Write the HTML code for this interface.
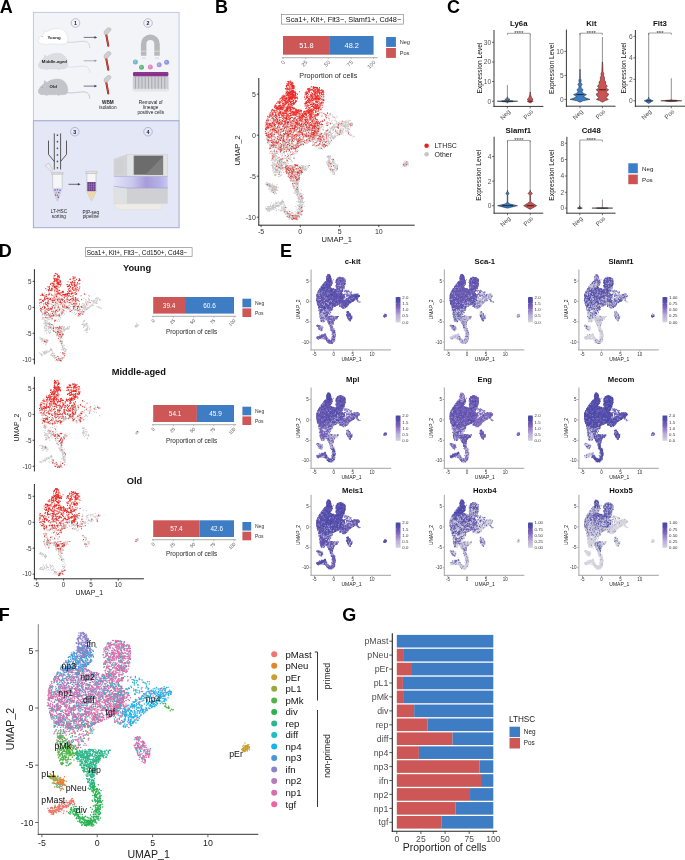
<!DOCTYPE html><html><head><meta charset="utf-8"><style>html,body{margin:0;padding:0;background:#fff}svg{display:block;will-change:transform}text{font-family:"Liberation Sans", sans-serif}</style></head><body>
<svg width="685" height="860" viewBox="0 0 685 860">
<defs><g id="pts" fill="none" stroke-linecap="round" vector-effect="non-scaling-stroke"><path vector-effect="non-scaling-stroke" fill="none" stroke-linecap="round" id="q0a00" d="M-71 176h0M-43 163h0M-61 165h0M-48 161h0M-81 185h0M-79 186h0M-47 164h0M-86 179h0M-45 163h0M-65 176h0M-71 172h0M-80 181h0M-52 171h0M-80 179h0M-69 177h0M-50 164h0M-47 164h0M-46 159h0M-68 170h0M-41 169h0"/><path vector-effect="non-scaling-stroke" fill="none" stroke-linecap="round" id="q0a01" d="M-61 174h0M-69 181h0M-64 168h0M-73 174h0M-63 171h0M-46 166h0M-89 175h0M-43 164h0M-83 179h0M-60 173h0M-57 170h0M-46 166h0M-64 175h0M-70 174h0M-61 174h0M-68 173h0M-64 176h0M-48 166h0"/><path vector-effect="non-scaling-stroke" fill="none" stroke-linecap="round" id="q0b00" d="M-44 163h0M-53 165h0M-43 164h0M-59 172h0M-78 176h0M-63 171h0M-55 165h0M-43 161h0M-67 181h0M-60 166h0M-61 167h0M-68 177h0M-62 173h0"/><path vector-effect="non-scaling-stroke" fill="none" stroke-linecap="round" id="q0b01" d="M-74 177h0M-66 176h0M-54 170h0M-68 168h0M-45 158h0M-83 182h0M-70 176h0M-87 182h0M-55 170h0M-49 162h0M-83 185h0M-47 167h0M-45 163h0M-74 180h0"/><path vector-effect="non-scaling-stroke" fill="none" stroke-linecap="round" id="q0c00" d="M-55 181h0M-76 172h0M-64 166h0M-59 172h0M-75 180h0M-85 179h0M-58 173h0M-74 183h0M-69 179h0M-61 184h0M-50 168h0M-67 126h0M-61 172h0M-49 164h0M-81 182h0M-63 163h0M-81 174h0M-74 165h0M-78 131h0M-78 179h0M-84 175h0M-70 131h0"/><path vector-effect="non-scaling-stroke" fill="none" stroke-linecap="round" id="q0c01" d="M-55 174h0M-75 123h0M-70 171h0M-41 167h0M-70 174h0M-60 172h0M-83 180h0M-88 179h0M-48 167h0M-63 175h0M-86 181h0M-67 136h0M-71 178h0M-83 174h0"/><path vector-effect="non-scaling-stroke" fill="none" stroke-linecap="round" id="q0d00" d="M-79 185h0M-62 166h0M-49 169h0M-81 179h0M-81 118h0M-50 167h0M-66 129h0M-69 169h0M-78 179h0M-68 175h0M-56 162h0M-67 171h0M-53 166h0M-42 164h0M-64 178h0M-76 178h0M-43 163h0M-84 181h0M-65 176h0M-76 173h0M-79 179h0M-58 165h0M-79 180h0M-50 169h0M-84 182h0M-46 162h0M-66 171h0M-50 165h0M-61 171h0M-70 181h0"/><path vector-effect="non-scaling-stroke" fill="none" stroke-linecap="round" id="q0d01" d="M-83 182h0M-75 174h0M-57 171h0M-56 174h0M-85 180h0M-75 180h0M-74 177h0M-74 177h0M-50 168h0M-52 172h0M-56 174h0M-84 182h0M-86 178h0M-59 168h0M-74 178h0M-46 161h0M-83 174h0M-61 172h0M-68 171h0M-86 179h0M-65 177h0M-71 172h0M-81 176h0M-56 171h0M-74 178h0M-69 177h0M-67 141h0M-68 175h0M-60 180h0"/><path vector-effect="non-scaling-stroke" fill="none" stroke-linecap="round" id="q1a00" d="M-72 178h0M-65 125h0M-72 126h0M-71 178h0M-64 127h0M-59 127h0M-62 133h0M-72 129h0M-49 167h0M-64 137h0M-79 127h0M-72 130h0M-54 171h0M-56 128h0M-70 131h0M-69 127h0M-63 135h0"/><path vector-effect="non-scaling-stroke" fill="none" stroke-linecap="round" id="q1a01" d="M-68 169h0M-59 133h0M-62 125h0M-68 131h0M-64 133h0M-76 170h0M-64 141h0M-81 120h0M-66 130h0M-80 122h0M-79 121h0M-69 130h0"/><path vector-effect="non-scaling-stroke" fill="none" stroke-linecap="round" id="q1a10" d="M-61 126h0"/><path vector-effect="non-scaling-stroke" fill="none" stroke-linecap="round" id="q1a11" d="M-65 133h0M-70 131h0"/><path vector-effect="non-scaling-stroke" fill="none" stroke-linecap="round" id="q1b00" d="M-68 127h0M-66 125h0M-68 134h0M-67 122h0M-66 122h0M-61 128h0M-63 131h0M-68 130h0M-61 130h0M-61 126h0M-64 130h0M-66 131h0M-57 135h0"/><path vector-effect="non-scaling-stroke" fill="none" stroke-linecap="round" id="q1b01" d="M-71 132h0M-64 129h0M-63 140h0M-65 132h0M-76 119h0M-71 129h0M-76 127h0M-59 135h0M-68 124h0M-63 128h0"/><path vector-effect="non-scaling-stroke" fill="none" stroke-linecap="round" id="q1b11" d="M-67 126h0"/><path vector-effect="non-scaling-stroke" fill="none" stroke-linecap="round" id="q1c00" d="M-72 127h0M-72 125h0M-76 182h0M-66 131h0M-62 132h0M-66 125h0M-64 177h0"/><path vector-effect="non-scaling-stroke" fill="none" stroke-linecap="round" id="q1c01" d="M-63 129h0M-64 133h0M-63 131h0M-77 121h0M-71 127h0M-67 133h0"/><path vector-effect="non-scaling-stroke" fill="none" stroke-linecap="round" id="q1d00" d="M-64 125h0M-66 130h0M-61 133h0M-77 181h0M-64 127h0M-72 136h0M-72 132h0M-67 131h0M-75 132h0M-62 128h0M-68 128h0M-63 132h0"/><path vector-effect="non-scaling-stroke" fill="none" stroke-linecap="round" id="q1d01" d="M-71 130h0M-73 131h0M-61 124h0M-59 120h0M-69 137h0M-68 131h0M-68 130h0"/><path vector-effect="non-scaling-stroke" fill="none" stroke-linecap="round" id="q1d11" d="M-68 139h0"/><path vector-effect="non-scaling-stroke" fill="none" stroke-linecap="round" id="q2a00" d="M274 68h0M265 76h0M264 73h0M271 71h0M261 72h0M264 70h0M270 71h0M266 68h0"/><path vector-effect="non-scaling-stroke" fill="none" stroke-linecap="round" id="q2a01" d="M267 61h0M265 70h0M266 74h0M263 74h0M269 66h0M271 71h0M270 71h0M271 71h0"/><path vector-effect="non-scaling-stroke" fill="none" stroke-linecap="round" id="q2b00" d="M269 69h0M270 71h0M264 74h0M267 76h0M263 72h0M272 65h0M267 72h0"/><path vector-effect="non-scaling-stroke" fill="none" stroke-linecap="round" id="q2b01" d="M266 69h0M-58 66h0M271 74h0M275 68h0M272 68h0M270 70h0M-65 98h0M268 71h0"/><path vector-effect="non-scaling-stroke" fill="none" stroke-linecap="round" id="q2b10" d="M270 67h0"/><path vector-effect="non-scaling-stroke" fill="none" stroke-linecap="round" id="q2b11" d="M269 66h0"/><path vector-effect="non-scaling-stroke" fill="none" stroke-linecap="round" id="q2c00" d="M271 69h0M-69 70h0M267 75h0M268 68h0M268 72h0M267 73h0M-64 47h0M271 71h0M264 71h0M266 75h0"/><path vector-effect="non-scaling-stroke" fill="none" stroke-linecap="round" id="q2c01" d="M264 73h0M272 67h0M-51 90h0M267 71h0M263 67h0M272 70h0M-53 80h0M266 74h0M272 65h0M269 66h0M272 67h0"/><path vector-effect="non-scaling-stroke" fill="none" stroke-linecap="round" id="q2c10" d="M268 67h0M271 65h0"/><path vector-effect="non-scaling-stroke" fill="none" stroke-linecap="round" id="q2c11" d="M264 73h0"/><path vector-effect="non-scaling-stroke" fill="none" stroke-linecap="round" id="q2d00" d="M274 64h0M265 65h0M273 69h0M275 69h0M269 67h0M-60 51h0M268 71h0M268 66h0"/><path vector-effect="non-scaling-stroke" fill="none" stroke-linecap="round" id="q2d01" d="M275 73h0M268 70h0M271 67h0M272 66h0M264 73h0M271 75h0M268 67h0M268 74h0M269 71h0M266 76h0M262 75h0M269 67h0M274 71h0M-49 67h0M271 68h0"/><path vector-effect="non-scaling-stroke" fill="none" stroke-linecap="round" id="q2d10" d="M271 71h0M271 72h0M263 71h0"/><path vector-effect="non-scaling-stroke" fill="none" stroke-linecap="round" id="q3a00" d="M-80 119h0M-78 119h0M-75 126h0M-56 61h0M-85 123h0M-85 115h0"/><path vector-effect="non-scaling-stroke" fill="none" stroke-linecap="round" id="q3a01" d="M-71 122h0M-66 144h0M-73 138h0M-61 131h0M-87 118h0M-78 125h0M-80 121h0M-76 121h0M-82 120h0"/><path vector-effect="non-scaling-stroke" fill="none" stroke-linecap="round" id="q3b00" d="M-77 138h0M-57 92h0M-84 119h0M-75 124h0M-61 142h0M-39 67h0"/><path vector-effect="non-scaling-stroke" fill="none" stroke-linecap="round" id="q3b01" d="M-79 124h0M-76 124h0M-81 131h0M-79 122h0M-74 137h0M-66 80h0M-87 120h0M-76 125h0M-45 78h0"/><path vector-effect="non-scaling-stroke" fill="none" stroke-linecap="round" id="q3c00" d="M-84 122h0M-86 120h0"/><path vector-effect="non-scaling-stroke" fill="none" stroke-linecap="round" id="q3c01" d="M-66 134h0M-74 122h0M-78 125h0M-67 48h0M-84 116h0M-83 117h0M-85 121h0"/><path vector-effect="non-scaling-stroke" fill="none" stroke-linecap="round" id="q3d00" d="M-76 122h0M-77 127h0M-49 98h0M-79 124h0M-83 122h0M-69 124h0M-75 120h0M-73 56h0"/><path vector-effect="non-scaling-stroke" fill="none" stroke-linecap="round" id="q3d01" d="M-78 122h0M-74 123h0M-83 123h0M-53 93h0M-88 119h0M-74 126h0M-77 118h0"/><path vector-effect="non-scaling-stroke" fill="none" stroke-linecap="round" id="q3d10" d="M-79 123h0M-72 135h0M-84 120h0"/><path vector-effect="non-scaling-stroke" fill="none" stroke-linecap="round" id="q4a00" d="M-68 54h0M-50 97h0M-68 75h0M2 88h0M-61 89h0M-21 40h0M-68 52h0M-55 92h0M-42 68h0M-72 62h0M-61 38h0M-72 47h0M-63 80h0M-36 76h0M-31 92h0M-52 67h0M-62 71h0M-66 58h0M-45 48h0M-63 83h0M-62 65h0M-40 44h0M-14 104h0M129 -1h0M-44 84h0M-7 111h0M-65 70h0M-65 64h0M-66 58h0M-51 67h0M-49 97h0M-66 62h0M-61 87h0M-70 78h0M-66 68h0M137 3h0M-13 44h0M-63 98h0M-68 82h0M-53 80h0M-45 75h0"/><path vector-effect="non-scaling-stroke" fill="none" stroke-linecap="round" id="q4a01" d="M-68 50h0M-52 66h0M-64 70h0M-45 65h0M-51 73h0M-69 63h0M-67 51h0M-64 62h0M-52 68h0M-49 63h0M-9 116h0M-76 126h0M-70 78h0M-59 53h0M-60 75h0M-42 82h0M-23 53h0M-48 79h0M129 -3h0M-52 87h0M-38 36h0M-48 90h0M-55 75h0M-55 80h0M-39 79h0M-52 79h0M-57 62h0M-61 75h0M-58 63h0M-71 59h0M-56 62h0M-32 46h0M-49 78h0M-50 69h0M129 1h0M-69 76h0M134 2h0M-53 67h0M-57 86h0M-61 58h0M-60 68h0M122 -3h0M-47 96h0M-66 89h0M-47 80h0M-55 73h0M-60 60h0M-67 70h0M-63 58h0M-67 89h0"/><path vector-effect="non-scaling-stroke" fill="none" stroke-linecap="round" id="q4a11" d="M-53 64h0M-49 76h0"/><path vector-effect="non-scaling-stroke" fill="none" stroke-linecap="round" id="q4b00" d="M-60 73h0M-60 80h0M-52 74h0M-61 90h0M-55 32h0M-19 106h0M-77 132h0M-71 50h0M132 5h0M-63 97h0M-62 44h0M-56 56h0M-60 80h0M-45 74h0M-66 96h0M-46 34h0M-60 73h0M-40 71h0M-63 87h0M-69 78h0M-69 81h0M-65 74h0M120 -8h0M-56 75h0M-64 78h0M-57 64h0M-70 70h0M-61 97h0M-51 67h0M-57 62h0M-43 71h0M-57 64h0"/><path vector-effect="non-scaling-stroke" fill="none" stroke-linecap="round" id="q4b01" d="M-10 99h0M-65 40h0M-16 129h0M-49 71h0M-70 40h0M-64 96h0M-48 83h0M-67 48h0M-53 68h0M-52 73h0M-75 62h0M-51 99h0M-65 89h0M-65 72h0M-62 92h0M-54 70h0M-61 49h0M-65 81h0M-54 90h0M-74 124h0M-55 86h0M-29 86h0M-58 85h0M-2 95h0M-46 73h0M-58 80h0M-37 78h0M-45 86h0M-36 78h0M-42 91h0"/><path vector-effect="non-scaling-stroke" fill="none" stroke-linecap="round" id="q4b11" d="M-39 78h0M-53 63h0"/><path vector-effect="non-scaling-stroke" fill="none" stroke-linecap="round" id="q4c00" d="M-49 69h0M-55 101h0M-62 58h0M-66 50h0M-68 59h0M-38 79h0M-70 87h0M-53 79h0M-65 51h0M-47 82h0M-43 79h0M-57 85h0M-51 79h0M-71 82h0M-56 76h0M-62 71h0M-15 25h0M-69 85h0M126 -1h0M-48 70h0M-59 57h0M-63 71h0M-27 93h0M-63 77h0M-60 75h0M-81 124h0M-55 70h0"/><path vector-effect="non-scaling-stroke" fill="none" stroke-linecap="round" id="q4c01" d="M-57 90h0M-54 72h0M-60 74h0M-39 81h0M-47 64h0M-55 82h0M-19 112h0M-66 91h0M-52 67h0M-15 128h0M-53 78h0M-54 75h0M-48 67h0M-63 60h0M-57 63h0M-59 89h0M-49 78h0M-56 101h0M-71 77h0M-59 67h0M-54 70h0M-63 49h0M-16 47h0M-51 84h0M-50 74h0M-50 78h0"/><path vector-effect="non-scaling-stroke" fill="none" stroke-linecap="round" id="q4c10" d="M123 -4h0M-59 84h0M-56 78h0M-70 53h0"/><path vector-effect="non-scaling-stroke" fill="none" stroke-linecap="round" id="q4c11" d="M-49 81h0M-46 57h0M-62 84h0M-58 68h0M-60 76h0M123 -8h0M-56 70h0M-72 74h0"/><path vector-effect="non-scaling-stroke" fill="none" stroke-linecap="round" id="q4d00" d="M-51 71h0M-61 90h0M-58 83h0M-68 51h0M137 3h0M-62 85h0M-76 32h0M-66 49h0M-71 66h0M-57 57h0M-16 34h0M124 -7h0M-25 29h0M-48 80h0M-71 119h0M-64 52h0M-47 82h0M-41 79h0M-3 78h0M-38 72h0M-52 71h0M-62 58h0M-59 74h0M-71 44h0M-67 84h0M-44 71h0M124 -2h0M-64 73h0M-52 66h0M-44 79h0M-64 79h0M-66 51h0M-57 89h0M125 -1h0M-67 48h0M-39 72h0M-71 57h0M-62 96h0M-61 38h0M-44 77h0M-57 68h0M-63 90h0M-47 68h0M-66 44h0M-69 49h0M-32 83h0M-58 76h0M-64 90h0"/><path vector-effect="non-scaling-stroke" fill="none" stroke-linecap="round" id="q4d01" d="M-70 78h0M-66 74h0M-51 79h0M-68 72h0M-66 49h0M-52 89h0M-50 82h0M-70 77h0M130 0h0M-52 76h0M-20 40h0M128 0h0M119 -8h0M-49 63h0M-28 58h0M-63 55h0M-60 85h0M-56 72h0M-60 52h0M-65 98h0M-73 60h0M-51 77h0M-67 130h0M-37 73h0M-43 68h0M-63 95h0M-56 86h0M-59 69h0M-41 83h0M-55 67h0M-38 72h0M-47 44h0M-60 86h0M-71 73h0M-48 77h0M-34 66h0M-56 77h0M-54 73h0M-44 69h0M-50 75h0"/><path vector-effect="non-scaling-stroke" fill="none" stroke-linecap="round" id="q4d10" d="M-51 82h0M-49 26h0M-53 78h0M-50 60h0M-76 31h0M-70 50h0"/><path vector-effect="non-scaling-stroke" fill="none" stroke-linecap="round" id="q4d11" d="M-45 80h0M-47 73h0M-60 75h0M5 91h0"/><path vector-effect="non-scaling-stroke" fill="none" stroke-linecap="round" id="q5a00" d="M-4 153h0M-2 151h0M-43 177h0M7 165h0M-3 198h0M-37 184h0M-32 198h0M-5 197h0M0 163h0M-4 155h0M-27 204h0M0 194h0M-38 176h0M-11 201h0M-3 180h0M-1 180h0M0 183h0M6 163h0M-8 163h0M0 79h0M-5 132h0M-11 206h0M-27 192h0M-18 191h0M2 158h0M-13 111h0M-16 86h0M-2 145h0M-7 191h0M-31 185h0M-4 195h0M5 176h0M-11 196h0M-34 177h0M-40 176h0M-21 204h0M-11 202h0M-7 191h0M-15 203h0M-45 183h0M-32 196h0M3 147h0M9 168h0M-19 198h0M-16 198h0M-22 200h0M1 165h0M1 159h0M-2 175h0M1 182h0M1 177h0M-43 177h0M1 178h0M-3 163h0M-4 179h0M3 74h0M-56 171h0M-11 200h0M1 192h0"/><path vector-effect="non-scaling-stroke" fill="none" stroke-linecap="round" id="q5a01" d="M6 169h0M-19 200h0M-12 174h0M3 157h0M-9 203h0M-4 200h0M-4 151h0M-3 155h0M-4 195h0M0 159h0M-5 153h0M-6 197h0M-14 199h0M-42 178h0M-4 179h0M-6 130h0M6 171h0M-21 204h0M0 162h0M-4 110h0M-19 205h0M-2 156h0M-8 146h0M-4 138h0M-27 105h0M5 159h0M-18 200h0M1 193h0M0 194h0M-31 195h0M-19 203h0M-16 197h0M2 192h0M-48 183h0M-7 77h0M-28 205h0M-2 146h0M-40 185h0M-79 183h0M-34 188h0M-18 201h0M-34 186h0M-41 176h0M4 170h0M-43 185h0M-41 188h0M-6 140h0M-18 197h0"/><path vector-effect="non-scaling-stroke" fill="none" stroke-linecap="round" id="q5a10" d="M-21 205h0M-14 203h0M-9 197h0M-28 193h0M-34 186h0M-4 195h0M-8 206h0M-21 189h0"/><path vector-effect="non-scaling-stroke" fill="none" stroke-linecap="round" id="q5a11" d="M-18 196h0M-11 205h0M-8 140h0M4 186h0M2 178h0M-26 200h0"/><path vector-effect="non-scaling-stroke" fill="none" stroke-linecap="round" id="q5b00" d="M-2 152h0M2 134h0M-14 199h0M-7 191h0M-11 201h0M-17 201h0M-40 172h0M-37 183h0M4 161h0M-23 195h0M-19 197h0M-17 199h0M-36 186h0M-7 203h0M-7 171h0M-10 126h0M-20 200h0M-5 135h0M5 152h0M-40 180h0M-1 178h0M-2 190h0M2 173h0M-38 181h0M-4 160h0M-63 172h0M-39 184h0M-37 183h0M-3 155h0M-22 201h0M2 173h0M0 162h0M1 162h0M-40 186h0M-19 200h0M0 174h0M-4 171h0M-25 194h0M-40 176h0M3 184h0M-41 179h0M-10 202h0M-5 144h0M6 184h0M-6 205h0M2 145h0M-14 200h0M5 177h0M-12 187h0M-27 199h0M-2 154h0"/><path vector-effect="non-scaling-stroke" fill="none" stroke-linecap="round" id="q5b01" d="M-15 204h0M6 174h0M-1 146h0M-52 183h0M6 158h0M-16 202h0M-3 164h0M-2 185h0M4 171h0M-2 169h0M-17 204h0M-9 139h0M-43 173h0M-4 153h0M-4 151h0M-3 142h0M0 167h0M-38 185h0M-8 198h0M1 164h0M-79 184h0M-68 173h0M6 155h0M5 177h0M3 180h0M-12 193h0M-11 194h0M-36 188h0M0 151h0M-1 153h0M-12 120h0M-17 204h0M-10 182h0M-51 169h0M-10 130h0M7 165h0M-22 190h0M-40 176h0M0 170h0M-1 141h0M-27 190h0M-7 145h0M-21 196h0"/><path vector-effect="non-scaling-stroke" fill="none" stroke-linecap="round" id="q5b10" d="M-13 201h0M-8 199h0M-27 186h0M-32 199h0M-22 204h0M3 194h0M-37 176h0M-17 201h0M-4 189h0M-29 201h0"/><path vector-effect="non-scaling-stroke" fill="none" stroke-linecap="round" id="q5b11" d="M-12 196h0M-15 203h0M-32 190h0M-17 203h0M-25 193h0M-40 187h0M4 148h0M7 153h0"/><path vector-effect="non-scaling-stroke" fill="none" stroke-linecap="round" id="q5c00" d="M-7 190h0M-38 172h0M2 149h0M-3 149h0M8 164h0M-48 177h0M4 157h0M-50 184h0M-18 200h0M-5 138h0M1 171h0M-6 142h0M-26 80h0M-7 197h0M-1 143h0M-24 201h0M-1 201h0M-7 186h0M-42 181h0M-13 192h0M-11 199h0M-43 185h0M-24 101h0M-3 186h0M-5 142h0M-19 206h0M0 142h0M-41 181h0M-12 197h0M-27 192h0M-29 199h0M1 142h0M6 184h0M-15 201h0M-4 170h0M4 171h0M-3 171h0M-44 169h0M-47 174h0M-5 142h0M-1 178h0M4 181h0M-24 196h0M-35 198h0"/><path vector-effect="non-scaling-stroke" fill="none" stroke-linecap="round" id="q5c01" d="M-31 182h0M-9 196h0M-31 193h0M-34 192h0M-36 178h0M3 174h0M-38 186h0M-20 199h0M-27 193h0M-15 201h0M-10 126h0M3 170h0M-7 198h0M-2 163h0M-6 185h0M-27 193h0M-27 97h0M-7 142h0M-39 182h0M0 190h0M-16 140h0M-16 203h0M-24 191h0M-3 151h0M-12 97h0M-16 196h0M-1 189h0M-16 192h0M0 177h0M-12 197h0M1 176h0"/><path vector-effect="non-scaling-stroke" fill="none" stroke-linecap="round" id="q5c10" d="M2 186h0M-3 199h0M-32 190h0M-13 199h0M-6 196h0M-1 189h0"/><path vector-effect="non-scaling-stroke" fill="none" stroke-linecap="round" id="q5c11" d="M-15 198h0M-11 196h0M-16 201h0M-19 205h0M-5 190h0M-14 204h0M-15 204h0M5 185h0M-8 145h0"/><path vector-effect="non-scaling-stroke" fill="none" stroke-linecap="round" id="q5d00" d="M-2 182h0M0 141h0M4 163h0M-23 205h0M-37 193h0M-38 193h0M-10 200h0M-24 192h0M-4 197h0M-25 202h0M6 192h0M-39 181h0M-2 147h0M-47 175h0M4 142h0M-77 174h0M5 158h0M-23 76h0M-25 200h0M-11 139h0M-14 124h0M-34 190h0M-39 181h0M-47 179h0M-15 204h0M-13 197h0M-20 199h0M-5 153h0M-6 181h0M-4 160h0M-10 190h0M1 163h0M-9 202h0M1 165h0M4 148h0M-3 155h0M6 162h0M-14 142h0M-49 181h0M-45 180h0M5 182h0M7 144h0M-1 181h0M-31 193h0M-2 190h0M-8 144h0M-6 193h0M10 173h0M-13 198h0M-11 194h0M-22 202h0M-2 192h0M-14 103h0M0 145h0M-8 139h0M-19 200h0M5 161h0M5 149h0"/><path vector-effect="non-scaling-stroke" fill="none" stroke-linecap="round" id="q5d01" d="M-35 189h0M-23 198h0M-16 199h0M-46 177h0M1 158h0M-12 200h0M-2 155h0M-7 148h0M-4 185h0M1 167h0M-29 192h0M-15 201h0M-30 200h0M-49 185h0M-15 201h0M-2 190h0M-11 197h0M0 156h0M-77 174h0M-11 142h0M-24 112h0M-38 187h0M-6 138h0M-18 198h0M3 189h0M-9 177h0M-14 198h0M-2 181h0M3 176h0M-12 197h0M-2 93h0M-3 177h0M-31 196h0M-7 142h0M-4 185h0M-34 193h0M-28 82h0M-1 156h0M-1 177h0M-4 162h0M-9 161h0M-42 178h0M1 159h0M1 189h0M-7 136h0M-8 153h0"/><path vector-effect="non-scaling-stroke" fill="none" stroke-linecap="round" id="q5d10" d="M5 80h0M-13 197h0M-6 189h0M-14 199h0M-10 204h0M1 149h0M-13 196h0M-21 196h0M-11 201h0M-27 195h0M-18 200h0M-14 202h0"/><path vector-effect="non-scaling-stroke" fill="none" stroke-linecap="round" id="q5d11" d="M3 176h0M-20 196h0M-28 199h0M-8 199h0M-31 191h0M-16 203h0M-16 203h0M-19 197h0M-17 203h0M4 154h0"/><path vector-effect="non-scaling-stroke" fill="none" stroke-linecap="round" id="q6a00" d="M10 162h0M2 87h0M-5 85h0M2 91h0M7 83h0M7 85h0M-30 86h0M13 76h0M-11 95h0M-23 108h0M-28 82h0M-3 100h0M-24 84h0M14 76h0M-14 131h0M-37 78h0M-2 83h0M-44 78h0M-56 95h0M-11 129h0M10 82h0M-17 99h0M14 78h0M18 82h0M1 93h0M-13 125h0M-17 125h0M-37 191h0M-9 133h0M-7 99h0M4 88h0M-22 85h0M-7 74h0M-5 94h0M12 83h0M16 85h0M-14 82h0M16 81h0M-37 76h0M-3 104h0M-2 78h0M0 86h0M-14 90h0M-16 200h0M-1 83h0M-13 203h0M-9 137h0M-4 72h0M-4 150h0M-6 126h0M-26 109h0M-19 84h0M-52 100h0M-17 87h0M-68 92h0M-2 75h0"/><path vector-effect="non-scaling-stroke" fill="none" stroke-linecap="round" id="q6a01" d="M-23 108h0M-27 76h0M-41 68h0M20 75h0M4 86h0M-9 109h0M-7 97h0M-26 95h0M4 79h0M-34 191h0M-13 77h0M-13 103h0M-10 108h0M-14 85h0M-9 102h0M-12 116h0M-59 62h0M-16 77h0M-10 102h0M-10 133h0M-15 117h0M-24 87h0M20 79h0M-4 99h0M-22 106h0M-18 111h0M-56 80h0M-17 91h0M-11 120h0M-25 100h0M-11 110h0M-24 81h0M-8 80h0M-5 133h0M1 85h0M-36 83h0M-20 84h0M-6 118h0M-15 100h0M-4 137h0M23 74h0M-14 89h0M-21 88h0M-10 133h0"/><path vector-effect="non-scaling-stroke" fill="none" stroke-linecap="round" id="q6a10" d="M-18 79h0M-10 116h0M-14 73h0M-19 80h0M-3 106h0M-36 90h0M-22 99h0M-5 107h0M-36 76h0M-12 90h0M-22 93h0M-8 111h0M-18 91h0M-23 104h0M-23 77h0"/><path vector-effect="non-scaling-stroke" fill="none" stroke-linecap="round" id="q6a11" d="M-14 79h0M-9 82h0M-2 103h0M-16 104h0M-17 110h0M-35 93h0M-38 88h0M-13 76h0M-10 130h0M-13 96h0M-7 91h0M-9 114h0M-29 96h0M-18 96h0M-12 105h0M-37 81h0M-23 94h0M-19 119h0M-28 78h0M-3 174h0"/><path vector-effect="non-scaling-stroke" fill="none" stroke-linecap="round" id="q6b00" d="M-25 106h0M-13 137h0M-17 130h0M4 78h0M-25 89h0M-1 90h0M-5 109h0M-17 76h0M2 163h0M-22 100h0M-9 115h0M-3 147h0M-13 76h0M6 88h0M-4 103h0M-8 126h0M-6 136h0M-12 141h0M-13 84h0M-1 170h0M-5 112h0M-25 86h0M-9 102h0M-2 101h0M-27 77h0M-36 83h0M0 92h0M-13 112h0M-5 104h0M-23 196h0"/><path vector-effect="non-scaling-stroke" fill="none" stroke-linecap="round" id="q6b01" d="M-8 76h0M-12 133h0M20 76h0M-30 99h0M-14 135h0M4 79h0M-44 80h0M-19 79h0M-6 128h0M-9 138h0M-25 89h0M-5 100h0M-9 93h0M-12 93h0M-31 93h0M7 77h0M-3 110h0M-24 80h0M8 76h0M-37 81h0M5 85h0M2 83h0M-6 136h0M-19 102h0M3 87h0M-28 97h0M-8 125h0M-10 121h0M8 82h0M-67 61h0M-8 92h0M2 89h0M-43 181h0"/><path vector-effect="non-scaling-stroke" fill="none" stroke-linecap="round" id="q6b10" d="M-8 117h0M-9 90h0M-15 103h0M-5 101h0M-7 74h0M-11 95h0M-30 78h0M-15 84h0M3 94h0M1 90h0M-7 94h0M-36 75h0M-20 117h0M-35 80h0M1 86h0M-9 109h0"/><path vector-effect="non-scaling-stroke" fill="none" stroke-linecap="round" id="q6b11" d="M-8 73h0M-21 92h0M-53 90h0M-23 76h0M-20 80h0M-18 82h0M-29 93h0M12 83h0M-8 91h0M-7 108h0M-24 111h0M-21 85h0M-12 100h0M-33 84h0M-11 96h0M-6 105h0M-12 73h0M-6 137h0M-7 119h0M-30 83h0M-10 111h0M-3 98h0M-15 103h0"/><path vector-effect="non-scaling-stroke" fill="none" stroke-linecap="round" id="q6c00" d="M-35 77h0M-23 87h0M-4 103h0M-12 137h0M-1 96h0M-16 73h0M-15 98h0M-19 123h0M9 80h0M-30 91h0M-12 95h0M-32 75h0M10 76h0M-6 111h0M-11 73h0M-18 115h0M-35 84h0M-27 78h0M-11 131h0M17 74h0M-21 101h0M-62 76h0M6 75h0M-6 182h0M-70 67h0M6 74h0M-3 83h0M-30 99h0M-5 93h0M-25 105h0M9 83h0M-64 99h0M-18 88h0M-19 199h0M-2 88h0M-33 88h0M-29 75h0M-21 95h0M5 78h0M-25 109h0M-23 77h0"/><path vector-effect="non-scaling-stroke" fill="none" stroke-linecap="round" id="q6c01" d="M-24 105h0M-14 99h0M-21 76h0M14 80h0M-14 109h0M-10 112h0M9 83h0M-12 133h0M-17 81h0M-21 77h0M-12 118h0M-4 81h0M-28 104h0M-22 79h0M16 86h0M-1 84h0M2 95h0M-13 112h0M-7 98h0M-37 87h0M-20 76h0M-37 77h0M-15 74h0M-44 79h0M-12 81h0M-34 79h0M10 85h0M3 92h0M14 75h0M-17 119h0M-22 73h0M-9 118h0M-17 103h0M-69 67h0M0 77h0M-15 85h0M-3 88h0M-16 111h0M-9 135h0M2 84h0M-8 130h0M-67 82h0"/><path vector-effect="non-scaling-stroke" fill="none" stroke-linecap="round" id="q6c10" d="M-12 104h0M-34 80h0M-54 96h0M-22 93h0M-23 101h0M-21 89h0M1 81h0M-31 77h0M-17 86h0M3 85h0M1 78h0M-18 88h0M-5 90h0M-24 91h0M-21 86h0M4 90h0M1 90h0M-2 107h0M-28 86h0M-7 95h0M-5 93h0M-21 75h0M-22 87h0"/><path vector-effect="non-scaling-stroke" fill="none" stroke-linecap="round" id="q6c11" d="M-6 119h0M-28 91h0M-3 92h0M-20 91h0M-13 101h0M-18 106h0M-4 82h0M-10 74h0M-25 84h0M-9 84h0M-10 107h0M-9 81h0M4 88h0M-16 91h0M-2 93h0M-19 101h0M-27 82h0M-1 87h0M23 74h0M-10 102h0"/><path vector-effect="non-scaling-stroke" fill="none" stroke-linecap="round" id="q6d00" d="M-30 81h0M20 78h0M8 75h0M-9 99h0M-3 181h0M-18 84h0M-33 79h0M-18 91h0M2 193h0M9 77h0M-4 107h0M-10 83h0M-32 79h0M-35 85h0M12 80h0M-10 145h0M-10 99h0M-16 112h0M6 84h0M-20 86h0M-15 114h0M3 196h0M4 165h0M-20 99h0M-1 91h0M-17 128h0M9 77h0M4 155h0M-26 104h0M-5 123h0M-16 129h0M-37 88h0M-5 94h0M-6 138h0M-23 110h0M-28 199h0M5 80h0M-14 196h0M-18 117h0M-16 83h0M-26 85h0M-12 82h0M-23 108h0M1 77h0M2 76h0M11 85h0M-7 135h0M-18 108h0M-49 78h0M-5 131h0M-26 79h0M-14 126h0M-7 128h0M-15 83h0M-29 86h0M-24 99h0M-11 90h0M22 74h0M-63 82h0M-23 110h0M-8 134h0M-5 157h0M-28 96h0M4 90h0M-24 194h0M-3 93h0M-65 54h0M-7 138h0M-10 122h0M-28 87h0"/><path vector-effect="non-scaling-stroke" fill="none" stroke-linecap="round" id="q6d01" d="M-2 91h0M-19 94h0M-14 109h0M-35 77h0M6 82h0M-4 161h0M16 86h0M-1 91h0M8 78h0M-9 138h0M-34 89h0M-4 77h0M-9 120h0M-6 118h0M-2 79h0M-11 120h0M3 88h0M-8 116h0M-7 132h0M9 80h0M-30 76h0M-31 98h0M1 162h0M4 83h0M6 75h0M-12 135h0M-11 132h0M-52 67h0M-6 115h0M-29 85h0M-34 85h0M3 74h0M-15 124h0M-18 81h0M-12 80h0M-20 86h0M-7 194h0M-64 86h0M-1 97h0M6 83h0M-11 95h0M-11 133h0M-8 121h0M-13 83h0M3 163h0M-9 112h0M-5 77h0M-18 201h0M-16 102h0M-9 95h0M-7 85h0M-22 93h0M-15 93h0M-16 79h0M-7 138h0M-4 76h0M-16 113h0M4 83h0M3 180h0M-6 77h0M-17 96h0M-9 106h0M-19 78h0M-55 60h0M1 183h0M12 87h0"/><path vector-effect="non-scaling-stroke" fill="none" stroke-linecap="round" id="q6d10" d="M-28 103h0M-14 117h0M-25 101h0M-10 96h0M-19 95h0M-22 97h0M-18 83h0M-2 97h0M-21 88h0M-7 127h0M-33 82h0M-19 102h0M-36 76h0M-31 100h0M-16 99h0M-36 82h0M-4 90h0M-36 84h0M-10 73h0M-6 92h0M-35 87h0M-38 79h0M-9 104h0M3 150h0M-32 80h0M-3 92h0M-19 93h0M-4 106h0"/><path vector-effect="non-scaling-stroke" fill="none" stroke-linecap="round" id="q6d11" d="M-3 86h0M3 88h0M-12 73h0M-14 97h0M-18 84h0M-14 97h0M-26 74h0M-8 109h0M-26 82h0M-29 82h0M-24 105h0M-35 89h0M-36 76h0M-23 82h0M-32 74h0M-28 90h0M-31 94h0M-9 109h0M-3 92h0M-14 72h0M-30 86h0M-21 93h0M-27 87h0M-33 90h0M-19 78h0M3 90h0M-18 124h0M-8 132h0M-16 88h0M-21 111h0M-2 78h0M-26 97h0"/><path vector-effect="non-scaling-stroke" fill="none" stroke-linecap="round" id="q7a00" d="M80 -5h0M46 -21h0M31 -18h0M-41 23h0M-31 54h0M-22 31h0M40 20h0M-33 -8h0M-11 -9h0M-55 -49h0M31 19h0M-20 94h0M6 -18h0M-79 131h0M94 -46h0M-64 -18h0M24 14h0M-8 28h0M-16 13h0M-65 -11h0M101 -7h0M-74 -6h0M78 74h0M-53 59h0M-6 26h0M-63 49h0M-83 16h0M39 13h0M74 -36h0M-48 3h0M-78 24h0M-48 33h0M33 -25h0M90 72h0M48 -21h0M133 -29h0M81 88h0M-64 30h0M-31 6h0M-10 30h0M26 6h0M38 5h0M-80 19h0M-10 4h0"/><path vector-effect="non-scaling-stroke" fill="none" stroke-linecap="round" id="q7a01" d="M47 -3h0M-2 21h0M-11 38h0M57 16h0M43 26h0M0 -44h0M-70 133h0M-17 29h0M-21 -40h0M-61 41h0M-55 26h0M-64 31h0M50 -17h0M70 21h0M94 -42h0M69 63h0M-1 17h0M-73 -30h0M69 21h0M45 -18h0M-83 -36h0M-23 6h0M95 -3h0M58 1h0M67 -10h0M87 79h0M27 -12h0M-61 14h0M-80 15h0M-56 29h0M-52 36h0M-41 -5h0M83 60h0M88 77h0M-31 32h0M46 -29h0M-29 -5h0M81 89h0M112 -24h0M-66 34h0M-69 18h0M86 89h0M-43 13h0M42 28h0M-18 47h0M-22 1h0M42 -27h0M93 -20h0M-56 -25h0M-35 17h0M41 -8h0M-14 31h0M-28 -1h0M91 -21h0M111 -23h0M-3 -9h0M82 -22h0M-22 -5h0M-18 99h0M121 -37h0M-50 9h0M25 -3h0M83 83h0M-30 22h0M77 70h0M-22 9h0M97 -5h0"/><path vector-effect="non-scaling-stroke" fill="none" stroke-linecap="round" id="q7a10" d="M-6 -45h0M-39 -47h0M-28 26h0M21 -83h0M58 -109h0M-44 33h0M-42 42h0M22 -26h0M29 -53h0M-57 -5h0M37 -16h0M15 0h0M-31 -74h0M17 -81h0M-25 32h0M-55 24h0M37 -33h0M50 -77h0M2 -46h0M-18 -32h0M18 -55h0M49 -27h0M16 -99h0M-6 -57h0M47 -52h0M39 -87h0M-83 -30h0M-15 7h0M-44 -67h0M-14 -88h0M-41 23h0M-11 -20h0M-77 -54h0M19 -64h0M-61 -10h0M37 -5h0M51 -96h0M-54 -15h0M21 -88h0M-39 -80h0M-40 23h0M-33 -81h0M-42 30h0M-17 2h0M-20 -22h0M-44 15h0M-19 -87h0M-48 -89h0M9 -42h0M-33 52h0M-25 -41h0M-60 19h0M15 0h0M41 -65h0M-50 40h0M-69 -34h0"/><path vector-effect="non-scaling-stroke" fill="none" stroke-linecap="round" id="q7a11" d="M-39 -34h0M-39 33h0M-37 30h0M54 32h0M10 -3h0M0 -50h0M42 -83h0M-11 -56h0M-73 -13h0M-31 -68h0M-88 -17h0M53 -2h0M-65 -73h0M59 -79h0M46 -63h0M39 -81h0M42 -95h0M25 15h0M15 -80h0M31 -54h0M-43 8h0M0 -59h0M43 9h0M-17 -97h0M43 -23h0M11 -51h0M14 -31h0M-53 30h0M59 -93h0M44 -36h0M44 -51h0M1 12h0M3 -25h0M12 -88h0M36 2h0M-71 -28h0M-63 -43h0M15 -61h0M44 -38h0M-48 -32h0M10 1h0M47 -108h0M30 -33h0M-18 -66h0M-48 36h0M16 -47h0M36 -112h0M31 -59h0M-51 -72h0M41 -116h0M-25 -63h0M22 -45h0M20 -84h0M45 -34h0M17 -81h0M40 -17h0M-83 4h0M34 -76h0M13 -51h0"/><path vector-effect="non-scaling-stroke" fill="none" stroke-linecap="round" id="q7b00" d="M-39 33h0M26 -19h0M-84 -37h0M19 -21h0M-27 29h0M129 -29h0M-29 100h0M-31 64h0M77 86h0M-17 24h0M66 -33h0M65 17h0M35 4h0M-78 16h0M-73 -45h0M54 14h0M-39 -49h0M19 -52h0M-70 -52h0M76 72h0M-26 22h0M-19 23h0M-72 51h0M-48 51h0M-5 25h0M-63 16h0M-16 -11h0M-53 63h0M-43 10h0M-51 34h0M44 -17h0M19 -16h0M27 13h0M20 -23h0"/><path vector-effect="non-scaling-stroke" fill="none" stroke-linecap="round" id="q7b01" d="M-18 -19h0M48 -16h0M59 11h0M-37 24h0M85 -24h0M5 19h0M17 14h0M-19 28h0M114 -18h0M72 -31h0M123 -28h0M34 7h0M-78 121h0M-49 67h0M-48 -12h0M-25 24h0M-12 27h0M-69 30h0M67 21h0M21 7h0M-6 116h0M-15 31h0M-40 50h0M77 -6h0M73 80h0M-7 -9h0M-33 33h0M-65 13h0M-24 22h0M65 -11h0M-39 17h0M-45 60h0M-20 -12h0M90 -14h0M71 -48h0M-62 4h0M-35 -5h0M-3 11h0"/><path vector-effect="non-scaling-stroke" fill="none" stroke-linecap="round" id="q7b10" d="M-67 16h0M32 -77h0M-72 -59h0M-57 31h0M94 -5h0M13 -55h0M-19 -102h0M32 -19h0M37 -35h0M-26 -60h0M34 -55h0M-71 -52h0M-3 12h0M-20 -67h0M43 -49h0M41 -106h0M-48 -29h0M-12 -91h0M-86 -36h0M-39 -89h0M-82 -46h0M41 -93h0M-61 -65h0M-75 -24h0M18 -30h0M-9 -53h0M-62 17h0M31 -2h0M10 -55h0M-9 0h0M-46 -93h0M-51 -57h0M-56 -12h0M-7 28h0M60 24h0M-66 -27h0M49 -115h0M-49 -43h0M-21 -34h0M-62 -56h0M-17 -8h0M24 -113h0M33 16h0M-31 5h0M-71 -43h0M38 -43h0M-50 36h0M59 -86h0M-58 17h0M-80 -37h0M-33 -23h0M54 -78h0M-66 21h0M30 -80h0"/><path vector-effect="non-scaling-stroke" fill="none" stroke-linecap="round" id="q7b11" d="M53 -108h0M-11 25h0M-31 -38h0M-51 -2h0M-29 57h0M-4 -33h0M7 -1h0M30 9h0M-16 -94h0M-35 -59h0M56 -79h0M25 -85h0M-45 -41h0M-83 -17h0M46 -96h0M4 -3h0M-62 -52h0M44 -25h0M-61 18h0M-34 -60h0M24 -24h0M-78 -44h0M-15 -16h0M-70 25h0M-56 -9h0M16 -13h0M-27 25h0M61 27h0M39 -38h0M24 -12h0M43 -8h0M-35 -65h0M2 -16h0M23 -43h0M-78 33h0M-48 -50h0M-22 6h0M-39 -76h0M54 -27h0M-55 -29h0M10 -17h0M35 2h0M-12 36h0M-79 -24h0M32 -35h0M-18 15h0M-44 -1h0M-29 10h0M-73 17h0M-33 -6h0M-25 -71h0M-69 -28h0M15 -24h0M-59 21h0M52 8h0M99 -29h0M-47 -62h0M-74 25h0M18 -105h0M-36 -45h0M26 -55h0M-35 -17h0M42 -70h0M-80 -18h0M16 -92h0M21 -63h0M-69 16h0M69 -30h0M32 -12h0M44 -105h0M129 -24h0M-42 34h0M41 -92h0M-64 -15h0M-22 -1h0"/><path vector-effect="non-scaling-stroke" fill="none" stroke-linecap="round" id="q7c00" d="M-85 1h0M70 -32h0M71 51h0M-30 21h0M78 5h0M80 87h0M105 -31h0M38 -44h0M42 -22h0M83 66h0M-28 27h0M54 29h0M52 -25h0M83 64h0M-62 52h0M13 20h0M-15 -20h0M22 -4h0M53 -33h0M20 2h0M-11 131h0M-82 0h0M83 -21h0M80 69h0M78 76h0M-11 115h0M44 -24h0M-34 37h0M-25 -13h0M84 66h0M-69 133h0M-15 14h0M11 -1h0M116 -20h0M59 9h0M-60 30h0M23 -37h0M-87 121h0M-26 -5h0M-27 12h0M39 26h0M40 -14h0M-80 16h0"/><path vector-effect="non-scaling-stroke" fill="none" stroke-linecap="round" id="q7c01" d="M9 9h0M29 6h0M71 72h0M-79 119h0M-52 33h0M-23 29h0M-42 -13h0M104 -4h0M-57 33h0M5 -47h0M-37 -2h0M70 70h0M36 -15h0M-46 10h0M44 -37h0M-18 -42h0M-86 7h0M25 -15h0M77 83h0M73 -47h0M-67 137h0M39 1h0M-19 101h0M-50 -32h0M32 -33h0M-7 -2h0M81 2h0M-36 -9h0M-9 25h0M41 26h0M-25 30h0M42 -24h0M-58 -5h0M92 80h0M101 -29h0M-47 -34h0M-72 -27h0"/><path vector-effect="non-scaling-stroke" fill="none" stroke-linecap="round" id="q7c10" d="M0 -22h0M-86 -13h0M5 15h0M-59 -38h0M44 -101h0M-70 -3h0M-39 -41h0M48 -112h0M40 -28h0M47 -109h0M-9 12h0M54 -111h0M-47 1h0M-21 47h0M-12 -19h0M21 -113h0M-25 -11h0M-62 44h0M42 -4h0M40 -23h0M-16 -66h0M12 -28h0M51 11h0M-46 23h0M11 -93h0M103 -12h0M-50 -55h0M43 -116h0M0 -12h0M-6 -3h0M-72 44h0M-31 18h0M-56 -54h0M34 -42h0M19 -39h0M20 0h0M54 -94h0M-62 -49h0M20 -16h0M30 -36h0M49 -30h0M3 -48h0M21 -55h0M-18 -7h0M57 -35h0M-70 -13h0M12 -29h0M42 -6h0M24 -39h0M29 -97h0M-82 -24h0M45 -87h0M-31 -47h0M-37 -62h0M-17 -14h0M34 -1h0M1 23h0M39 -112h0M14 -43h0"/><path vector-effect="non-scaling-stroke" fill="none" stroke-linecap="round" id="q7c11" d="M-13 32h0M25 -92h0M-38 -7h0M-10 -1h0M-12 33h0M44 -11h0M-70 16h0M32 0h0M37 -117h0M27 -45h0M23 -81h0M28 -75h0M35 -7h0M48 -107h0M31 -7h0M13 -53h0M-9 30h0M-40 -55h0M-87 -16h0M-8 -56h0M-42 -4h0M-32 -3h0M-8 40h0M-78 5h0M24 -67h0M-26 -101h0M-13 -22h0M-53 -54h0M-27 -11h0M27 -39h0M-8 -18h0M19 -40h0M-7 25h0M-35 -63h0M43 -103h0M47 -73h0M32 25h0M66 25h0M-43 -98h0M68 -24h0M44 -98h0M-58 -34h0M-35 -37h0M-70 25h0M-38 20h0M41 -79h0M-77 -10h0M-10 -92h0M6 22h0M28 -46h0M-62 14h0M49 -102h0M-3 25h0M50 -55h0M-1 -53h0M12 -77h0M1 10h0M-30 -64h0M-18 29h0M44 -71h0M-14 1h0M19 -31h0M32 -30h0M-4 -9h0M6 -47h0M-73 18h0M60 -85h0M-53 -30h0"/><path vector-effect="non-scaling-stroke" fill="none" stroke-linecap="round" id="q7d00" d="M37 -24h0M-43 17h0M-17 6h0M-51 24h0M-73 -3h0M-70 27h0M-47 5h0M-52 -15h0M-59 42h0M89 -22h0M94 80h0M-50 21h0M-60 -8h0M77 64h0M-19 75h0M-35 82h0M-39 15h0M67 -40h0M-54 26h0M-36 -26h0M73 54h0M104 -34h0M-72 3h0M-82 2h0M-75 27h0M-27 -34h0M88 3h0M-73 15h0M-51 25h0M119 -32h0M-35 -33h0M62 5h0M71 -44h0M27 -19h0M-20 -5h0M88 -43h0M77 52h0M18 11h0M71 74h0M-45 21h0M-2 15h0M0 90h0M50 28h0M11 1h0M17 13h0M112 -23h0M-37 32h0M29 -38h0M14 -1h0M30 -21h0M-5 -18h0M-71 124h0M111 -28h0M-47 -11h0M-27 56h0M115 -27h0M-35 21h0M47 24h0M-73 29h0M38 -26h0M-44 55h0M37 -12h0M117 -10h0M-65 21h0M-18 -20h0M-31 -22h0M-24 31h0M-66 6h0M107 -5h0M74 -1h0M-75 24h0M96 71h0M5 16h0M-80 1h0"/><path vector-effect="non-scaling-stroke" fill="none" stroke-linecap="round" id="q7d01" d="M-20 17h0M91 75h0M34 -20h0M38 -39h0M-31 12h0M65 23h0M-47 35h0M-84 13h0M-14 112h0M31 4h0M89 -37h0M-9 44h0M68 -48h0M-31 82h0M-16 129h0M-74 134h0M51 12h0M-39 31h0M-74 38h0M-32 33h0M-8 27h0M-2 19h0M111 -15h0M70 -28h0M81 -12h0M-65 141h0M-38 21h0M-3 113h0M49 -24h0M90 -19h0M87 -18h0M-71 139h0M17 -11h0M-11 7h0M8 -35h0M19 16h0M88 -35h0M32 11h0M84 89h0M-11 133h0M25 -39h0M-43 22h0M-68 1h0M-71 119h0M83 -45h0M-30 15h0M-74 -34h0M128 -18h0M-37 18h0M-62 135h0M67 -45h0M-58 -44h0M101 -33h0M-31 33h0M-62 21h0"/><path vector-effect="non-scaling-stroke" fill="none" stroke-linecap="round" id="q7d10" d="M47 -106h0M-9 132h0M-35 -41h0M13 -37h0M25 -40h0M30 -38h0M6 -47h0M43 1h0M-43 2h0M64 26h0M23 -59h0M-37 -59h0M-14 -40h0M55 -55h0M-68 -28h0M-4 16h0M20 -30h0M69 -24h0M-16 -41h0M68 -25h0M-37 -78h0M12 -76h0M15 -77h0M21 0h0M18 -112h0M-33 -54h0M21 -57h0M76 70h0M13 -35h0M43 -23h0M-2 -40h0M45 -81h0M-77 31h0M-21 -24h0M18 -37h0M-37 -3h0M-48 -30h0M-69 -60h0M-53 -31h0M41 -90h0M31 -112h0M40 -10h0M30 -112h0M12 -57h0M-64 -16h0M-72 25h0M-1 -46h0M18 -86h0M16 -102h0M76 -30h0M-83 -21h0M25 -26h0M-10 -84h0M-81 -28h0M79 76h0M58 -34h0M18 -95h0M40 18h0M44 -66h0M51 -78h0M69 -55h0M-21 -50h0M38 -41h0M-2 -29h0M47 -69h0M-65 -34h0M-67 -62h0M1 -40h0M16 12h0M-25 -53h0M53 -73h0M41 -74h0M44 -52h0M-22 27h0M-53 -43h0M-27 -67h0"/><path vector-effect="non-scaling-stroke" fill="none" stroke-linecap="round" id="q7d11" d="M42 -89h0M-35 -39h0M49 -69h0M-9 -58h0M-29 -102h0M47 -30h0M-51 -73h0M19 -85h0M11 -29h0M-74 2h0M58 -99h0M-29 -47h0M16 -38h0M-38 -83h0M3 -13h0M-61 -48h0M9 -22h0M-42 27h0M22 -95h0M13 -26h0M37 1h0M40 4h0M35 -25h0M6 -3h0M-62 25h0M-49 -54h0M27 -40h0M-13 -29h0M-11 28h0M30 -15h0M44 -28h0M-29 -105h0M-6 -62h0M-82 11h0M-72 -30h0M42 -84h0M55 -79h0M49 -29h0M12 -71h0M47 -106h0M-39 -35h0M-27 21h0M-81 -1h0M41 -34h0M-81 -35h0M-80 4h0M85 74h0M45 14h0M-30 1h0M31 -91h0M84 59h0M14 -25h0M-57 20h0M14 0h0M43 -31h0M-43 -11h0M-49 28h0M21 -56h0M-22 -24h0M37 -17h0M-34 5h0M-72 -62h0M22 -56h0M-32 -40h0M102 -8h0M-3 13h0M-16 -49h0M-27 35h0M18 -71h0M-76 -28h0M25 3h0M-32 -39h0M32 -33h0M-54 54h0M-7 88h0M24 -57h0M-12 -98h0M-46 -32h0M71 2h0M44 -53h0M-73 -60h0M-8 -29h0M37 -108h0M28 -70h0M-51 -57h0M27 -43h0M67 -43h0M5 -2h0M-26 -95h0M-52 -84h0M-42 -21h0M-33 83h0M-30 -31h0"/><path vector-effect="non-scaling-stroke" fill="none" stroke-linecap="round" id="q8a00" d="M119 -21h0M115 -17h0M59 15h0M121 -22h0M63 -3h0M50 1h0M87 2h0M86 -18h0M116 -34h0M83 3h0M85 -7h0M55 -24h0M119 -17h0M90 -14h0M114 -27h0M50 2h0M76 18h0M76 9h0M49 12h0M49 6h0M107 -22h0M122 -16h0M73 22h0M109 -21h0M57 13h0M101 -6h0M89 -9h0M80 -18h0M77 -5h0M110 -17h0M79 -2h0M76 -50h0M72 -14h0M73 5h0M109 -8h0M77 0h0M77 15h0M62 30h0M131 -29h0M68 13h0M61 -2h0M69 11h0M68 -5h0M74 52h0"/><path vector-effect="non-scaling-stroke" fill="none" stroke-linecap="round" id="q8a01" d="M79 11h0M94 1h0M66 24h0M115 -20h0M52 8h0M94 -25h0M77 6h0M108 -25h0M107 -13h0M79 3h0M74 -10h0M102 -27h0M69 -15h0M47 23h0M79 -17h0M81 -49h0M131 -31h0M64 26h0M122 -15h0M80 -29h0M97 -3h0M134 -28h0M97 -4h0M90 4h0M72 -6h0M82 6h0M114 -18h0M125 -36h0M95 -29h0M61 16h0M108 -28h0M59 8h0M80 0h0M105 -6h0M66 17h0M51 33h0M68 9h0M92 -29h0M92 -32h0M116 -20h0M100 -13h0M128 -36h0M93 0h0M114 -18h0M33 -12h0M58 3h0M105 -12h0"/><path vector-effect="non-scaling-stroke" fill="none" stroke-linecap="round" id="q8a10" d="M67 0h0M36 6h0M76 -52h0M70 26h0M55 -4h0M72 16h0M84 -13h0M51 4h0M61 23h0M85 7h0M66 17h0"/><path vector-effect="non-scaling-stroke" fill="none" stroke-linecap="round" id="q8a11" d="M54 11h0M64 -45h0M59 28h0M60 9h0M66 -3h0"/><path vector-effect="non-scaling-stroke" fill="none" stroke-linecap="round" id="q8b00" d="M66 11h0M62 19h0M100 -11h0M91 81h0M81 2h0M87 7h0M64 27h0M52 30h0M61 31h0M115 -25h0M115 -18h0M114 -34h0M77 8h0M47 32h0M133 -26h0M83 5h0M72 13h0M60 -3h0M75 56h0M96 -6h0M57 22h0M49 24h0"/><path vector-effect="non-scaling-stroke" fill="none" stroke-linecap="round" id="q8b01" d="M59 10h0M72 64h0M77 -17h0M61 15h0M46 11h0M69 14h0M53 -18h0M71 -8h0M64 -7h0M108 -11h0M56 0h0M76 -15h0M111 -23h0M124 -33h0M94 -27h0M56 17h0M62 -7h0M58 2h0M119 -20h0M114 -8h0M65 -10h0M50 13h0M67 -2h0M46 10h0M95 -11h0M84 -16h0M48 33h0M82 5h0M116 -28h0M97 -24h0"/><path vector-effect="non-scaling-stroke" fill="none" stroke-linecap="round" id="q8b10" d="M74 21h0M32 -16h0M61 -38h0M86 -44h0M47 -15h0M34 -4h0M43 -31h0M70 -12h0M67 -5h0M67 15h0M33 -6h0"/><path vector-effect="non-scaling-stroke" fill="none" stroke-linecap="round" id="q8b11" d="M37 -3h0M62 11h0M46 25h0M63 -3h0M53 6h0M60 4h0M33 -7h0M62 -36h0M61 14h0M125 -27h0M57 21h0M69 -53h0M66 -3h0M97 -17h0M61 22h0M65 -3h0M77 -28h0M83 -20h0"/><path vector-effect="non-scaling-stroke" fill="none" stroke-linecap="round" id="q8c00" d="M121 -13h0M98 -31h0M88 -25h0M63 -4h0M122 -11h0M61 -54h0M80 -1h0M68 7h0M83 60h0M84 -25h0M63 -2h0M70 14h0M114 -23h0M107 -10h0M70 -14h0M61 6h0M119 -12h0M92 -29h0M50 12h0M51 33h0M109 -25h0M38 10h0M82 66h0M126 -26h0M103 -28h0M61 11h0M89 -5h0M75 5h0M48 10h0M133 -28h0M46 24h0"/><path vector-effect="non-scaling-stroke" fill="none" stroke-linecap="round" id="q8c01" d="M67 -6h0M97 -5h0M81 -4h0M119 -25h0M90 -11h0M99 -3h0M91 -7h0M64 7h0M123 -23h0M115 -19h0M74 16h0M102 -7h0M72 -1h0M50 19h0M111 -33h0M129 -22h0M108 -7h0M133 -26h0M39 -27h0M90 5h0M102 -3h0M48 30h0M59 10h0M46 -11h0M133 -24h0"/><path vector-effect="non-scaling-stroke" fill="none" stroke-linecap="round" id="q8c10" d="M79 13h0M53 13h0M52 12h0M56 -34h0M93 -8h0M129 -25h0M51 19h0M67 7h0M64 16h0M40 -7h0M51 2h0M51 15h0M128 -28h0M67 4h0M67 -11h0M74 -1h0"/><path vector-effect="non-scaling-stroke" fill="none" stroke-linecap="round" id="q8c11" d="M64 17h0M57 17h0M57 -26h0M51 4h0M73 66h0M70 -3h0"/><path vector-effect="non-scaling-stroke" fill="none" stroke-linecap="round" id="q8d00" d="M98 -1h0M110 -14h0M89 -40h0M103 -8h0M93 -21h0M74 -40h0M63 16h0M72 -27h0M56 21h0M124 -14h0M127 -27h0M104 -2h0M121 -27h0M115 -27h0M93 -10h0M119 -16h0M115 -31h0M118 -25h0M126 -23h0M132 -29h0M60 25h0M104 -3h0M106 -20h0M98 -30h0M35 5h0M65 15h0M65 24h0M58 25h0M101 -25h0M123 -33h0M101 -9h0M131 -28h0M77 -11h0M122 -21h0M76 -26h0M81 5h0M81 67h0M72 77h0M52 12h0M103 -16h0M84 2h0M87 -18h0M66 -4h0M42 7h0M96 -10h0M89 -28h0M57 -5h0M43 -16h0M129 -25h0M85 -25h0M61 26h0M121 -21h0M111 -27h0M54 2h0M125 -14h0M96 -20h0M61 13h0M131 -29h0M118 -31h0M62 5h0M119 -24h0M73 17h0M48 32h0M107 -9h0M119 -21h0"/><path vector-effect="non-scaling-stroke" fill="none" stroke-linecap="round" id="q8d01" d="M58 11h0M71 -5h0M31 -14h0M122 -34h0M87 -18h0M81 8h0M77 -16h0M72 14h0M115 -12h0M81 -21h0M61 30h0M70 7h0M68 55h0M80 -19h0M55 4h0M86 -18h0M107 -36h0M60 -1h0M116 -23h0M105 -24h0M101 -30h0M60 29h0M46 6h0M74 0h0M88 -1h0M84 10h0M93 -34h0M122 -31h0M80 -33h0M62 -6h0M106 -10h0M104 -25h0M95 1h0M107 -36h0M120 -26h0M51 7h0M81 -16h0M89 1h0M75 55h0M46 -21h0M41 -13h0M72 10h0M114 -22h0M75 -1h0M122 -22h0M110 -13h0M91 -22h0M122 -20h0M57 19h0M83 7h0M90 -14h0M67 23h0M111 -29h0M79 -15h0M65 -5h0M106 -17h0M80 0h0"/><path vector-effect="non-scaling-stroke" fill="none" stroke-linecap="round" id="q8d10" d="M33 -21h0M34 6h0M104 -28h0M36 -21h0M56 -26h0M94 -19h0M49 14h0M43 -3h0M73 -40h0M49 3h0M100 -3h0M60 23h0"/><path vector-effect="non-scaling-stroke" fill="none" stroke-linecap="round" id="q8d11" d="M63 -50h0M129 -25h0M69 -11h0M56 6h0M50 22h0M66 -49h0M47 24h0M57 4h0M49 7h0M52 10h0M108 -33h0M34 -21h0M46 9h0M97 -25h0M106 -28h0M75 -7h0M99 -1h0M49 20h0M38 -24h0M47 1h0M60 10h0M89 -10h0M47 -16h0M96 -22h0"/><path vector-effect="non-scaling-stroke" fill="none" stroke-linecap="round" id="q9a00" d="M-58 -68h0M9 -30h0M-57 -3h0M-20 11h0M-12 -82h0M-48 -68h0M-33 -45h0M-45 -62h0M-66 -41h0M-51 -82h0"/><path vector-effect="non-scaling-stroke" fill="none" stroke-linecap="round" id="q9a01" d="M-46 -55h0M-67 -48h0M-58 -70h0M-72 -41h0M-56 -39h0M-62 -67h0M-27 -29h0M-65 -71h0M-27 -64h0M-70 -55h0M-15 -25h0M-21 -76h0M-21 -76h0M-47 -68h0M-52 -65h0M-77 -54h0"/><path vector-effect="non-scaling-stroke" fill="none" stroke-linecap="round" id="q9a10" d="M-53 -66h0M-18 -95h0M-55 -64h0M-62 -35h0M-55 -69h0M-51 -71h0M-42 -91h0M-22 -82h0M-34 -77h0M-14 -94h0M-17 -109h0M-31 -79h0M-22 -90h0M-42 -95h0M-34 -82h0M-24 -74h0M-16 -105h0M-57 -80h0M-21 -94h0M-37 -93h0M-21 -91h0M-7 -90h0M-36 -99h0"/><path vector-effect="non-scaling-stroke" fill="none" stroke-linecap="round" id="q9a11" d="M-36 -91h0M-23 -97h0M-40 -71h0M-28 -83h0M-26 -107h0M-41 -92h0M-53 -77h0M-32 -90h0M-16 -90h0M-52 -80h0M-11 -83h0M-20 -89h0M-43 -71h0M-54 -48h0M-24 -70h0M-32 -81h0M43 -29h0M-25 -81h0M-52 -73h0M-25 -74h0M-44 -73h0M-42 -84h0M-68 -45h0M-13 -101h0M-20 -97h0M-13 -100h0M-26 -83h0M-54 -64h0M-15 -89h0M-11 -97h0M-47 -93h0M-54 -67h0M-34 -101h0M-18 -92h0M-29 -77h0M-17 -97h0M-27 -72h0M-23 -107h0"/><path vector-effect="non-scaling-stroke" fill="none" stroke-linecap="round" id="q9b00" d="M33 -37h0M-34 -72h0M-65 -40h0M-67 24h0M-21 -18h0"/><path vector-effect="non-scaling-stroke" fill="none" stroke-linecap="round" id="q9b01" d="M-37 -73h0M-53 -64h0M-69 -38h0M-71 -41h0M-54 -70h0"/><path vector-effect="non-scaling-stroke" fill="none" stroke-linecap="round" id="q9b10" d="M-19 -106h0M-38 -75h0M-37 -58h0M-68 -50h0M-21 -73h0M-57 -52h0M-61 -67h0M-35 -81h0M-32 -101h0M-54 -67h0M-51 -67h0M-47 -92h0M-13 -96h0M-3 -3h0M-35 -67h0M-40 -59h0M-46 -68h0M-11 -91h0M-28 -70h0M-53 -71h0M-22 -87h0M-21 -82h0M-22 -74h0M-20 -82h0M-22 -98h0M-50 -76h0M-25 -105h0M-48 -67h0M-39 -69h0M-35 -59h0M-43 -86h0M-18 -92h0M-11 -93h0M-34 -102h0M-37 -77h0M-20 -73h0M-15 -97h0M-48 -85h0M-55 -65h0M-37 -95h0M-20 -90h0M-17 -99h0"/><path vector-effect="non-scaling-stroke" fill="none" stroke-linecap="round" id="q9b11" d="M-33 -69h0M-14 -100h0M-45 -68h0M-35 -77h0M-36 -88h0M-11 -2h0M-44 -80h0M-58 -62h0M-51 -63h0M-47 -71h0M-17 -95h0M-33 -71h0M-54 -72h0M-63 -71h0M-46 -69h0M-33 -81h0M-26 -97h0M-13 -103h0M-39 -84h0M-42 -87h0M-28 -84h0M-28 -90h0M-35 -91h0M-51 -72h0M-40 -85h0M-56 -72h0M-28 -95h0M-30 -71h0M-37 -54h0M-32 -101h0M-24 -93h0M-46 -96h0M-37 -60h0M-43 -77h0M-33 -104h0M-17 -76h0M-56 -65h0M-35 -103h0M-39 -81h0M-27 -89h0M-46 -67h0M-26 -76h0"/><path vector-effect="non-scaling-stroke" fill="none" stroke-linecap="round" id="q9c00" d="M-53 -67h0M-49 -67h0M-60 -39h0M32 -41h0M-56 -36h0M-46 -71h0M-72 -18h0"/><path vector-effect="non-scaling-stroke" fill="none" stroke-linecap="round" id="q9c01" d="M2 -41h0M-72 -59h0M-50 -77h0M-60 -58h0M-69 10h0M-70 11h0"/><path vector-effect="non-scaling-stroke" fill="none" stroke-linecap="round" id="q9c10" d="M-17 -110h0M-42 22h0M-20 -95h0M-54 -55h0M-32 -60h0M-29 -83h0M-66 -68h0M-12 -81h0M-66 -70h0M-39 -48h0M-60 -65h0M-25 -91h0M-66 -37h0M-52 -83h0M-21 -36h0M-19 -101h0M-14 -79h0M-32 -71h0M-36 -83h0M-38 -90h0M-26 -81h0M-22 -98h0M-18 -104h0M-44 -78h0M44 -16h0M-67 -57h0M-47 -68h0M-40 -76h0M-57 -82h0M-25 -79h0M-41 -97h0M-59 -62h0M-55 -20h0M-60 -69h0M-64 -60h0M-33 -99h0M-53 -79h0M-23 -79h0M-49 -63h0M-58 -69h0M-38 -87h0M-39 -85h0M-11 -58h0M-21 -99h0"/><path vector-effect="non-scaling-stroke" fill="none" stroke-linecap="round" id="q9c11" d="M-29 -91h0M-25 -80h0M-40 -84h0M-29 -84h0M-57 -66h0M-62 -51h0M-18 -96h0M-64 -48h0M-26 -94h0M-63 -70h0M-40 -27h0M-35 -90h0M-36 -62h0M-20 -72h0M-18 -85h0M-41 -95h0M-35 -61h0M-35 -79h0M31 4h0M-28 -88h0M-27 -44h0M-37 -96h0M-20 -77h0M-13 -104h0M-17 -76h0M-65 -67h0M-23 -105h0M-14 -92h0M-8 -92h0M-33 -100h0M-52 -88h0M-45 -87h0M-45 -86h0M-44 -85h0M-25 -88h0M-65 -56h0M-16 -94h0M-45 -89h0M-22 -78h0M-17 -85h0M-19 -74h0M-7 -99h0M-23 -76h0M-43 -71h0M38 -10h0M-27 -64h0M-18 -79h0M-12 -96h0M-44 -91h0M-21 -108h0M-8 -94h0M-26 -33h0M-55 -50h0"/><path vector-effect="non-scaling-stroke" fill="none" stroke-linecap="round" id="q9d00" d="M17 -31h0M-60 -59h0M-34 -59h0M-68 -57h0M-51 -74h0M-64 -58h0M-78 -50h0M-38 -68h0M-55 -63h0M-75 -55h0"/><path vector-effect="non-scaling-stroke" fill="none" stroke-linecap="round" id="q9d01" d="M-20 -74h0M-39 12h0M-22 -72h0M-29 20h0M-33 -77h0M-59 -51h0M-49 -49h0M-43 -81h0M-53 13h0M-44 -70h0M-33 -73h0M-24 -73h0M-27 -75h0"/><path vector-effect="non-scaling-stroke" fill="none" stroke-linecap="round" id="q9d10" d="M-22 -108h0M-41 -76h0M-55 -70h0M-30 -87h0M-61 -72h0M-40 -95h0M-43 -72h0M-48 -71h0M-52 -80h0M-61 -65h0M-38 -86h0M-39 -67h0M-51 -67h0M-8 -101h0M-58 -67h0M-37 -90h0M-50 -14h0M23 13h0M-56 -63h0M-21 -102h0M-31 -84h0M-12 -85h0M-33 -62h0M-27 -104h0M-13 -82h0M-17 -80h0M-11 -92h0M-18 -100h0M-46 -76h0M-49 -68h0M-16 -76h0M-20 -89h0M-63 -74h0M-27 -84h0M-45 -93h0M-28 -88h0M8 -46h0M-20 -92h0M-54 -69h0M-44 -90h0M-66 -60h0M-13 -105h0M-10 -82h0M-45 -91h0M-35 -66h0M-17 -98h0M-42 -51h0M-55 -79h0M-27 -97h0M-53 -72h0M-18 -77h0M-21 -84h0M5 -32h0M-27 -76h0M-19 -105h0M-41 -72h0M-14 -80h0M-28 -91h0"/><path vector-effect="non-scaling-stroke" fill="none" stroke-linecap="round" id="q9d11" d="M-24 -92h0M-26 -84h0M-61 -69h0M-39 -74h0M-58 -68h0M-47 -69h0M-72 4h0M-64 -49h0M-24 -89h0M-48 -69h0M-30 -75h0M-24 -95h0M-45 -73h0M-53 -71h0M-7 -89h0M-37 -80h0M-21 -108h0M-60 -78h0M-54 -78h0M-29 -75h0M-34 -20h0M-50 -68h0M-28 -87h0M-27 -69h0M-25 -81h0M-23 -91h0M-40 -90h0M-23 -89h0M-16 -108h0M-16 -77h0M-34 -69h0M8 -56h0M-62 -72h0M-41 -89h0M-51 -89h0M-48 -81h0M-12 -100h0M-20 -91h0M-15 -77h0M-71 -55h0M-52 -71h0M-13 -91h0M-29 -72h0M-50 -81h0M-47 -62h0M-31 -101h0M-17 -104h0M-39 -61h0M-52 -81h0M-63 -44h0M-31 -86h0"/><path vector-effect="non-scaling-stroke" fill="none" stroke-linecap="round" id="q10a00" d="M-22 -92h0M-25 -95h0M-34 -105h0M-25 -93h0M-57 -68h0M-28 -104h0"/><path vector-effect="non-scaling-stroke" fill="none" stroke-linecap="round" id="q10a01" d="M-25 -103h0M-23 -88h0M-27 -109h0M-29 -102h0"/><path vector-effect="non-scaling-stroke" fill="none" stroke-linecap="round" id="q10a10" d="M-32 -123h0M-35 -122h0M-34 -99h0M-16 -121h0M-20 -107h0M-30 -131h0M-28 -111h0M-27 -105h0M-17 -121h0M-29 -112h0M-30 -105h0M-23 -103h0M-17 -119h0M-21 -99h0M-31 -125h0M-22 -119h0M-35 -121h0M-16 -120h0M-23 -127h0M-20 -123h0M-25 -129h0M-34 -108h0M-24 -112h0"/><path vector-effect="non-scaling-stroke" fill="none" stroke-linecap="round" id="q10a11" d="M-21 -120h0M-21 -113h0M-11 -89h0M-26 -106h0M-25 -93h0M-33 -106h0M-12 -100h0M-25 -100h0M-21 -115h0M-37 -113h0M-36 -84h0M-26 -106h0M-34 -121h0M-20 -97h0M-22 -121h0M-33 -111h0M-19 -118h0M-15 -115h0"/><path vector-effect="non-scaling-stroke" fill="none" stroke-linecap="round" id="q10b00" d="M-21 -98h0M-32 -97h0M-20 -80h0"/><path vector-effect="non-scaling-stroke" fill="none" stroke-linecap="round" id="q10b01" d="M-37 -68h0M-24 -109h0M-25 -100h0"/><path vector-effect="non-scaling-stroke" fill="none" stroke-linecap="round" id="q10b10" d="M-25 -100h0M-28 -101h0M-30 -88h0M-25 -92h0M-24 -130h0M-19 -121h0M-34 -103h0M-16 -119h0M-20 -97h0M-26 -121h0M-20 -119h0M-18 -100h0M-20 -129h0M-18 -116h0M-34 -106h0M-23 -92h0M-17 -106h0M-29 -106h0M-32 -84h0M-31 -97h0M-27 -102h0M-22 -73h0"/><path vector-effect="non-scaling-stroke" fill="none" stroke-linecap="round" id="q10b11" d="M-45 -77h0M-33 -131h0M-24 -99h0M-17 -105h0M-25 -124h0M-31 -124h0M-34 -87h0M-32 -113h0M-20 -108h0M-30 -122h0M-34 -122h0M-33 -93h0M-18 -118h0M-23 -115h0M-29 -102h0M-19 -116h0M-21 -102h0M-29 -120h0M-30 -128h0M-29 -126h0M-23 -110h0M-34 -108h0M-34 -112h0M-34 -126h0M-34 -118h0M-18 -122h0"/><path vector-effect="non-scaling-stroke" fill="none" stroke-linecap="round" id="q10c00" d="M-34 -100h0M-19 -100h0"/><path vector-effect="non-scaling-stroke" fill="none" stroke-linecap="round" id="q10c01" d="M-12 -112h0"/><path vector-effect="non-scaling-stroke" fill="none" stroke-linecap="round" id="q10c10" d="M-38 -101h0M-18 -100h0M-33 -100h0M-29 -102h0M-23 -107h0M-29 -104h0M-30 -95h0M-33 -123h0M-60 -67h0M-19 -121h0M-16 -116h0M-30 -105h0M-21 -108h0M-23 -126h0M-35 -119h0M-2 -106h0M-26 -124h0M-13 -101h0M-28 -127h0M-23 -125h0M-26 -115h0M-19 -98h0M-23 -130h0"/><path vector-effect="non-scaling-stroke" fill="none" stroke-linecap="round" id="q10c11" d="M-31 -127h0M-16 -93h0M-36 -105h0M-24 -125h0M-29 -130h0M-29 -112h0M-28 -110h0M-24 -104h0M-36 -120h0M-19 -125h0M-25 -99h0M-46 -82h0M-28 -115h0M-20 -97h0M-38 -79h0M-37 -113h0M-25 -115h0M-29 -101h0M-30 -92h0M-20 -109h0M-32 -104h0M-24 -96h0M-23 -95h0M-26 -108h0M-42 -94h0M-17 -83h0M-26 -118h0M-19 -114h0M-29 -103h0M-26 -130h0"/><path vector-effect="non-scaling-stroke" fill="none" stroke-linecap="round" id="q10d00" d="M-21 -97h0M-31 -98h0M-16 -79h0M-35 -101h0"/><path vector-effect="non-scaling-stroke" fill="none" stroke-linecap="round" id="q10d01" d="M-37 -66h0M-24 -110h0M-28 -100h0M-35 -106h0M-32 -104h0"/><path vector-effect="non-scaling-stroke" fill="none" stroke-linecap="round" id="q10d10" d="M-33 -106h0M-58 -66h0M-30 -100h0M-33 -114h0M-17 -118h0M-23 -110h0M-27 -101h0M-27 -89h0M-23 -91h0M-43 -95h0M-35 -121h0M-21 -127h0M-32 -99h0M-26 -92h0M-21 -93h0M-29 -131h0M-19 -97h0M-26 -132h0M-23 -123h0M-24 -106h0M-36 -107h0M-30 -112h0M-12 -80h0M-23 -110h0M-20 -113h0M-21 -116h0M-25 -132h0M-21 -115h0M-20 -122h0M-23 -99h0M-18 -105h0M-21 -107h0M-18 -98h0M-52 -64h0M-20 -118h0M-32 -100h0M-26 -103h0"/><path vector-effect="non-scaling-stroke" fill="none" stroke-linecap="round" id="q10d11" d="M-15 -93h0M-17 -114h0M-25 -91h0M-35 -104h0M-32 -106h0M-28 -113h0M-30 -97h0M-15 -104h0M-22 -127h0M-31 -81h0M-33 -98h0M-19 -97h0M-50 -67h0M-18 -121h0M-27 -118h0M-21 -102h0M-21 -99h0M-31 -121h0M-27 -99h0M-22 -125h0M-34 -116h0M-19 -127h0M-34 -112h0M-18 -114h0M-21 -122h0M-38 -114h0M-13 -107h0M-12 -93h0M-34 -113h0M-17 -107h0M-31 -115h0M-14 -103h0"/><path vector-effect="non-scaling-stroke" fill="none" stroke-linecap="round" id="q11a00" d="M-21 -34h0M13 -4h0M-66 21h0M11 -29h0M7 4h0M-5 -42h0M9 -47h0M-66 -36h0M-42 -10h0M-62 25h0M19 -31h0M2 -3h0M27 -20h0M-5 -32h0M-23 -10h0M-35 11h0M-38 20h0"/><path vector-effect="non-scaling-stroke" fill="none" stroke-linecap="round" id="q11a01" d="M-52 36h0M-48 35h0M-50 46h0M-21 -49h0M-65 26h0M21 -48h0M-77 26h0M-13 -35h0M-56 47h0M-43 -10h0M-19 -8h0M4 -10h0M-20 -17h0M-27 18h0M-5 -28h0M-72 -28h0M-32 -31h0M-31 -24h0M-54 -20h0M-46 -12h0M12 -33h0M-26 -16h0M4 14h0"/><path vector-effect="non-scaling-stroke" fill="none" stroke-linecap="round" id="q11a10" d="M-41 -19h0M-7 -30h0M20 -53h0M44 -14h0M7 -51h0M15 -54h0M-21 -27h0M-9 -46h0M36 -66h0M-19 -52h0M-57 -35h0M-36 -88h0M-17 -78h0M35 -45h0M-48 -34h0M-12 -25h0M26 -31h0M-25 -61h0M-69 -32h0M-5 -61h0M14 -37h0M-32 -60h0M32 -95h0M14 -48h0M-3 -58h0M-16 -36h0M-22 -94h0M-22 -30h0M-43 -74h0M2 -48h0M-10 -20h0M-11 -102h0M24 -30h0M-3 -3h0M14 -52h0M4 -49h0M-28 -45h0M-28 -21h0M27 -63h0M-24 -15h0M-16 -52h0M34 -55h0M18 -45h0M-35 -41h0M-58 -33h0M-33 -66h0M-33 -27h0M-16 9h0M-23 -90h0M38 -12h0"/><path vector-effect="non-scaling-stroke" fill="none" stroke-linecap="round" id="q11a11" d="M38 -105h0M28 -51h0M-52 -51h0M-25 -48h0M-2 -30h0M-12 -22h0M-13 -49h0M-15 -55h0M9 -47h0M-44 -48h0M13 -53h0M-56 -25h0M2 -21h0M-51 -31h0M-31 -51h0M-69 -38h0M-14 -20h0M16 -18h0M-67 39h0M-1 -62h0M60 -104h0M42 -9h0M-22 -56h0M-48 -65h0M49 -30h0M-15 33h0M-24 -53h0M-31 -102h0M-38 15h0M34 -76h0M24 -78h0M25 -42h0M-43 66h0M-4 -28h0M-6 -56h0M-24 -32h0M-13 -20h0M-41 -28h0M-16 -66h0M-18 -55h0"/><path vector-effect="non-scaling-stroke" fill="none" stroke-linecap="round" id="q11b00" d="M-78 22h0M-3 -43h0M43 -34h0M20 -14h0M-48 -17h0M-27 -4h0M-58 -27h0M-24 65h0M10 -17h0M-12 -19h0M3 -35h0M-47 63h0M-30 21h0M14 -15h0M-19 6h0M-34 54h0M40 -40h0"/><path vector-effect="non-scaling-stroke" fill="none" stroke-linecap="round" id="q11b01" d="M12 -1h0M-52 -30h0M-28 25h0M10 -18h0M12 -21h0M23 14h0M-43 4h0M-32 46h0M-42 -24h0M29 -6h0M-2 25h0M24 4h0M-69 30h0M-66 48h0M12 -31h0M-6 38h0M-31 -21h0M-23 -8h0"/><path vector-effect="non-scaling-stroke" fill="none" stroke-linecap="round" id="q11b10" d="M-12 -33h0M34 -114h0M-22 -16h0M39 -90h0M23 -45h0M-30 -66h0M40 -66h0M-52 -43h0M35 -103h0M34 -18h0M-37 -53h0M-16 -33h0M4 -17h0M-1 -37h0M-16 -17h0M5 -43h0M-22 -10h0M-25 -27h0M-9 -26h0M-25 -67h0M-54 -27h0M35 -95h0M25 -94h0M11 -53h0M-61 30h0M-3 -29h0M14 -26h0M4 -33h0M-31 -3h0M-67 47h0M-12 -15h0M56 -84h0M46 -111h0M10 -59h0M-31 -79h0M25 -49h0M13 -37h0M-62 -66h0M-79 2h0M-12 -44h0M-35 -54h0M-27 -36h0M-32 -63h0M-23 33h0M-24 -105h0M0 -38h0M-15 -33h0M39 -41h0M-11 -56h0M5 -5h0M-20 -18h0M6 -28h0M21 -14h0M-30 -43h0M-42 -48h0M44 -75h0M-45 -36h0M6 -45h0M-49 -58h0M-60 -7h0M-5 -47h0M6 -49h0M41 -38h0M-27 -53h0"/><path vector-effect="non-scaling-stroke" fill="none" stroke-linecap="round" id="q11b11" d="M-11 -52h0M-41 13h0M-31 -32h0M14 -35h0M40 -107h0M9 -32h0M-52 -39h0M18 -20h0M-25 -76h0M-63 -26h0M-42 -52h0M-63 -35h0M29 -34h0M-29 -39h0M-19 1h0M-34 -79h0M7 -34h0M-35 -46h0M-44 -59h0M-58 -57h0M7 9h0M-56 -29h0M27 -47h0M-14 -37h0M-14 -50h0M-33 -49h0M-71 -31h0M29 -57h0M-20 -58h0M-6 -57h0M-10 -30h0M33 -24h0M-34 -63h0M34 -71h0M-45 -48h0M-21 -48h0M-2 -35h0M44 -5h0M-42 -13h0M-24 -60h0M-37 -56h0M-38 -41h0M0 -44h0M0 -39h0M15 -51h0M37 -101h0M-19 -55h0M11 -58h0M-39 -85h0M-18 -49h0M44 -109h0M-3 -54h0M-47 -37h0M35 -88h0M-28 -5h0M3 -26h0M-40 35h0M-3 -40h0M-52 -59h0M-19 -35h0M-6 -55h0M-23 -44h0M14 -77h0M-27 -39h0"/><path vector-effect="non-scaling-stroke" fill="none" stroke-linecap="round" id="q11c00" d="M13 -34h0M-7 -19h0M-35 31h0M6 -21h0M-40 55h0M-49 -27h0M-61 -7h0M-1 -14h0M21 -34h0M-39 12h0M-20 -24h0M-8 35h0M-48 -28h0M-32 65h0M-40 65h0"/><path vector-effect="non-scaling-stroke" fill="none" stroke-linecap="round" id="q11c01" d="M-59 62h0M-43 -2h0M-36 1h0M-32 -24h0M-66 45h0M-87 -25h0M-17 42h0M-51 -36h0M12 -28h0M-21 8h0M-11 -23h0M-66 42h0M0 12h0M-39 33h0"/><path vector-effect="non-scaling-stroke" fill="none" stroke-linecap="round" id="q11c10" d="M31 -33h0M2 -57h0M-11 -48h0M23 -56h0M-29 -22h0M-38 -41h0M13 0h0M-6 -32h0M-15 -56h0M-21 20h0M-36 -83h0M45 -96h0M-11 -63h0M-23 47h0M8 -52h0M-47 58h0M7 -47h0M-26 -54h0M-8 -6h0M-8 -33h0M-19 -64h0M-51 -51h0M0 -61h0M-22 15h0M28 -105h0M42 -69h0M11 -38h0M31 -102h0M-86 -18h0M-33 -59h0M-44 -47h0M-87 1h0M42 -88h0M16 -20h0M-51 -66h0M7 -15h0M-41 -53h0M-55 -64h0M-22 -8h0M-14 -44h0M39 -72h0M-24 -68h0M10 -44h0M1 -33h0M-11 -55h0M-85 -34h0M-8 -46h0M-8 -52h0M-6 -57h0M-19 -56h0M49 -104h0M-7 -30h0M-35 -57h0M-54 -45h0M-16 -50h0M-3 -44h0M-6 -59h0M-34 -51h0M-1 -50h0M-4 -26h0M-41 -33h0M-15 -19h0"/><path vector-effect="non-scaling-stroke" fill="none" stroke-linecap="round" id="q11c11" d="M5 -42h0M20 -54h0M-69 0h0M-16 -59h0M-16 -66h0M19 -30h0M28 -40h0M-39 -44h0M-31 -86h0M-1 -57h0M-16 -24h0M16 -95h0M-25 -23h0M-19 -35h0M19 -37h0M49 -66h0M-31 -30h0M41 -19h0M-10 -63h0M47 -24h0M-33 -66h0M-23 -43h0M-16 3h0M15 -78h0M-20 -51h0M5 -53h0M-17 -53h0M-41 -34h0M-47 27h0M-10 -37h0M25 -37h0M-37 -34h0M-55 -82h0M-28 -61h0M37 -25h0M22 -85h0M-32 -45h0M23 -84h0M-33 -33h0M-9 -50h0M4 -17h0M-36 -25h0M-51 -55h0M30 -18h0M-2 -57h0M-59 -39h0M-26 -9h0M-37 -30h0M15 -40h0M-46 -45h0M44 -93h0M-11 10h0M-21 -102h0M-26 -66h0M-11 -55h0M2 -46h0M-11 -55h0M-6 -55h0M32 -23h0M-29 -15h0M15 -48h0"/><path vector-effect="non-scaling-stroke" fill="none" stroke-linecap="round" id="q11d00" d="M-18 9h0M-75 -15h0M-84 -8h0M-38 56h0M57 -91h0M-60 -17h0M-15 -33h0M20 -10h0M-35 58h0M-48 -45h0M-44 -18h0M-56 -18h0M-1 -33h0M17 -22h0M-4 -33h0M43 -35h0M-19 -33h0M-26 45h0M-9 -6h0M-51 57h0M-11 -34h0M-26 -17h0M-34 -10h0M-14 -40h0M-40 43h0M22 -21h0M-53 -14h0M-28 -38h0"/><path vector-effect="non-scaling-stroke" fill="none" stroke-linecap="round" id="q11d01" d="M-28 -22h0M33 -24h0M12 -48h0M-19 -40h0M-45 37h0M53 -72h0M-35 -28h0M-59 43h0M-22 -15h0M-35 -26h0M-22 5h0M-75 27h0M-33 47h0M48 -30h0M-72 -8h0M-49 34h0M-54 -11h0M-8 -14h0M-3 -33h0M8 -34h0M40 -1h0M-5 -22h0M8 -40h0M42 -10h0M-53 32h0M-9 -10h0M14 -10h0M42 0h0"/><path vector-effect="non-scaling-stroke" fill="none" stroke-linecap="round" id="q11d10" d="M42 -34h0M-27 -91h0M-33 -66h0M-2 -10h0M-22 -69h0M-30 -8h0M-49 -27h0M-59 -7h0M-12 -24h0M-53 -35h0M-16 -15h0M0 -36h0M-18 -15h0M-18 0h0M-69 -55h0M-51 41h0M-12 -99h0M13 -37h0M-50 -90h0M-70 23h0M1 -24h0M39 -61h0M-2 -42h0M47 -86h0M-41 -44h0M-32 -29h0M22 -83h0M-24 -48h0M-44 16h0M-89 -14h0M-41 -53h0M-56 -49h0M-35 -42h0M-36 -61h0M-35 -97h0M-36 -20h0M-22 -69h0M-16 -56h0M35 -12h0M-66 -57h0M-31 -33h0M-38 -54h0M39 -66h0M42 -71h0M-56 11h0M3 -54h0M-71 -15h0M-20 -68h0M-25 -48h0M8 4h0M5 -51h0M2 -60h0M-7 -16h0M-72 -47h0M16 -5h0M-53 -37h0M-15 -52h0M16 -52h0M-28 -39h0M-50 31h0M28 -26h0M-21 6h0M-74 27h0M13 -57h0M12 -37h0M-34 3h0M-35 -5h0M45 -108h0M-10 -39h0M-29 -53h0M18 -92h0M16 -51h0M0 -44h0M10 -46h0M-7 -23h0M-43 -45h0M-39 -31h0M33 -25h0M-70 57h0M-53 -65h0M-5 -60h0M28 -100h0M26 -59h0M-20 -103h0M-31 -91h0M-12 -52h0M-14 -58h0M12 4h0M-42 -49h0M-20 -67h0M12 17h0M-26 -45h0M-48 7h0M30 -23h0M48 -30h0M-44 -34h0M12 -53h0M-36 -60h0M-31 -57h0M8 -27h0"/><path vector-effect="non-scaling-stroke" fill="none" stroke-linecap="round" id="q11d11" d="M-19 -67h0M19 -60h0M15 -83h0M-23 -74h0M-2 -10h0M26 -51h0M-24 -55h0M-16 -106h0M-48 38h0M-3 -25h0M-61 -64h0M-21 -58h0M-80 2h0M-9 -36h0M-49 34h0M-17 -64h0M-5 -40h0M-24 -7h0M-26 -16h0M34 -39h0M-2 -23h0M-13 -62h0M-34 -49h0M23 -51h0M-31 -96h0M-6 -41h0M19 -103h0M35 -109h0M-8 -61h0M28 -12h0M-44 -25h0M7 -23h0M15 -90h0M-12 -40h0M-1 -42h0M2 -58h0M-3 -16h0M-33 -67h0M-50 -55h0M48 -91h0M-63 -54h0M-11 -27h0M-20 -43h0M-25 -50h0M-44 -53h0M-61 -64h0M5 -37h0M3 -35h0M-13 -64h0M46 -51h0M-49 -13h0M11 -51h0M-21 -29h0M-10 -55h0M-83 1h0M21 -108h0M19 -32h0M-70 -62h0M25 -115h0M-33 -21h0M-2 -45h0M-24 -64h0M-37 -28h0M22 -23h0M-58 -39h0M-18 8h0M16 -51h0M35 -12h0M-60 -78h0M-44 -66h0M-18 -58h0M-39 -35h0M-17 -34h0M-18 -56h0M38 -42h0M-24 -65h0M-10 -60h0M-22 -57h0M-19 -23h0M-22 -101h0M-42 -71h0M-86 -4h0M-30 -68h0M-16 -54h0M-15 -16h0M-45 -53h0M-27 -48h0"/><path vector-effect="non-scaling-stroke" fill="none" stroke-linecap="round" id="q12a00" d="M-33 23h0M-60 19h0M-12 -52h0M-59 -3h0M0 -24h0M-28 -10h0M85 69h0M-77 42h0M-73 25h0M-82 -23h0M-48 28h0M-15 -29h0M-61 8h0M91 -46h0M-42 -1h0M-34 64h0M-36 17h0M10 -18h0M-43 -4h0M58 -88h0M-32 -26h0M-31 30h0M-53 2h0M-78 30h0M-27 -8h0M-46 34h0M-51 28h0M120 -34h0M-73 25h0M82 -29h0M-32 -25h0M86 96h0M-56 -26h0M-88 -30h0M5 -26h0M5 -24h0M-87 -14h0M-18 28h0M-15 11h0M38 -40h0M85 61h0M15 5h0M-54 -10h0M-51 58h0M-56 -17h0M87 82h0M-55 10h0M-20 -11h0M72 0h0M-17 31h0M90 3h0M-72 -16h0M-54 -12h0M-65 51h0M82 86h0M-33 18h0M-65 -2h0M-47 32h0M-30 18h0M-30 1h0M75 68h0M-70 30h0M-50 -38h0M-41 -24h0M-88 -7h0M-2 12h0M-57 6h0M31 -3h0M-74 7h0M-62 -19h0M-68 44h0M73 77h0M-67 0h0M-76 19h0M-49 29h0M48 -5h0M-80 3h0M-47 34h0M-47 1h0M-28 21h0M-21 10h0M-58 3h0M-63 30h0M-12 -33h0M91 -35h0"/><path vector-effect="non-scaling-stroke" fill="none" stroke-linecap="round" id="q12a01" d="M60 20h0M-69 28h0M-48 30h0M-82 6h0M-72 26h0M-37 -38h0M-42 4h0M-27 33h0M-50 -15h0M39 -50h0M-69 -16h0M-60 27h0M-67 11h0M-81 11h0M-48 23h0M-84 -3h0M-74 26h0M57 -91h0M87 83h0M49 -90h0M-55 -20h0M-50 62h0M-29 -6h0M84 66h0M-10 14h0M-71 14h0M-47 34h0M-86 8h0M-56 -10h0M-78 26h0M84 95h0M-88 -31h0M-40 16h0M-71 -3h0M75 -8h0M-49 27h0M-36 -18h0M47 -86h0M-79 -20h0M-49 27h0M-50 -23h0M-53 33h0M-47 65h0M-10 19h0M-80 -17h0M-82 -18h0M-56 6h0M-58 -36h0M-67 -4h0M18 -47h0M-68 22h0M-88 -28h0M123 -30h0M-20 -22h0M6 -15h0M-42 -2h0M42 -38h0M-44 -27h0M-25 -16h0M47 -64h0M3 -24h0M41 -10h0M95 80h0M-46 68h0M-67 15h0M22 13h0M-78 -22h0M-40 -2h0M-17 -11h0M-84 11h0M-53 5h0"/><path vector-effect="non-scaling-stroke" fill="none" stroke-linecap="round" id="q12a10" d="M-21 16h0M19 -28h0M-27 12h0M14 0h0M-58 -21h0M-65 -13h0M41 -91h0M45 -85h0M43 -58h0M-66 -15h0M31 -96h0M57 -104h0M-77 -27h0M39 -98h0M-6 -35h0M31 -43h0M-59 -8h0M-4 -62h0M-62 -49h0M-50 7h0M-19 -59h0M-51 10h0M25 -109h0M-7 -30h0M-8 -14h0M40 -4h0M33 -70h0M-22 -68h0M20 -72h0M31 -84h0M-81 15h0M41 -113h0M-74 -23h0M-42 -66h0M28 -90h0M-69 0h0M50 -91h0M-62 17h0M57 -104h0M-76 -50h0M-84 -19h0M-78 -48h0M-41 -25h0M-10 -13h0M36 -117h0M31 -86h0M30 -93h0M51 -3h0M-53 -55h0M41 -87h0M47 -71h0M-16 26h0M-13 -31h0M-75 40h0M31 -73h0M42 -103h0M45 -82h0M-56 11h0M5 -6h0M57 -110h0M-3 17h0M-83 -46h0M14 -88h0M-30 -32h0M50 -70h0"/><path vector-effect="non-scaling-stroke" fill="none" stroke-linecap="round" id="q12a11" d="M-81 -20h0M-3 -49h0M17 -70h0M-73 -47h0M23 -61h0M-49 6h0M-60 -17h0M-33 2h0M-77 -46h0M-29 -19h0M25 -95h0M-37 -8h0M-46 -29h0M16 -43h0M44 -74h0M66 -30h0M-34 -37h0M36 -30h0M-79 7h0M-77 -1h0M-27 10h0M53 -27h0M-14 -65h0M-83 4h0M38 -94h0M34 -87h0M-13 -19h0M-58 9h0M39 -56h0M-66 -20h0M8 -48h0M-19 -2h0M33 -100h0M-31 -13h0M-40 -1h0M-22 -63h0M-38 -20h0M3 -37h0M23 -64h0M-37 -26h0M34 -118h0M39 -86h0M-69 4h0M-71 -4h0M-25 -41h0M-58 -19h0M40 -95h0M54 -64h0M25 -80h0M57 -73h0M30 -55h0M-69 0h0M42 -74h0M55 -103h0M-49 -33h0M-30 17h0M-63 6h0M41 -68h0M-67 18h0M-44 -68h0M-61 40h0M-79 -51h0M-27 -43h0M-59 -36h0M-68 10h0M-43 5h0M-47 4h0M58 -104h0M-75 -25h0M-70 22h0M-86 -30h0M-84 11h0M-17 32h0M21 -63h0M-6 -20h0M-68 -41h0M23 -53h0M-35 -32h0M-26 11h0M-62 -43h0M13 -24h0M-63 -11h0"/><path vector-effect="non-scaling-stroke" fill="none" stroke-linecap="round" id="q12b00" d="M-77 -4h0M-47 33h0M-65 -26h0M115 -20h0M85 68h0M32 22h0M41 -33h0M75 51h0M-63 18h0M101 -21h0M-50 34h0M-72 -3h0M-39 -28h0M-83 -32h0M-62 -18h0M-67 -1h0M91 78h0M-56 0h0M58 -86h0M-77 -3h0M35 -24h0M15 -34h0M-82 19h0M-74 4h0M-51 27h0M52 -66h0M31 -3h0M75 51h0M-33 0h0M-55 -27h0M-78 -25h0M-69 -26h0M85 65h0M-30 69h0M-34 -22h0M-15 7h0M81 -36h0M-26 3h0M-37 -60h0M55 -32h0M-90 -4h0M-40 -4h0M32 25h0M46 -19h0M-64 6h0M33 -31h0M-33 -4h0M-60 26h0M-66 18h0M-13 -9h0M-6 2h0M-3 -9h0M10 -56h0M-55 27h0M-42 15h0M-50 -9h0M77 -50h0"/><path vector-effect="non-scaling-stroke" fill="none" stroke-linecap="round" id="q12b01" d="M17 -37h0M-39 2h0M-72 33h0M19 -9h0M-68 25h0M-9 -23h0M-42 24h0M-58 -9h0M-55 -12h0M-52 -26h0M-62 -35h0M24 7h0M-39 30h0M-66 53h0M-47 -34h0M-70 3h0M-20 -34h0M81 80h0M71 70h0M-48 31h0M-19 23h0M0 -12h0M-45 -13h0M-43 1h0M-43 -24h0M27 13h0M-25 48h0M-87 -18h0M53 -67h0M-11 0h0M0 25h0M-42 21h0M-55 13h0M-58 35h0M-71 -6h0M-31 23h0M36 12h0M-36 70h0M-50 -1h0M-47 8h0M-37 15h0M-77 13h0M-44 -11h0M-76 -20h0M-32 22h0M37 26h0M-34 -3h0M-53 19h0M-28 15h0"/><path vector-effect="non-scaling-stroke" fill="none" stroke-linecap="round" id="q12b10" d="M-64 -23h0M-52 -44h0M-33 -9h0M37 -47h0M-46 -17h0M-71 -23h0M29 -103h0M11 -93h0M-82 -22h0M-49 -15h0M37 -28h0M-21 -18h0M-52 12h0M-83 -37h0M-35 36h0M-42 -40h0M-22 27h0M-71 -1h0M29 -29h0M-62 -6h0M-32 32h0M30 -57h0M-10 -31h0M20 -114h0M-15 11h0M12 -103h0M-39 -32h0M-33 -4h0M35 -116h0M-37 17h0M30 -59h0M-44 19h0M-48 23h0M-21 8h0M-34 -42h0M27 -62h0M-76 -14h0M47 -68h0M39 -76h0M46 -91h0M21 -34h0M-71 -31h0M15 -77h0M29 -63h0M15 -106h0M-23 -49h0M-24 -1h0M-26 -32h0M-66 -24h0M32 5h0M-55 -3h0M36 -4h0M-29 -58h0M-52 -28h0M23 -84h0M-73 -23h0M41 -59h0M43 -80h0M-34 -59h0M-84 -40h0M-76 -53h0M58 -98h0M23 -56h0M21 -80h0M-10 -61h0M36 19h0M30 -89h0M52 -33h0M-31 35h0M-70 -14h0M46 -89h0M26 -75h0M-66 -24h0M1 18h0M-12 -49h0M39 -117h0M27 -85h0M-42 4h0M57 -107h0M39 -104h0M-61 -58h0M-48 65h0M-74 23h0M58 -81h0M43 -112h0M49 -104h0M-50 -34h0M-32 -31h0M-60 -28h0M-62 -31h0M15 -102h0M30 -60h0M-32 -20h0M-50 -53h0M22 -105h0M-85 -6h0M35 -19h0M-61 -65h0M28 -83h0M29 -75h0M49 -79h0"/><path vector-effect="non-scaling-stroke" fill="none" stroke-linecap="round" id="q12b11" d="M-71 44h0M-37 -19h0M-62 -38h0M40 -110h0M-81 -39h0M-75 24h0M29 -86h0M39 -58h0M35 -61h0M-60 14h0M-7 -26h0M36 -62h0M44 -79h0M-41 40h0M43 -93h0M-43 24h0M52 -63h0M-53 28h0M-29 13h0M-60 15h0M-70 -21h0M34 -89h0M-45 -21h0M43 -93h0M-30 -11h0M-50 -3h0M-29 13h0M-62 -66h0M-71 25h0M-36 -43h0M41 -63h0M-73 -52h0M-12 -60h0M22 -79h0M44 -69h0M36 -78h0M57 -106h0M-81 -6h0M-16 -11h0M-73 -6h0M27 -44h0M-39 -61h0M22 -55h0M-11 31h0M-7 -61h0M-33 9h0M-73 -5h0M-87 -14h0M18 -57h0M-34 -31h0M-83 -30h0M-75 -29h0M-20 27h0M45 -65h0M28 -95h0M46 -87h0M54 -95h0M-88 -23h0M44 -73h0M36 -89h0M-25 -37h0M-35 -40h0M-34 -63h0M-65 4h0M-68 29h0M24 -51h0M-26 11h0M25 -57h0M-60 -47h0M43 -72h0M44 -93h0M36 -73h0M35 23h0M-1 -54h0M43 -67h0M-47 -49h0M-44 -56h0M-16 -17h0M-25 -58h0M-15 -25h0M-29 -42h0M-69 29h0M50 -68h0M37 -116h0M-56 -30h0M-85 -36h0M-52 -25h0M-41 4h0M-78 -20h0M23 -16h0M24 -110h0M25 1h0M-21 0h0M-31 0h0M-58 9h0M-52 -18h0M-20 -16h0M43 -89h0M28 -78h0M-83 -27h0M-54 -13h0M37 -108h0M-61 -41h0M-69 -10h0M-72 -41h0M44 -68h0M-61 13h0M21 -90h0"/><path vector-effect="non-scaling-stroke" fill="none" stroke-linecap="round" id="q12c00" d="M-35 -36h0M-40 15h0M69 52h0M-85 -27h0M60 -91h0M-8 28h0M-38 -10h0M34 -53h0M-25 -12h0M-50 2h0M56 -15h0M79 81h0M-36 -22h0M-65 22h0M-8 -36h0M20 -59h0M49 -29h0M-18 -19h0M45 -48h0M-67 -15h0M41 -21h0M-28 -30h0M32 -58h0M-62 29h0M-51 -20h0M-40 0h0M16 -26h0M-36 -10h0M-19 8h0M43 26h0M75 59h0M83 -45h0M-59 -26h0M94 81h0M-33 9h0M-7 18h0M-43 41h0M-35 40h0M-70 1h0M-45 18h0M0 3h0M-41 20h0M-67 -33h0M-88 -19h0M-33 35h0"/><path vector-effect="non-scaling-stroke" fill="none" stroke-linecap="round" id="q12c01" d="M-71 29h0M-44 -49h0M-22 19h0M-49 30h0M-70 -36h0M-46 23h0M-46 4h0M-54 12h0M-29 46h0M-88 -18h0M36 21h0M-18 -4h0M22 -5h0M-13 3h0M20 11h0M-60 -36h0M38 10h0M11 14h0M92 -7h0M-37 -20h0M-80 -4h0M-84 9h0M88 -26h0M82 91h0M-54 29h0M-39 -32h0M41 14h0M-50 -4h0M47 -23h0M50 -17h0M-48 -53h0M100 -9h0M88 -19h0M57 -78h0M-45 -14h0M-67 12h0M-72 1h0M57 -75h0M57 -96h0M54 -90h0M-49 71h0M-75 -53h0M-84 -25h0M99 -25h0M124 -17h0M-47 2h0M-11 28h0M-65 23h0M79 4h0M-49 29h0M-10 -4h0M-63 23h0M-32 -2h0M64 0h0M2 20h0M-52 0h0"/><path vector-effect="non-scaling-stroke" fill="none" stroke-linecap="round" id="q12c10" d="M27 -48h0M13 -72h0M-65 -46h0M30 -1h0M-40 -59h0M-54 -59h0M-33 -65h0M-53 -30h0M25 -60h0M-28 -67h0M46 7h0M-38 -20h0M-33 14h0M-49 0h0M-42 -23h0M25 -88h0M-27 14h0M43 -111h0M26 -45h0M-20 13h0M-77 13h0M-60 -31h0M43 -25h0M-40 15h0M-33 -10h0M-55 -6h0M-78 -27h0M-36 -23h0M-71 -8h0M-73 -3h0M-58 -34h0M-60 -46h0M23 -112h0M-52 30h0M33 -51h0M28 -94h0M-63 16h0M-33 61h0M49 -110h0M-62 -8h0M-70 -12h0M30 -43h0M-48 1h0M-68 -13h0M37 -6h0M-80 12h0M45 -97h0M-3 -25h0M13 -42h0M42 -83h0M-41 -17h0M-46 -48h0M19 -102h0M56 -99h0M33 -61h0M-43 -25h0M-70 -51h0M-23 11h0M-36 40h0M43 -114h0M37 -116h0M-71 12h0M-2 -46h0M-73 -20h0M30 -71h0M47 -77h0M-62 -56h0M-19 -57h0M26 -100h0M-35 11h0M-33 23h0M0 -6h0M49 -88h0M28 -111h0M37 -98h0M-55 -2h0M-21 32h0M-49 -32h0M-21 -33h0M21 -54h0M-26 -17h0M-68 21h0M-25 -66h0M39 -71h0M-83 -27h0M33 -116h0M-31 22h0M43 -82h0M34 -78h0M-19 -16h0M-40 15h0M24 -90h0M-71 -63h0M-46 -35h0M32 -89h0M-81 -1h0M-60 -11h0M-9 3h0M38 -51h0M31 -59h0M-73 25h0M34 -107h0M28 -47h0"/><path vector-effect="non-scaling-stroke" fill="none" stroke-linecap="round" id="q12c11" d="M-70 23h0M-16 -22h0M40 -47h0M-60 -9h0M-41 -33h0M-64 -21h0M-41 10h0M-22 -22h0M-19 44h0M37 -69h0M-52 13h0M-59 -37h0M83 84h0M-87 -32h0M18 -102h0M30 -110h0M26 -83h0M37 -46h0M-73 9h0M29 -118h0M-78 -27h0M-59 -30h0M-68 -16h0M-50 13h0M-64 -12h0M-11 -57h0M78 84h0M-69 53h0M52 -104h0M41 -69h0M-36 -13h0M-6 -35h0M-55 -52h0M15 -103h0M50 -91h0M7 -49h0M26 -52h0M-47 -49h0M-51 -7h0M-77 -4h0M-55 -30h0M5 -47h0M-73 -4h0M21 -58h0M40 -29h0M-68 -35h0M-26 3h0M-37 -5h0M-41 -16h0M50 -96h0M-36 -4h0M-65 -47h0M-29 -26h0M-63 -12h0M35 -106h0M52 -26h0M-1 -37h0M-28 -9h0M60 -53h0M5 -46h0M-41 10h0M-42 -11h0M-69 -25h0M18 -79h0M19 -92h0M-62 21h0M-44 12h0M-76 -24h0M-45 -63h0M-86 -26h0M-65 -14h0M45 -90h0M-38 -33h0M-16 -39h0M39 -66h0M-42 13h0M59 -101h0M-35 -43h0M-28 -1h0M18 -17h0M-74 -21h0M-16 56h0M15 -98h0M50 -20h0M-17 -39h0M45 -66h0M54 -101h0M51 -73h0M11 -46h0M-26 25h0M9 -10h0M44 -98h0M-71 -14h0M-24 -12h0M38 -75h0M51 -74h0"/><path vector-effect="non-scaling-stroke" fill="none" stroke-linecap="round" id="q12d00" d="M43 16h0M-20 46h0M11 -25h0M-51 -11h0M-23 21h0M32 24h0M-31 12h0M-67 -4h0M-62 -33h0M3 -18h0M47 -53h0M-84 14h0M-69 21h0M-70 17h0M-86 -39h0M60 -18h0M-60 26h0M-39 56h0M49 -23h0M-36 34h0M-1 -28h0M-66 25h0M-11 37h0M-89 -22h0M-60 24h0M-50 3h0M46 -53h0M-66 20h0M-24 24h0M-36 -23h0M-78 18h0M-75 25h0M-34 20h0M-62 -18h0M-43 38h0M-56 17h0M-33 -14h0M-77 2h0M-72 -2h0M-70 1h0M-67 30h0M-69 25h0M65 -2h0M76 69h0M52 -3h0M9 21h0M-67 2h0M-85 9h0M-29 20h0M-53 68h0M-68 3h0M76 78h0M49 -1h0M86 91h0M-16 -26h0M-34 14h0M-27 58h0M-85 -17h0M-71 -4h0M-44 35h0M-85 10h0M-81 -1h0M54 -21h0M-39 23h0M-69 25h0M-80 -16h0M-76 -52h0M-56 35h0M-75 -32h0M-57 10h0M-53 23h0M-79 -20h0M-43 58h0M-68 0h0M-26 -21h0M-88 -15h0M-11 9h0M47 -6h0M15 -8h0M-88 -7h0M-32 -2h0M-34 -2h0M-49 -17h0M-61 12h0M9 -25h0M-11 42h0M-16 54h0M58 -89h0M8 -5h0M-68 -11h0M-82 -38h0"/><path vector-effect="non-scaling-stroke" fill="none" stroke-linecap="round" id="q12d01" d="M38 -45h0M56 -83h0M-6 27h0M1 -3h0M39 -15h0M43 -14h0M-87 -25h0M-34 69h0M48 -71h0M40 -11h0M49 -1h0M-70 20h0M-57 54h0M87 5h0M-8 26h0M-35 70h0M-45 1h0M-82 -32h0M-36 12h0M-61 33h0M52 -7h0M-59 -13h0M-83 -30h0M-67 13h0M-65 -38h0M-54 17h0M-42 -22h0M-34 -17h0M-57 22h0M-30 33h0M112 -31h0M-15 11h0M-52 9h0M-45 32h0M-18 21h0M-66 -9h0M-47 -1h0M-13 3h0M46 4h0M-65 -9h0M56 -49h0M-71 23h0M-17 29h0M-69 19h0M-42 35h0M-40 3h0M-27 21h0M-55 -41h0M53 -18h0M-54 31h0M35 -54h0M69 -32h0M44 -69h0M-39 -24h0M-34 35h0M46 -79h0M-23 0h0M-21 22h0M-21 1h0M-41 22h0M-25 59h0M56 -94h0M50 -71h0M-26 -35h0M-18 24h0M88 65h0M54 -64h0M-23 -28h0M-18 -14h0M-73 23h0M-25 58h0M-41 11h0M-5 3h0M-85 5h0M49 -65h0M74 81h0M45 14h0M-63 -15h0M-29 18h0M89 69h0M-87 -34h0M-28 -43h0M-29 54h0M44 -58h0M68 69h0M-37 -25h0M50 -26h0M-54 -5h0M-74 -54h0M-13 -17h0M-56 -1h0M-66 10h0M72 61h0"/><path vector-effect="non-scaling-stroke" fill="none" stroke-linecap="round" id="q12d10" d="M15 -65h0M-67 18h0M15 -34h0M-8 20h0M-71 -50h0M46 -34h0M-65 -7h0M-76 -18h0M34 -67h0M35 -86h0M-42 -54h0M-27 -10h0M-16 1h0M57 -108h0M-3 -52h0M45 -71h0M-59 -45h0M-59 -31h0M36 -99h0M28 -60h0M-53 -48h0M-36 29h0M-21 5h0M-41 -3h0M34 -69h0M-17 -28h0M-47 7h0M-7 0h0M53 -74h0M-33 0h0M-65 -38h0M-36 9h0M39 -116h0M-46 -64h0M-88 -4h0M-66 -2h0M-22 5h0M35 -88h0M-55 -12h0M-75 -55h0M-32 -63h0M-54 -55h0M31 -92h0M43 -107h0M-74 -25h0M-56 -25h0M49 -66h0M45 -59h0M21 -108h0M46 -10h0M-75 14h0M-74 -47h0M40 -56h0M-50 36h0M-81 5h0M-67 24h0M-10 -30h0M54 -80h0M19 -92h0M44 -94h0M-61 -61h0M31 -100h0M38 -90h0M-77 -11h0M-75 -37h0M30 -63h0M47 -113h0M-60 -6h0M50 -1h0M-50 -27h0M43 -70h0M1 -26h0M-71 -49h0M39 -102h0M-34 61h0M73 75h0M-33 -49h0M-49 -14h0M12 -98h0M60 -86h0M-76 -2h0M-67 -38h0M-69 -29h0M35 -47h0M21 -89h0M39 -49h0M-64 -39h0M-37 -11h0M31 10h0M17 -59h0M-32 -33h0M20 -107h0M16 -82h0M19 -75h0M4 10h0M-26 -22h0M-11 23h0M50 -90h0M-48 6h0M44 -106h0M-4 -53h0M38 -97h0M6 -3h0M27 -54h0M9 -26h0M-46 33h0M-27 -40h0M-43 -12h0M-70 -53h0M-67 26h0M-56 18h0M97 -26h0M2 -43h0M-84 -18h0M-19 29h0M14 -105h0M17 -108h0M-7 17h0M37 -90h0M-40 -1h0M-32 34h0M29 -50h0M39 -74h0M-43 -55h0M47 -95h0M-51 30h0M47 -16h0M-84 -25h0M-66 -30h0M-74 -25h0M28 -97h0M55 -47h0M-49 -8h0M-15 -10h0M-73 1h0M-69 -20h0M33 -79h0M44 -70h0M-41 16h0M24 -50h0M-75 -50h0M-5 15h0M-54 34h0M35 3h0"/><path vector-effect="non-scaling-stroke" fill="none" stroke-linecap="round" id="q12d11" d="M23 -22h0M-25 -4h0M47 -65h0M95 82h0M60 -100h0M-66 -11h0M-88 -16h0M-65 -27h0M12 -78h0M65 -50h0M60 -95h0M49 -100h0M-46 -28h0M-70 19h0M45 -53h0M5 -22h0M-50 -65h0M-64 29h0M16 -68h0M49 -74h0M54 -103h0M45 -110h0M-36 18h0M17 -72h0M-78 -45h0M34 -109h0M38 -104h0M39 -83h0M-85 -19h0M-39 -20h0M52 -62h0M-46 -52h0M22 -58h0M-30 -2h0M-73 0h0M17 -91h0M3 -29h0M-82 -43h0M-9 -51h0M-75 4h0M-46 12h0M26 -75h0M6 -38h0M-82 -17h0M-32 -29h0M-52 7h0M-5 28h0M49 -116h0M-46 -9h0M28 -70h0M-35 -54h0M-44 2h0M32 -51h0M54 -81h0M38 -32h0M-33 -1h0M28 -47h0M38 -98h0M-22 34h0M-60 -17h0M31 -47h0M-17 31h0M4 -41h0M40 -72h0M37 -49h0M23 -87h0M33 -2h0M-34 26h0M-58 4h0M-47 -47h0M-16 -17h0M-21 3h0M-86 -28h0M-82 13h0M-60 18h0M-1 -60h0M-43 9h0M-3 -19h0M45 -17h0M22 -68h0M-51 20h0M-42 -38h0M9 -58h0M-74 13h0M-78 -29h0M-86 1h0M-11 32h0M19 -12h0M33 -75h0M-3 -25h0M28 -2h0M-77 -48h0M-16 -52h0M23 -106h0M-66 38h0M-3 13h0M40 -82h0M14 -79h0M15 -23h0M27 -49h0M-15 -16h0M-87 -27h0M-11 -11h0M-28 38h0M22 -67h0M17 -60h0M54 -109h0M42 -81h0M-80 -2h0M-29 3h0M24 -110h0M-37 -37h0M33 -64h0M-55 15h0M-71 19h0M33 -106h0M-14 6h0M-22 19h0M59 -85h0M29 -95h0M-52 1h0M40 -67h0M-85 -22h0M3 -60h0M25 -5h0M23 -89h0M-53 -20h0M19 -84h0M-74 -57h0M-52 10h0"/><path vector-effect="non-scaling-stroke" fill="none" stroke-linecap="round" id="q13a00" d="M76 -10h0M-54 37h0M41 1h0M-17 34h0M67 66h0M58 -22h0M79 71h0M-46 -14h0M67 65h0M26 7h0M82 61h0M23 16h0M51 16h0M29 -14h0M-40 45h0M-37 69h0M-67 51h0M34 -45h0M25 -21h0M-18 29h0M83 87h0M104 -25h0M-83 -12h0M81 -4h0M9 4h0M43 -27h0M-7 14h0M32 -30h0M-31 35h0M-22 30h0M16 5h0M19 2h0M124 -26h0M-51 32h0M-54 11h0M38 0h0M-1 19h0M77 50h0M3 3h0M52 -64h0M43 1h0M-17 -41h0M-55 41h0M30 -35h0M-4 25h0M-6 8h0M-23 32h0M93 85h0M5 -12h0M56 -23h0M20 7h0M86 86h0M87 68h0M86 75h0M8 -20h0M-43 -38h0M-35 -4h0M-58 40h0"/><path vector-effect="non-scaling-stroke" fill="none" stroke-linecap="round" id="q13a01" d="M-45 38h0M20 -13h0M45 -22h0M-10 38h0M82 64h0M-66 51h0M78 67h0M34 7h0M19 9h0M-78 45h0M86 -21h0M49 -11h0M-15 53h0M88 -23h0M3 -11h0M36 8h0M43 -4h0M-58 44h0M-28 -36h0M-53 63h0M75 54h0M72 56h0M-10 38h0M19 -6h0M118 -28h0M86 61h0M57 34h0M23 -9h0M9 2h0M73 69h0M71 19h0M28 -16h0M12 -9h0M10 17h0M35 -24h0M-25 49h0M69 65h0M39 7h0M48 7h0M-8 17h0M-13 -23h0M-4 1h0M21 17h0M5 -2h0M84 85h0M-12 9h0M32 -4h0M-34 30h0M16 -6h0M75 62h0M3 25h0M76 90h0M74 65h0"/><path vector-effect="non-scaling-stroke" fill="none" stroke-linecap="round" id="q13a10" d="M-15 31h0M52 -90h0M-56 -33h0M30 12h0M21 -73h0M36 -3h0M2 -37h0M-30 50h0M-2 -13h0M46 -15h0M43 -31h0M14 -81h0M44 -37h0M37 -15h0M54 -5h0M38 -95h0M5 -20h0M3 -6h0M12 -33h0M32 -35h0M-61 30h0M5 -42h0M-5 21h0M23 -61h0M-58 -15h0M47 -13h0M58 -13h0M50 10h0M-8 22h0M-4 -7h0M48 -83h0"/><path vector-effect="non-scaling-stroke" fill="none" stroke-linecap="round" id="q13a11" d="M-66 23h0M31 -25h0M21 -19h0M34 -110h0M59 -107h0M17 -55h0M-2 7h0M52 -33h0M24 -18h0M26 -67h0M35 -70h0M31 -12h0M35 -37h0M56 -68h0M6 -51h0M47 -53h0M29 -98h0M-67 -30h0M-56 4h0M-29 14h0M32 -75h0M57 26h0M38 -28h0M97 -19h0M20 2h0M28 -88h0M23 -108h0M49 -87h0M55 24h0M45 -69h0M26 -97h0M47 -53h0M-60 -34h0M42 -117h0M1 -1h0M-36 30h0M38 -28h0"/><path vector-effect="non-scaling-stroke" fill="none" stroke-linecap="round" id="q13b00" d="M44 -47h0M81 72h0M18 -3h0M70 71h0M87 91h0M55 -90h0M9 -20h0M70 69h0M42 -14h0M-66 52h0M-29 32h0M20 4h0M47 -21h0M91 81h0M43 14h0M46 -12h0M-55 27h0M52 -73h0M-42 -20h0M20 12h0M6 20h0M133 -24h0M37 24h0M34 -33h0M25 -20h0M6 -3h0M-13 17h0M82 58h0M74 67h0M56 -22h0M35 0h0M34 -5h0M19 -1h0M80 66h0M87 93h0M-53 60h0M47 -13h0M-2 12h0M-77 33h0M-80 -9h0M73 67h0M46 -18h0M70 69h0M22 -2h0M72 55h0M-68 52h0"/><path vector-effect="non-scaling-stroke" fill="none" stroke-linecap="round" id="q13b01" d="M74 65h0M2 24h0M48 -18h0M40 -6h0M-20 27h0M-5 12h0M20 12h0M83 58h0M60 -98h0M-13 -3h0M-13 11h0M45 -9h0M74 69h0M93 84h0M-39 23h0M46 -16h0M73 62h0M89 82h0M18 4h0M9 22h0M12 1h0M21 -39h0M25 1h0M29 11h0M30 -20h0M8 16h0M84 77h0M69 52h0M26 11h0M41 -22h0M-5 26h0M-19 29h0M23 -3h0M73 75h0M-4 15h0M30 -17h0M-20 12h0M35 -9h0M25 8h0M17 5h0M71 54h0M-68 54h0M70 72h0M43 -19h0M13 -14h0M5 10h0M46 -16h0M2 14h0M33 3h0M72 71h0M34 0h0M-10 -23h0M10 11h0M52 5h0M-4 11h0M37 -10h0M87 94h0"/><path vector-effect="non-scaling-stroke" fill="none" stroke-linecap="round" id="q13b10" d="M36 -68h0M24 5h0M30 -65h0M112 -22h0M44 -116h0M-15 0h0M15 0h0M24 -42h0M-55 33h0M44 -89h0M-33 29h0M-6 14h0M40 -70h0M15 -1h0M37 -19h0M38 -67h0M-13 -1h0M37 -10h0M16 -57h0M1 -7h0M22 -73h0M19 -97h0M42 -1h0M16 -95h0M57 -78h0M48 -95h0M-10 8h0M3 -20h0M39 -88h0M29 -55h0M26 -24h0M60 -87h0M48 -102h0M43 -80h0M54 -99h0M41 -17h0M-16 24h0M33 9h0M-26 -61h0M5 -8h0M39 -117h0M1 14h0"/><path vector-effect="non-scaling-stroke" fill="none" stroke-linecap="round" id="q13b11" d="M17 -80h0M51 -79h0M20 -14h0M17 -93h0M38 -1h0M35 -91h0M34 7h0M38 0h0M9 15h0M-4 9h0M-1 -18h0M31 6h0M23 13h0M21 -112h0M-10 29h0M3 -12h0M25 -14h0M54 -87h0M14 -1h0M26 -111h0M44 -113h0M34 -23h0M-8 29h0M-50 -65h0M22 7h0M0 7h0M17 16h0M-4 2h0M12 -15h0M40 18h0M25 7h0M23 -18h0M25 -60h0M21 3h0M30 -92h0M28 -58h0M39 -29h0M35 -4h0M33 6h0M23 -113h0M-35 -49h0M-39 66h0M33 -59h0M2 -11h0M-9 -22h0M25 -73h0M24 -105h0M44 -9h0M42 -101h0M16 -12h0M34 -63h0M39 -28h0M34 -29h0M33 -118h0M-7 15h0M38 -92h0M54 -87h0"/><path vector-effect="non-scaling-stroke" fill="none" stroke-linecap="round" id="q13c00" d="M95 74h0M81 59h0M-81 12h0M102 -11h0M46 -16h0M85 85h0M5 22h0M83 -13h0M44 -11h0M19 -3h0M8 -23h0M-20 65h0M86 92h0M39 -3h0M15 -12h0M32 -2h0M-3 16h0M48 -18h0M54 -19h0M52 -13h0M22 -8h0M92 75h0M76 56h0M4 10h0M14 -24h0M89 79h0M90 76h0M28 -36h0M81 70h0M43 -4h0M-35 -24h0M-25 53h0M44 22h0M29 1h0M42 -16h0M13 20h0M26 -51h0M17 -14h0M31 13h0M-28 31h0M79 59h0M30 15h0M90 80h0M45 12h0M40 -6h0M5 12h0M37 23h0M38 -1h0"/><path vector-effect="non-scaling-stroke" fill="none" stroke-linecap="round" id="q13c01" d="M17 -3h0M88 73h0M-15 13h0M49 -78h0M87 94h0M-33 -15h0M16 3h0M-7 -7h0M93 86h0M-22 62h0M40 28h0M117 -35h0M22 -22h0M-69 -20h0M38 6h0M22 15h0M50 -3h0M25 -17h0M8 9h0M44 -83h0M-6 19h0M35 -13h0M81 94h0M47 -5h0M-51 10h0M-61 28h0M-29 29h0M-40 27h0M-52 27h0M42 14h0M21 -23h0M23 15h0M24 -6h0M15 -6h0M-5 28h0M30 -1h0M103 -14h0M65 24h0M15 2h0M-30 52h0M28 6h0"/><path vector-effect="non-scaling-stroke" fill="none" stroke-linecap="round" id="q13c10" d="M13 -9h0M22 -108h0M45 -110h0M23 -65h0M14 -65h0M-6 -7h0M45 -58h0M31 -18h0M40 -47h0M40 -10h0M-85 -2h0M28 -118h0M35 -115h0M50 -108h0M35 9h0M-22 -54h0M-24 -31h0M38 -42h0M41 -13h0M28 -87h0M-30 -31h0M-70 26h0M45 -28h0M-10 -29h0M48 -89h0M19 -12h0M41 -98h0M-62 19h0M52 -109h0M9 -11h0M-13 2h0M27 -16h0M41 -95h0M22 -16h0M38 -26h0M45 -50h0M-6 18h0M-2 -29h0M38 -13h0M-11 5h0"/><path vector-effect="non-scaling-stroke" fill="none" stroke-linecap="round" id="q13c11" d="M50 -70h0M13 -100h0M45 -23h0M17 -73h0M14 2h0M35 -3h0M49 -111h0M17 -21h0M37 -4h0M16 -27h0M-43 -44h0M29 -4h0M37 -74h0M47 -90h0M26 -38h0M3 22h0M43 -90h0M34 -1h0M40 -1h0M-38 24h0M6 0h0M29 2h0M45 -48h0M71 52h0M30 -90h0M25 -19h0M11 -1h0M21 -87h0M-75 6h0M38 -21h0M29 -23h0M-1 17h0M37 -22h0M-89 -9h0M-13 39h0M39 -111h0M14 -11h0M31 -22h0M-2 5h0M38 -110h0M-25 41h0M2 -43h0M33 -114h0M4 -14h0M38 -6h0M56 -87h0M-55 -42h0"/><path vector-effect="non-scaling-stroke" fill="none" stroke-linecap="round" id="q13d00" d="M1 18h0M7 23h0M-1 -12h0M-23 10h0M-45 44h0M76 69h0M73 7h0M49 -64h0M42 1h0M39 -33h0M-3 -6h0M71 60h0M25 -3h0M46 23h0M77 81h0M72 62h0M92 82h0M75 69h0M5 22h0M36 -34h0M-5 19h0M20 -16h0M71 72h0M77 -10h0M25 -8h0M36 6h0M92 72h0M-3 27h0M-30 39h0M1 20h0M6 -14h0M-30 -12h0M-43 57h0M-37 26h0M-45 50h0M24 -2h0M40 -3h0M31 7h0M-5 3h0M25 8h0M-25 13h0M17 11h0M84 74h0M-36 56h0M1 3h0M32 4h0M130 -29h0M27 11h0M30 6h0M-31 29h0M-15 44h0M28 -26h0M75 -18h0M71 53h0M9 3h0M73 50h0M71 52h0M-51 27h0M75 83h0M96 -30h0M-30 15h0"/><path vector-effect="non-scaling-stroke" fill="none" stroke-linecap="round" id="q13d01" d="M114 -33h0M-17 1h0M-60 14h0M37 -1h0M-67 -28h0M86 73h0M-17 31h0M23 -16h0M89 86h0M84 62h0M82 65h0M36 4h0M18 -14h0M-35 55h0M75 62h0M20 14h0M78 53h0M74 83h0M42 -8h0M-11 40h0M10 4h0M10 -21h0M9 21h0M94 76h0M2 21h0M45 -7h0M-25 11h0M38 -5h0M-6 -17h0M1 7h0M-21 2h0M-33 58h0M-53 5h0M70 -13h0M-5 10h0M19 -71h0M-6 18h0M10 1h0M-67 49h0M-4 22h0M-15 30h0M-54 29h0M86 90h0M21 17h0M-3 -17h0M121 -21h0M72 61h0M-15 8h0M-63 16h0M11 1h0M5 21h0M1 18h0M34 8h0M24 -36h0M-18 42h0M12 -25h0"/><path vector-effect="non-scaling-stroke" fill="none" stroke-linecap="round" id="q13d10" d="M3 -27h0M41 -51h0M36 -66h0M-28 37h0M36 -24h0M44 -67h0M23 9h0M34 -84h0M42 -48h0M-37 -30h0M-38 50h0M25 0h0M46 -15h0M-8 -38h0M49 -30h0M37 -18h0M57 2h0M23 -14h0M12 13h0M95 77h0M17 19h0M40 0h0M33 -7h0M16 3h0M30 -84h0M-83 17h0M-2 -8h0M34 -3h0M43 -81h0M-8 10h0M12 -13h0M22 -29h0M20 -69h0M27 3h0M7 5h0M-12 -31h0M27 -49h0M24 -30h0M22 -48h0M28 -111h0M29 -10h0M16 -105h0M30 3h0M2 16h0M78 69h0M54 -104h0M-14 -12h0M-81 -19h0M15 -31h0M-9 -32h0M23 -80h0M15 -19h0M36 -4h0M31 5h0M32 -110h0M46 -67h0M36 -101h0M36 -99h0M-6 20h0M47 -60h0M33 -117h0M0 -9h0M-46 -56h0M40 -31h0M-47 60h0M-15 32h0M-20 11h0M-5 29h0M42 25h0M30 -57h0M20 -60h0M29 -7h0"/><path vector-effect="non-scaling-stroke" fill="none" stroke-linecap="round" id="q13d11" d="M32 -93h0M32 -2h0M-65 10h0M52 -101h0M51 -86h0M-25 -16h0M36 -9h0M-52 -61h0M31 -34h0M-60 -42h0M19 2h0M31 -70h0M38 -67h0M-2 0h0M13 -37h0M21 -100h0M29 -24h0M26 -60h0M39 -108h0M33 -96h0M19 -113h0M40 -8h0M11 17h0M17 -59h0M35 -18h0M8 23h0M36 -105h0M20 -35h0M65 26h0M45 8h0M46 -105h0M38 -89h0M38 -21h0M40 -105h0M-42 -62h0M-5 10h0M-30 -49h0M21 -7h0M13 -31h0M37 -10h0M40 -93h0M27 -26h0M21 -110h0M38 -98h0M-42 25h0M17 11h0M45 -29h0M32 -16h0M46 -65h0M47 -9h0M39 -28h0M17 -58h0M16 -34h0"/></g></defs>
<text x="-0.3" y="13.0" font-size="18" font-weight="bold">A</text><text x="214.9" y="13.0" font-size="18" font-weight="bold">B</text><text x="447.0" y="13.0" font-size="18" font-weight="bold">C</text><text x="-1.2" y="256.8" font-size="18" font-weight="bold">D</text><text x="279.9" y="256.9" font-size="18" font-weight="bold">E</text><text x="-1.2" y="620.8" font-size="18" font-weight="bold">F</text><text x="342.3" y="620.8" font-size="18" font-weight="bold">G</text><rect x="33.4" y="12.4" width="145.7" height="108.4" fill="#f3f4f8" stroke="#c3c8de" stroke-width="1"/><rect x="33.4" y="120.8" width="145.7" height="106.9" fill="#e4e7f5" stroke="#a4abd5" stroke-width="1"/><circle cx="75.5" cy="23.0" r="4.3" fill="none" stroke="#8d97c9" stroke-width="0.6"/><text x="75.5" y="24.9" font-size="5.4" text-anchor="middle" font-weight="bold" fill="#222">1</text><circle cx="148.0" cy="23.0" r="4.3" fill="none" stroke="#8d97c9" stroke-width="0.6"/><text x="148.0" y="24.9" font-size="5.4" text-anchor="middle" font-weight="bold" fill="#222">2</text><circle cx="74.8" cy="131.7" r="4.3" fill="none" stroke="#8d97c9" stroke-width="0.6"/><text x="74.8" y="133.6" font-size="5.4" text-anchor="middle" font-weight="bold" fill="#222">3</text><circle cx="148.0" cy="131.7" r="4.3" fill="none" stroke="#8d97c9" stroke-width="0.6"/><text x="148.0" y="133.6" font-size="5.4" text-anchor="middle" font-weight="bold" fill="#222">4</text><g transform="translate(37.8 27.8)"><path d="M28.5 14.2C36 15.5 42 13 47 13.5C50.5 14 52 16.5 52 20" fill="none" stroke="#cfd0d6" stroke-width="0.9" stroke-linecap="round"/><path d="M0.5 12.5C1.5 9.5 3.5 7 6.2 5.4L6.6 2.2L9.2 4.2C12 1.5 17 0 22 0.8C27 1.8 30 6.5 30 11.5C30 14.8 28.5 16.3 25.5 16.3L22 16.3L21 17.3L19.5 16.3L10 16.3L9 17.3L7.5 16.3L5 16.3C2.5 16.3 0.3 15 0.5 12.5Z" fill="#fff" stroke="#cfd0d6" stroke-width="0.4"/><circle cx="4.3" cy="8.8" r="0.5" fill="#888"/></g><g transform="translate(37.8 52.6)"><path d="M28.5 14.2C36 15.5 42 13 47 13.5C50.5 14 52 16.5 52 20" fill="none" stroke="#dcdde2" stroke-width="0.9" stroke-linecap="round"/><path d="M0.5 12.5C1.5 9.5 3.5 7 6.2 5.4L6.6 2.2L9.2 4.2C12 1.5 17 0 22 0.8C27 1.8 30 6.5 30 11.5C30 14.8 28.5 16.3 25.5 16.3L22 16.3L21 17.3L19.5 16.3L10 16.3L9 17.3L7.5 16.3L5 16.3C2.5 16.3 0.3 15 0.5 12.5Z" fill="#dcdde2" stroke="#d0d1d6" stroke-width="0.4"/><circle cx="4.3" cy="8.8" r="0.5" fill="#888"/></g><g transform="translate(37.8 78.4)"><path d="M28.5 14.2C36 15.5 42 13 47 13.5C50.5 14 52 16.5 52 20" fill="none" stroke="#c2c4c9" stroke-width="0.9" stroke-linecap="round"/><path d="M0.5 12.5C1.5 9.5 3.5 7 6.2 5.4L6.6 2.2L9.2 4.2C12 1.5 17 0 22 0.8C27 1.8 30 6.5 30 11.5C30 14.8 28.5 16.3 25.5 16.3L22 16.3L21 17.3L19.5 16.3L10 16.3L9 17.3L7.5 16.3L5 16.3C2.5 16.3 0.3 15 0.5 12.5Z" fill="#c2c4c9" stroke="#b9bbc0" stroke-width="0.4"/><circle cx="4.3" cy="8.8" r="0.5" fill="#888"/></g><text x="54.0" y="38.6" font-size="4.3" text-anchor="middle" font-weight="bold" fill="#222">Young</text><text x="54.4" y="62.9" font-size="4.3" text-anchor="middle" font-weight="bold" fill="#222">Middle-aged</text><text x="53.2" y="88.2" font-size="4.3" text-anchor="middle" font-weight="bold" fill="#222">Old</text><path d="M83.7 37.4H95.1" stroke="#3b3f63" stroke-width="0.7"/><path d="M94.5 36.1L97.1 37.4L94.5 38.699999999999996Z" fill="#3b3f63"/><path d="M83.7 60.8H95.1" stroke="#8f92a8" stroke-width="0.7"/><path d="M94.5 59.5L97.1 60.8L94.5 62.099999999999994Z" fill="#8f92a8"/><path d="M83.7 86.1H95.1" stroke="#3b3f63" stroke-width="0.7"/><path d="M94.5 84.8L97.1 86.1L94.5 87.39999999999999Z" fill="#3b3f63"/><g transform="translate(104.0 27.3)"><path d="M1.9 5.5L4.3 18.5" stroke="#8e2a22" stroke-width="2.0" stroke-linecap="round"/><path d="M1.9 5.5L4.3 18.5" stroke="#cc4a3b" stroke-width="1.2" stroke-linecap="round"/><path d="M0.2 6.5C-0.3 4.5 0.4 2.8 1.8 2.6C2.5 0.8 4.8 -0.2 6.2 0.8C7.6 1.8 7.2 3.6 5.6 4.2C4.8 5.6 3.8 6.6 2.6 7.2C1.6 7.6 0.5 7.4 0.2 6.5Z" fill="#cfcfcf" stroke="#9a9a9a" stroke-width="0.35"/></g><g transform="translate(104.0 51.2)"><path d="M1.9 5.5L4.3 18.5" stroke="#8e2a22" stroke-width="2.0" stroke-linecap="round"/><path d="M1.9 5.5L4.3 18.5" stroke="#cc4a3b" stroke-width="1.2" stroke-linecap="round"/><path d="M0.2 6.5C-0.3 4.5 0.4 2.8 1.8 2.6C2.5 0.8 4.8 -0.2 6.2 0.8C7.6 1.8 7.2 3.6 5.6 4.2C4.8 5.6 3.8 6.6 2.6 7.2C1.6 7.6 0.5 7.4 0.2 6.5Z" fill="#cfcfcf" stroke="#9a9a9a" stroke-width="0.35"/></g><g transform="translate(104.0 75.0)"><path d="M1.9 5.5L4.3 18.5" stroke="#8e2a22" stroke-width="2.0" stroke-linecap="round"/><path d="M1.9 5.5L4.3 18.5" stroke="#cc4a3b" stroke-width="1.2" stroke-linecap="round"/><path d="M0.2 6.5C-0.3 4.5 0.4 2.8 1.8 2.6C2.5 0.8 4.8 -0.2 6.2 0.8C7.6 1.8 7.2 3.6 5.6 4.2C4.8 5.6 3.8 6.6 2.6 7.2C1.6 7.6 0.5 7.4 0.2 6.5Z" fill="#cfcfcf" stroke="#9a9a9a" stroke-width="0.35"/></g><text x="107.9" y="104.0" font-size="4.7" text-anchor="middle" font-weight="bold" fill="#222">WBM</text><text x="107.9" y="109.2" font-size="4.7" text-anchor="middle" fill="#222">isolation</text><path d="M140.9 55.7V43.9A9.45 9.45 0 0 1 159.8 43.9V55.7H154.3V43.9A3.95 3.95 0 0 0 146.4 43.9V55.7Z" fill="#b6b8bc"/><path d="M140.9 51.2H146.4M154.3 51.2H159.8" stroke="#eef0f4" stroke-width="0.6"/><path d="M142 58.5q1-1.5 2 0q1-1.5 2 0M155 58.5q1-1.5 2 0q1-1.5 2 0" fill="none" stroke="#9a9ca2" stroke-width="0.35"/><circle cx="135.4" cy="62.0" r="2.5" fill="#72b7cd"/><circle cx="134.9" cy="61.6" r="1.1" fill="#fff" fill-opacity="0.25"/><circle cx="141.5" cy="67.2" r="2.5" fill="#5fb685"/><circle cx="141.0" cy="66.8" r="1.1" fill="#fff" fill-opacity="0.25"/><circle cx="150.3" cy="67.0" r="2.5" fill="#e285c0"/><circle cx="149.8" cy="66.6" r="1.1" fill="#fff" fill-opacity="0.25"/><circle cx="159.2" cy="64.8" r="2.5" fill="#a498dd"/><circle cx="158.7" cy="64.39999999999999" r="1.1" fill="#fff" fill-opacity="0.25"/><circle cx="166.6" cy="62.3" r="2.5" fill="#8d94e3"/><circle cx="166.1" cy="61.9" r="1.1" fill="#fff" fill-opacity="0.25"/><rect x="133.2" y="76" width="35" height="14.8" rx="1" fill="#cfd0d4" stroke="#b4b6ba" stroke-width="0.4"/><path d="M135.50 76.5V89.5M138.75 76.5V89.5M142.00 76.5V89.5M145.25 76.5V89.5M148.50 76.5V89.5M151.75 76.5V89.5M155.00 76.5V89.5M158.25 76.5V89.5M161.50 76.5V89.5M164.75 76.5V89.5" stroke="#a3a5aa" stroke-width="0.9"/><rect x="133.2" y="88.8" width="35" height="2.2" fill="#e4e5e8"/><rect x="133" y="72" width="35.4" height="4.2" rx="1.2" fill="#8e3592"/><path d="M134 74.5H167.4" stroke="#5e1f66" stroke-width="0.5" stroke-dasharray="1 1.2"/><text x="150.7" y="104.0" font-size="4.7" text-anchor="middle" fill="#222">Removal of</text><text x="150.7" y="109.2" font-size="4.7" text-anchor="middle" fill="#222">lineage</text><text x="150.7" y="114.4" font-size="4.7" text-anchor="middle" fill="#222">positive cells</text><path d="M54.3 133.4V169.5M60.6 133.4V169.5M48.5 140.6V154.4L54.3 161.5M66.5 140.6V154.4L60.6 161.5" fill="none" stroke="#4a4a4a" stroke-width="0.9"/><circle cx="57.45" cy="135.2" r="0.85" fill="#555"/><circle cx="57.45" cy="141.7" r="0.85" fill="#555"/><circle cx="57.45" cy="148.3" r="0.85" fill="#555"/><circle cx="57.45" cy="154.9" r="0.85" fill="#555"/><circle cx="57.45" cy="161.4" r="0.85" fill="#555"/><circle cx="57.45" cy="167.8" r="0.85" fill="#555"/><path d="M45 165.5L49 163L52.5 170L51.2 171.5Z" fill="#ececec" stroke="#a5a5a5" stroke-width="0.4"/><path d="M51.5 172.6H63.2V174.2H51.5Z" fill="#e9e9e9" stroke="#a5a5a5" stroke-width="0.4"/><path d="M52.7 174.2H62.2V188L57.9 201H57.1L52.7 188Z" fill="#f6f6f6" stroke="#a8a8a8" stroke-width="0.45"/><path d="M53.1 188.2H61.8L57.8 200.4H57.2Z" fill="#c9cff0"/><circle cx="55" cy="190" r="0.7" fill="#7a3a9a"/><circle cx="57.5" cy="189.8" r="0.7" fill="#d04a4a"/><circle cx="60" cy="190.3" r="0.7" fill="#4a63c8"/><circle cx="56.2" cy="192.8" r="0.7" fill="#e0a030"/><circle cx="58.8" cy="192.6" r="0.7" fill="#7a3a9a"/><circle cx="57.4" cy="195.2" r="0.7" fill="#d04a4a"/><circle cx="55.5" cy="195" r="0.7" fill="#4a63c8"/><circle cx="58.3" cy="197.3" r="0.7" fill="#7a3a9a"/><path d="M68.5 184.3H78.5" stroke="#333" stroke-width="0.7"/><path d="M77.9 183.0L80.5 184.3L77.9 185.60000000000002Z" fill="#333"/><path d="M85.8 171.3H97.1V173.4H85.8Z" fill="#e9e9e9" stroke="#a5a5a5" stroke-width="0.4"/><path d="M86.9 173.4H96V191.2L91.9 200.4H91.1L86.9 191.2Z" fill="#f6f6f6" stroke="#a8a8a8" stroke-width="0.45"/><path d="M87.2 191.2H95.7L91.8 199.8H91.2Z" fill="#f0d9a0"/><rect x="87.3" y="182" width="8.3" height="9.2" fill="#6b3c8e"/><path d="M89.37 182V191.2M91.44 182V191.2M93.51 182V191.2M87.3 184.30H95.6M87.3 186.60H95.6M87.3 188.90H95.6" stroke="#b89ad2" stroke-width="0.35"/><text x="58.9" y="213.2" font-size="4.7" text-anchor="middle" fill="#222">LT-HSC</text><text x="58.9" y="218.0" font-size="4.7" text-anchor="middle" fill="#222">sorting</text><text x="90.8" y="213.6" font-size="4.7" text-anchor="middle" fill="#222">PIP-seq</text><text x="90.8" y="218.4" font-size="4.7" text-anchor="middle" fill="#222">pipeline</text><defs><linearGradient id="pb" x1="0" x2="1" y1="0" y2="0"><stop offset="0" stop-color="#e2e3f6"/><stop offset="0.35" stop-color="#c9c7ee"/><stop offset="0.6" stop-color="#a79cda"/><stop offset="0.85" stop-color="#b5b0e6"/><stop offset="1" stop-color="#c8c8f2"/></linearGradient></defs><path d="M113.8 203.7L116.4 208.3L120.5 209.8H160.5L162.4 203.7Z" fill="#efebe7" stroke="#d6d2ce" stroke-width="0.3"/><rect x="113.8" y="186.5" width="53.9" height="17.2" fill="#cfd0d3"/><rect x="113.8" y="186.5" width="13.1" height="17.2" fill="#dfe0e2"/><rect x="113.8" y="176.1" width="53.9" height="11.9" fill="url(#pb)"/><path d="M113.8 176.3H167.7M113.8 186.2L126.9 188.0H167.7" stroke="#9c9bd6" stroke-width="0.6" fill="none"/><path d="M113.8 159L126.9 154.4H167.7V176.1H113.8Z" fill="#dcdde0"/><rect x="126.9" y="154.4" width="40.8" height="21.7" fill="#e2e3e5" stroke="#c6c7ca" stroke-width="0.4"/><path d="M113.8 159L126.9 154.4V176.1H113.8Z" fill="#d2d3d6"/><path d="M116 161V174M118 160.3V174M120 159.6V174M122 158.9V174" stroke="#c2c3c6" stroke-width="0.4" stroke-dasharray="0.8 0.6"/><rect x="133.9" y="155.8" width="29.1" height="19" fill="#6c6c6c" stroke="#9a9a9a" stroke-width="0.5"/><path d="M163 156.5V174.8H145.5Z" fill="#7f7f7f"/><rect x="281.3" y="14.4" width="122.3" height="9.7" fill="#fff" stroke="#777" stroke-width="0.6"/><text x="343.5" y="21.8" font-size="7.3" text-anchor="middle" fill="#111" textLength="115.4" lengthAdjust="spacingAndGlyphs">Sca1+, Kit+, Flt3−, Slamf1+, Cd48−</text><rect x="283.00" y="36.00" width="46.93" height="18.70" fill="#cd5656"/><rect x="329.93" y="36.00" width="43.67" height="18.70" fill="#3e7cc3"/><text x="306.5" y="48.0" font-size="7.4" text-anchor="middle" fill="#fff">51.8</text><text x="351.8" y="48.0" font-size="7.4" text-anchor="middle" fill="#fff">48.2</text><line x1="281.8" y1="57.6" x2="377.8" y2="57.6" stroke="#bdbdbd" stroke-width="1.3"/><line x1="283.0" y1="57.6" x2="283.0" y2="59.1" stroke="#9a9a9a" stroke-width="0.6"/><text x="282.6" y="60.0" font-size="5.4" text-anchor="end" fill="#555" transform="rotate(-45 282.6 60.0)" dy="3.8">0</text><line x1="305.6" y1="57.6" x2="305.6" y2="59.1" stroke="#9a9a9a" stroke-width="0.6"/><text x="305.2" y="60.0" font-size="5.4" text-anchor="end" fill="#555" transform="rotate(-45 305.2 60.0)" dy="3.8">25</text><line x1="328.3" y1="57.6" x2="328.3" y2="59.1" stroke="#9a9a9a" stroke-width="0.6"/><text x="327.9" y="60.0" font-size="5.4" text-anchor="end" fill="#555" transform="rotate(-45 327.9 60.0)" dy="3.8">50</text><line x1="351.0" y1="57.6" x2="351.0" y2="59.1" stroke="#9a9a9a" stroke-width="0.6"/><text x="350.6" y="60.0" font-size="5.4" text-anchor="end" fill="#555" transform="rotate(-45 350.6 60.0)" dy="3.8">75</text><line x1="373.6" y1="57.6" x2="373.6" y2="59.1" stroke="#9a9a9a" stroke-width="0.6"/><text x="373.2" y="60.0" font-size="5.4" text-anchor="end" fill="#555" transform="rotate(-45 373.2 60.0)" dy="3.8">100</text><text x="328.3" y="77.5" font-size="7.25" text-anchor="middle" fill="#2a2a2a" textLength="58" lengthAdjust="spacingAndGlyphs">Proportion of cells</text><rect x="386.10" y="37.00" width="9.80" height="9.90" fill="#3e7cc3"/><rect x="386.10" y="48.00" width="9.80" height="9.90" fill="#cd5656"/><text x="399.7" y="44.0" font-size="5.6" fill="#333">Neg</text><text x="399.7" y="55.0" font-size="5.6" fill="#333">Pos</text><line x1="258.8" y1="78.0" x2="258.8" y2="225.6" stroke="#111" stroke-width="0.9"/><line x1="258.4" y1="225.2" x2="414.7" y2="225.2" stroke="#111" stroke-width="0.9"/><line x1="256.8" y1="94.2" x2="258.8" y2="94.2" stroke="#111" stroke-width="0.7200000000000001"/><text x="255.8" y="96.6" font-size="7.0" text-anchor="end" fill="#333">5</text><line x1="256.8" y1="135.2" x2="258.8" y2="135.2" stroke="#111" stroke-width="0.7200000000000001"/><text x="255.8" y="137.6" font-size="7.0" text-anchor="end" fill="#333">0</text><line x1="256.8" y1="176.2" x2="258.8" y2="176.2" stroke="#111" stroke-width="0.7200000000000001"/><text x="255.8" y="178.6" font-size="7.0" text-anchor="end" fill="#333">-5</text><line x1="256.8" y1="217.2" x2="258.8" y2="217.2" stroke="#111" stroke-width="0.7200000000000001"/><text x="255.8" y="219.6" font-size="7.0" text-anchor="end" fill="#333">-10</text><line x1="261.1" y1="225.2" x2="261.1" y2="227.2" stroke="#111" stroke-width="0.7200000000000001"/><text x="261.1" y="233.8" font-size="7.0" text-anchor="middle" fill="#333">-5</text><line x1="300.3" y1="225.2" x2="300.3" y2="227.2" stroke="#111" stroke-width="0.7200000000000001"/><text x="300.3" y="233.8" font-size="7.0" text-anchor="middle" fill="#333">0</text><line x1="339.6" y1="225.2" x2="339.6" y2="227.2" stroke="#111" stroke-width="0.7200000000000001"/><text x="339.6" y="233.8" font-size="7.0" text-anchor="middle" fill="#333">5</text><line x1="378.8" y1="225.2" x2="378.8" y2="227.2" stroke="#111" stroke-width="0.7200000000000001"/><text x="378.8" y="233.8" font-size="7.0" text-anchor="middle" fill="#333">10</text><text x="336.8" y="241.5" font-size="7.6" text-anchor="middle" fill="#222">UMAP_1</text><text x="240.4" y="150.4" font-size="7.6" text-anchor="middle" fill="#222" transform="rotate(-90 240.4 150.4)">UMAP_2</text><g transform="translate(300.3 135.2) scale(0.3925 0.4100)" stroke-width="1.05"><g stroke="#c6c6c6"><use href="#q0a00"/><use href="#q1a00"/><use href="#q2a00"/><use href="#q3a00"/><use href="#q4a00"/><use href="#q5a00"/><use href="#q6a00"/><use href="#q7a00"/><use href="#q8a00"/><use href="#q9a00"/><use href="#q10a00"/><use href="#q11a00"/><use href="#q12a00"/><use href="#q13a00"/></g><g stroke="#e8231f"><use href="#q1a10"/><use href="#q5a10"/><use href="#q6a10"/><use href="#q7a10"/><use href="#q8a10"/><use href="#q9a10"/><use href="#q10a10"/><use href="#q11a10"/><use href="#q12a10"/><use href="#q13a10"/></g><g stroke="#c6c6c6"><use href="#q0a01"/><use href="#q1a01"/><use href="#q2a01"/><use href="#q3a01"/><use href="#q4a01"/><use href="#q5a01"/><use href="#q6a01"/><use href="#q7a01"/><use href="#q8a01"/><use href="#q9a01"/><use href="#q10a01"/><use href="#q11a01"/><use href="#q12a01"/><use href="#q13a01"/></g><g stroke="#e8231f"><use href="#q1a11"/><use href="#q4a11"/><use href="#q5a11"/><use href="#q6a11"/><use href="#q7a11"/><use href="#q8a11"/><use href="#q9a11"/><use href="#q10a11"/><use href="#q11a11"/><use href="#q12a11"/><use href="#q13a11"/></g><g stroke="#c6c6c6"><use href="#q0b00"/><use href="#q1b00"/><use href="#q2b00"/><use href="#q3b00"/><use href="#q4b00"/><use href="#q5b00"/><use href="#q6b00"/><use href="#q7b00"/><use href="#q8b00"/><use href="#q9b00"/><use href="#q10b00"/><use href="#q11b00"/><use href="#q12b00"/><use href="#q13b00"/></g><g stroke="#e8231f"><use href="#q2b10"/><use href="#q5b10"/><use href="#q6b10"/><use href="#q7b10"/><use href="#q8b10"/><use href="#q9b10"/><use href="#q10b10"/><use href="#q11b10"/><use href="#q12b10"/><use href="#q13b10"/></g><g stroke="#c6c6c6"><use href="#q0b01"/><use href="#q1b01"/><use href="#q2b01"/><use href="#q3b01"/><use href="#q4b01"/><use href="#q5b01"/><use href="#q6b01"/><use href="#q7b01"/><use href="#q8b01"/><use href="#q9b01"/><use href="#q10b01"/><use href="#q11b01"/><use href="#q12b01"/><use href="#q13b01"/></g><g stroke="#e8231f"><use href="#q1b11"/><use href="#q2b11"/><use href="#q4b11"/><use href="#q5b11"/><use href="#q6b11"/><use href="#q7b11"/><use href="#q8b11"/><use href="#q9b11"/><use href="#q10b11"/><use href="#q11b11"/><use href="#q12b11"/><use href="#q13b11"/></g><g stroke="#c6c6c6"><use href="#q0c00"/><use href="#q1c00"/><use href="#q2c00"/><use href="#q3c00"/><use href="#q4c00"/><use href="#q5c00"/><use href="#q6c00"/><use href="#q7c00"/><use href="#q8c00"/><use href="#q9c00"/><use href="#q10c00"/><use href="#q11c00"/><use href="#q12c00"/><use href="#q13c00"/></g><g stroke="#e8231f"><use href="#q2c10"/><use href="#q4c10"/><use href="#q5c10"/><use href="#q6c10"/><use href="#q7c10"/><use href="#q8c10"/><use href="#q9c10"/><use href="#q10c10"/><use href="#q11c10"/><use href="#q12c10"/><use href="#q13c10"/></g><g stroke="#c6c6c6"><use href="#q0c01"/><use href="#q1c01"/><use href="#q2c01"/><use href="#q3c01"/><use href="#q4c01"/><use href="#q5c01"/><use href="#q6c01"/><use href="#q7c01"/><use href="#q8c01"/><use href="#q9c01"/><use href="#q10c01"/><use href="#q11c01"/><use href="#q12c01"/><use href="#q13c01"/></g><g stroke="#e8231f"><use href="#q2c11"/><use href="#q4c11"/><use href="#q5c11"/><use href="#q6c11"/><use href="#q7c11"/><use href="#q8c11"/><use href="#q9c11"/><use href="#q10c11"/><use href="#q11c11"/><use href="#q12c11"/><use href="#q13c11"/></g><g stroke="#c6c6c6"><use href="#q0d00"/><use href="#q1d00"/><use href="#q2d00"/><use href="#q3d00"/><use href="#q4d00"/><use href="#q5d00"/><use href="#q6d00"/><use href="#q7d00"/><use href="#q8d00"/><use href="#q9d00"/><use href="#q10d00"/><use href="#q11d00"/><use href="#q12d00"/><use href="#q13d00"/></g><g stroke="#e8231f"><use href="#q2d10"/><use href="#q3d10"/><use href="#q4d10"/><use href="#q5d10"/><use href="#q6d10"/><use href="#q7d10"/><use href="#q8d10"/><use href="#q9d10"/><use href="#q10d10"/><use href="#q11d10"/><use href="#q12d10"/><use href="#q13d10"/></g><g stroke="#c6c6c6"><use href="#q0d01"/><use href="#q1d01"/><use href="#q2d01"/><use href="#q3d01"/><use href="#q4d01"/><use href="#q5d01"/><use href="#q6d01"/><use href="#q7d01"/><use href="#q8d01"/><use href="#q9d01"/><use href="#q10d01"/><use href="#q11d01"/><use href="#q12d01"/><use href="#q13d01"/></g><g stroke="#e8231f"><use href="#q1d11"/><use href="#q4d11"/><use href="#q5d11"/><use href="#q6d11"/><use href="#q7d11"/><use href="#q8d11"/><use href="#q9d11"/><use href="#q10d11"/><use href="#q11d11"/><use href="#q12d11"/><use href="#q13d11"/></g></g><circle cx="426.6" cy="145.8" r="2.3" fill="#e8231f"/><circle cx="426.6" cy="154.2" r="2.3" fill="#c6c6c6"/><text x="434.5" y="148.4" font-size="7.0" fill="#222">LTHSC</text><text x="434.5" y="156.8" font-size="7.0" fill="#222">Other</text><rect x="85.3" y="247.7" width="106.8" height="8.9" fill="#fff" stroke="#777" stroke-width="0.6"/><text x="137.0" y="254.6" font-size="6.4" text-anchor="middle" fill="#111" textLength="100.5" lengthAdjust="spacingAndGlyphs">Sca1+, Kit+, Flt3−, Cd150+, Cd48−</text><text x="137.0" y="270.8" font-size="9.3" text-anchor="middle" font-weight="bold" fill="#111">Young</text><line x1="34.4" y1="269.2" x2="34.4" y2="364.4" stroke="#111" stroke-width="0.9"/><line x1="32.6" y1="281.4" x2="34.4" y2="281.4" stroke="#111" stroke-width="0.7200000000000001"/><text x="31.6" y="283.7" font-size="6.3" text-anchor="end" fill="#333">5</text><line x1="32.6" y1="307.4" x2="34.4" y2="307.4" stroke="#111" stroke-width="0.7200000000000001"/><text x="31.6" y="309.6" font-size="6.3" text-anchor="end" fill="#333">0</text><line x1="32.6" y1="333.3" x2="34.4" y2="333.3" stroke="#111" stroke-width="0.7200000000000001"/><text x="31.6" y="335.6" font-size="6.3" text-anchor="end" fill="#333">-5</text><line x1="32.6" y1="359.3" x2="34.4" y2="359.3" stroke="#111" stroke-width="0.7200000000000001"/><text x="31.6" y="361.5" font-size="6.3" text-anchor="end" fill="#333">-10</text><g transform="translate(63.6 307.4) scale(0.2735 0.2595)" stroke-width="1.15"><g stroke="#c6c6c6"><use href="#q0a00"/><use href="#q1a00"/><use href="#q2a00"/><use href="#q3a00"/><use href="#q4a00"/><use href="#q5a00"/><use href="#q6a00"/><use href="#q7a00"/><use href="#q8a00"/><use href="#q9a00"/><use href="#q10a00"/><use href="#q11a00"/><use href="#q12a00"/><use href="#q13a00"/></g><g stroke="#e8231f"><use href="#q1a10"/><use href="#q5a10"/><use href="#q6a10"/><use href="#q7a10"/><use href="#q8a10"/><use href="#q9a10"/><use href="#q10a10"/><use href="#q11a10"/><use href="#q12a10"/><use href="#q13a10"/></g><g stroke="#c6c6c6"><use href="#q0a01"/><use href="#q1a01"/><use href="#q2a01"/><use href="#q3a01"/><use href="#q4a01"/><use href="#q5a01"/><use href="#q6a01"/><use href="#q7a01"/><use href="#q8a01"/><use href="#q9a01"/><use href="#q10a01"/><use href="#q11a01"/><use href="#q12a01"/><use href="#q13a01"/></g><g stroke="#e8231f"><use href="#q1a11"/><use href="#q4a11"/><use href="#q5a11"/><use href="#q6a11"/><use href="#q7a11"/><use href="#q8a11"/><use href="#q9a11"/><use href="#q10a11"/><use href="#q11a11"/><use href="#q12a11"/><use href="#q13a11"/></g></g><rect x="153.20" y="297.00" width="31.84" height="16.60" fill="#cd5656"/><rect x="185.04" y="297.00" width="48.96" height="16.60" fill="#3e7cc3"/><text x="169.1" y="307.6" font-size="6.4" text-anchor="middle" fill="#fff">39.4</text><text x="209.5" y="307.6" font-size="6.4" text-anchor="middle" fill="#fff">60.6</text><line x1="152.0" y1="316.3" x2="236.2" y2="316.3" stroke="#bdbdbd" stroke-width="1.3"/><line x1="153.2" y1="316.3" x2="153.2" y2="317.8" stroke="#9a9a9a" stroke-width="0.6"/><text x="152.8" y="318.7" font-size="4.6" text-anchor="end" fill="#555" transform="rotate(-45 152.8 318.7)" dy="3.2">0</text><line x1="173.4" y1="316.3" x2="173.4" y2="317.8" stroke="#9a9a9a" stroke-width="0.6"/><text x="173.0" y="318.7" font-size="4.6" text-anchor="end" fill="#555" transform="rotate(-45 173.0 318.7)" dy="3.2">25</text><line x1="193.6" y1="316.3" x2="193.6" y2="317.8" stroke="#9a9a9a" stroke-width="0.6"/><text x="193.2" y="318.7" font-size="4.6" text-anchor="end" fill="#555" transform="rotate(-45 193.2 318.7)" dy="3.2">50</text><line x1="213.8" y1="316.3" x2="213.8" y2="317.8" stroke="#9a9a9a" stroke-width="0.6"/><text x="213.4" y="318.7" font-size="4.6" text-anchor="end" fill="#555" transform="rotate(-45 213.4 318.7)" dy="3.2">75</text><line x1="234.0" y1="316.3" x2="234.0" y2="317.8" stroke="#9a9a9a" stroke-width="0.6"/><text x="233.6" y="318.7" font-size="4.6" text-anchor="end" fill="#555" transform="rotate(-45 233.6 318.7)" dy="3.2">100</text><text x="191.6" y="333.9" font-size="6.4" text-anchor="middle" fill="#2a2a2a" textLength="51.3" lengthAdjust="spacingAndGlyphs">Proportion of cells</text><rect x="242.40" y="298.70" width="8.80" height="8.60" fill="#3e7cc3"/><rect x="242.40" y="308.40" width="8.80" height="8.60" fill="#cd5656"/><text x="255.0" y="304.8" font-size="5.0" fill="#333">Neg</text><text x="255.0" y="314.5" font-size="5.0" fill="#333">Pos</text><text x="138.8" y="374.8" font-size="9.3" text-anchor="middle" font-weight="bold" fill="#111">Middle-aged</text><line x1="34.4" y1="376.8" x2="34.4" y2="471.4" stroke="#111" stroke-width="0.9"/><line x1="32.6" y1="388.4" x2="34.4" y2="388.4" stroke="#111" stroke-width="0.7200000000000001"/><text x="31.6" y="390.7" font-size="6.3" text-anchor="end" fill="#333">5</text><line x1="32.6" y1="414.4" x2="34.4" y2="414.4" stroke="#111" stroke-width="0.7200000000000001"/><text x="31.6" y="416.6" font-size="6.3" text-anchor="end" fill="#333">0</text><line x1="32.6" y1="440.3" x2="34.4" y2="440.3" stroke="#111" stroke-width="0.7200000000000001"/><text x="31.6" y="442.6" font-size="6.3" text-anchor="end" fill="#333">-5</text><line x1="32.6" y1="466.3" x2="34.4" y2="466.3" stroke="#111" stroke-width="0.7200000000000001"/><text x="31.6" y="468.5" font-size="6.3" text-anchor="end" fill="#333">-10</text><g transform="translate(63.6 414.4) scale(0.2735 0.2595)" stroke-width="1.15"><g stroke="#c6c6c6"><use href="#q0b00"/><use href="#q1b00"/><use href="#q2b00"/><use href="#q3b00"/><use href="#q4b00"/><use href="#q5b00"/><use href="#q6b00"/><use href="#q7b00"/><use href="#q8b00"/><use href="#q9b00"/><use href="#q10b00"/><use href="#q11b00"/><use href="#q12b00"/><use href="#q13b00"/></g><g stroke="#e8231f"><use href="#q2b10"/><use href="#q5b10"/><use href="#q6b10"/><use href="#q7b10"/><use href="#q8b10"/><use href="#q9b10"/><use href="#q10b10"/><use href="#q11b10"/><use href="#q12b10"/><use href="#q13b10"/></g><g stroke="#c6c6c6"><use href="#q0b01"/><use href="#q1b01"/><use href="#q2b01"/><use href="#q3b01"/><use href="#q4b01"/><use href="#q5b01"/><use href="#q6b01"/><use href="#q7b01"/><use href="#q8b01"/><use href="#q9b01"/><use href="#q10b01"/><use href="#q11b01"/><use href="#q12b01"/><use href="#q13b01"/></g><g stroke="#e8231f"><use href="#q1b11"/><use href="#q2b11"/><use href="#q4b11"/><use href="#q5b11"/><use href="#q6b11"/><use href="#q7b11"/><use href="#q8b11"/><use href="#q9b11"/><use href="#q10b11"/><use href="#q11b11"/><use href="#q12b11"/><use href="#q13b11"/></g></g><rect x="153.20" y="405.00" width="43.71" height="17.00" fill="#cd5656"/><rect x="196.91" y="405.00" width="37.09" height="17.00" fill="#3e7cc3"/><text x="175.1" y="415.8" font-size="6.4" text-anchor="middle" fill="#fff">54.1</text><text x="215.5" y="415.8" font-size="6.4" text-anchor="middle" fill="#fff">45.9</text><line x1="152.0" y1="424.7" x2="236.2" y2="424.7" stroke="#bdbdbd" stroke-width="1.3"/><line x1="153.2" y1="424.7" x2="153.2" y2="426.2" stroke="#9a9a9a" stroke-width="0.6"/><text x="152.8" y="427.1" font-size="4.6" text-anchor="end" fill="#555" transform="rotate(-45 152.8 427.1)" dy="3.2">0</text><line x1="173.4" y1="424.7" x2="173.4" y2="426.2" stroke="#9a9a9a" stroke-width="0.6"/><text x="173.0" y="427.1" font-size="4.6" text-anchor="end" fill="#555" transform="rotate(-45 173.0 427.1)" dy="3.2">25</text><line x1="193.6" y1="424.7" x2="193.6" y2="426.2" stroke="#9a9a9a" stroke-width="0.6"/><text x="193.2" y="427.1" font-size="4.6" text-anchor="end" fill="#555" transform="rotate(-45 193.2 427.1)" dy="3.2">50</text><line x1="213.8" y1="424.7" x2="213.8" y2="426.2" stroke="#9a9a9a" stroke-width="0.6"/><text x="213.4" y="427.1" font-size="4.6" text-anchor="end" fill="#555" transform="rotate(-45 213.4 427.1)" dy="3.2">75</text><line x1="234.0" y1="424.7" x2="234.0" y2="426.2" stroke="#9a9a9a" stroke-width="0.6"/><text x="233.6" y="427.1" font-size="4.6" text-anchor="end" fill="#555" transform="rotate(-45 233.6 427.1)" dy="3.2">100</text><text x="191.6" y="442.8" font-size="6.4" text-anchor="middle" fill="#2a2a2a" textLength="51.3" lengthAdjust="spacingAndGlyphs">Proportion of cells</text><rect x="242.40" y="406.70" width="8.80" height="8.60" fill="#3e7cc3"/><rect x="242.40" y="416.40" width="8.80" height="8.60" fill="#cd5656"/><text x="255.0" y="412.8" font-size="5.0" fill="#333">Neg</text><text x="255.0" y="422.5" font-size="5.0" fill="#333">Pos</text><text x="134.5" y="484.3" font-size="9.3" text-anchor="middle" font-weight="bold" fill="#111">Old</text><line x1="34.4" y1="484.0" x2="34.4" y2="579.2" stroke="#111" stroke-width="0.9"/><line x1="33.9" y1="578.8" x2="143.9" y2="578.8" stroke="#111" stroke-width="0.9"/><line x1="32.6" y1="496.3" x2="34.4" y2="496.3" stroke="#111" stroke-width="0.7200000000000001"/><text x="31.6" y="498.6" font-size="6.3" text-anchor="end" fill="#333">5</text><line x1="32.6" y1="522.3" x2="34.4" y2="522.3" stroke="#111" stroke-width="0.7200000000000001"/><text x="31.6" y="524.5" font-size="6.3" text-anchor="end" fill="#333">0</text><line x1="32.6" y1="548.2" x2="34.4" y2="548.2" stroke="#111" stroke-width="0.7200000000000001"/><text x="31.6" y="550.5" font-size="6.3" text-anchor="end" fill="#333">-5</text><line x1="32.6" y1="574.2" x2="34.4" y2="574.2" stroke="#111" stroke-width="0.7200000000000001"/><text x="31.6" y="576.4" font-size="6.3" text-anchor="end" fill="#333">-10</text><line x1="36.2" y1="578.8" x2="36.2" y2="580.6" stroke="#111" stroke-width="0.7200000000000001"/><text x="36.2" y="586.6" font-size="6.3" text-anchor="middle" fill="#333">-5</text><line x1="63.6" y1="578.8" x2="63.6" y2="580.6" stroke="#111" stroke-width="0.7200000000000001"/><text x="63.6" y="586.6" font-size="6.3" text-anchor="middle" fill="#333">0</text><line x1="91.0" y1="578.8" x2="91.0" y2="580.6" stroke="#111" stroke-width="0.7200000000000001"/><text x="91.0" y="586.6" font-size="6.3" text-anchor="middle" fill="#333">5</text><line x1="118.3" y1="578.8" x2="118.3" y2="580.6" stroke="#111" stroke-width="0.7200000000000001"/><text x="118.3" y="586.6" font-size="6.3" text-anchor="middle" fill="#333">10</text><text x="89.2" y="595.0" font-size="6.9" text-anchor="middle" fill="#222">UMAP_1</text><g transform="translate(63.6 522.3) scale(0.2735 0.2595)" stroke-width="1.15"><g stroke="#c6c6c6"><use href="#q0c00"/><use href="#q1c00"/><use href="#q2c00"/><use href="#q3c00"/><use href="#q4c00"/><use href="#q5c00"/><use href="#q6c00"/><use href="#q7c00"/><use href="#q8c00"/><use href="#q9c00"/><use href="#q10c00"/><use href="#q11c00"/><use href="#q12c00"/><use href="#q13c00"/></g><g stroke="#e8231f"><use href="#q2c10"/><use href="#q4c10"/><use href="#q5c10"/><use href="#q6c10"/><use href="#q7c10"/><use href="#q8c10"/><use href="#q9c10"/><use href="#q10c10"/><use href="#q11c10"/><use href="#q12c10"/><use href="#q13c10"/></g><g stroke="#c6c6c6"><use href="#q0c01"/><use href="#q1c01"/><use href="#q2c01"/><use href="#q3c01"/><use href="#q4c01"/><use href="#q5c01"/><use href="#q6c01"/><use href="#q7c01"/><use href="#q8c01"/><use href="#q9c01"/><use href="#q10c01"/><use href="#q11c01"/><use href="#q12c01"/><use href="#q13c01"/></g><g stroke="#e8231f"><use href="#q2c11"/><use href="#q4c11"/><use href="#q5c11"/><use href="#q6c11"/><use href="#q7c11"/><use href="#q8c11"/><use href="#q9c11"/><use href="#q10c11"/><use href="#q11c11"/><use href="#q12c11"/><use href="#q13c11"/></g></g><rect x="153.20" y="520.30" width="46.38" height="16.70" fill="#cd5656"/><rect x="199.58" y="520.30" width="34.42" height="16.70" fill="#3e7cc3"/><text x="176.4" y="531.0" font-size="6.4" text-anchor="middle" fill="#fff">57.4</text><text x="216.8" y="531.0" font-size="6.4" text-anchor="middle" fill="#fff">42.6</text><line x1="152.0" y1="539.7" x2="236.2" y2="539.7" stroke="#bdbdbd" stroke-width="1.3"/><line x1="153.2" y1="539.7" x2="153.2" y2="541.2" stroke="#9a9a9a" stroke-width="0.6"/><text x="152.8" y="542.1" font-size="4.6" text-anchor="end" fill="#555" transform="rotate(-45 152.8 542.1)" dy="3.2">0</text><line x1="173.4" y1="539.7" x2="173.4" y2="541.2" stroke="#9a9a9a" stroke-width="0.6"/><text x="173.0" y="542.1" font-size="4.6" text-anchor="end" fill="#555" transform="rotate(-45 173.0 542.1)" dy="3.2">25</text><line x1="193.6" y1="539.7" x2="193.6" y2="541.2" stroke="#9a9a9a" stroke-width="0.6"/><text x="193.2" y="542.1" font-size="4.6" text-anchor="end" fill="#555" transform="rotate(-45 193.2 542.1)" dy="3.2">50</text><line x1="213.8" y1="539.7" x2="213.8" y2="541.2" stroke="#9a9a9a" stroke-width="0.6"/><text x="213.4" y="542.1" font-size="4.6" text-anchor="end" fill="#555" transform="rotate(-45 213.4 542.1)" dy="3.2">75</text><line x1="234.0" y1="539.7" x2="234.0" y2="541.2" stroke="#9a9a9a" stroke-width="0.6"/><text x="233.6" y="542.1" font-size="4.6" text-anchor="end" fill="#555" transform="rotate(-45 233.6 542.1)" dy="3.2">100</text><text x="191.6" y="555.9" font-size="6.4" text-anchor="middle" fill="#2a2a2a" textLength="51.3" lengthAdjust="spacingAndGlyphs">Proportion of cells</text><rect x="242.40" y="522.00" width="8.80" height="8.60" fill="#3e7cc3"/><rect x="242.40" y="531.70" width="8.80" height="8.60" fill="#cd5656"/><text x="255.0" y="528.1" font-size="5.0" fill="#333">Neg</text><text x="255.0" y="537.8" font-size="5.0" fill="#333">Pos</text><text x="16.6" y="427.5" font-size="7.0" text-anchor="middle" fill="#222" transform="rotate(-90 16.6 427.5)" dy="2.5">UMAP_2</text><defs><linearGradient id="eg" x1="0" y1="1" x2="0" y2="0"><stop offset="0.0" stop-color="#d6d5dc"/><stop offset="0.3" stop-color="#b6a8d8"/><stop offset="0.55" stop-color="#866cbe"/><stop offset="0.8" stop-color="#5a4caa"/><stop offset="1.0" stop-color="#3d48a4"/></linearGradient></defs><text x="352.7" y="263.8" font-size="7.7" text-anchor="middle" font-weight="bold" fill="#111">c-kit</text><line x1="311.1" y1="269.4" x2="311.1" y2="350.5" stroke="#b4b4b4" stroke-width="1.2"/><line x1="310.5" y1="349.9" x2="391.0" y2="349.9" stroke="#b4b4b4" stroke-width="1.2"/><line x1="309.5" y1="281.0" x2="310.5" y2="281.0" stroke="#333" stroke-width="0.5"/><text x="308.8" y="282.6" font-size="4.5" text-anchor="end" fill="#333">5</text><line x1="309.5" y1="301.4" x2="310.5" y2="301.4" stroke="#333" stroke-width="0.5"/><text x="308.8" y="303.0" font-size="4.5" text-anchor="end" fill="#333">0</text><line x1="309.5" y1="321.8" x2="310.5" y2="321.8" stroke="#333" stroke-width="0.5"/><text x="308.8" y="323.4" font-size="4.5" text-anchor="end" fill="#333">-5</text><line x1="309.5" y1="342.2" x2="310.5" y2="342.2" stroke="#333" stroke-width="0.5"/><text x="308.8" y="343.8" font-size="4.5" text-anchor="end" fill="#333">-10</text><line x1="314.6" y1="350.5" x2="314.6" y2="351.5" stroke="#333" stroke-width="0.5"/><text x="314.6" y="355.7" font-size="4.5" text-anchor="middle" fill="#333">-5</text><line x1="333.7" y1="350.5" x2="333.7" y2="351.5" stroke="#333" stroke-width="0.5"/><text x="333.7" y="355.7" font-size="4.5" text-anchor="middle" fill="#333">0</text><line x1="352.8" y1="350.5" x2="352.8" y2="351.5" stroke="#333" stroke-width="0.5"/><text x="352.8" y="355.7" font-size="4.5" text-anchor="middle" fill="#333">5</text><line x1="372.0" y1="350.5" x2="372.0" y2="351.5" stroke="#333" stroke-width="0.5"/><text x="372.0" y="355.7" font-size="4.5" text-anchor="middle" fill="#333">10</text><text x="351.5" y="360.8" font-size="5.0" text-anchor="middle" fill="#222">UMAP_1</text><text x="300.1" y="309.4" font-size="5.0" text-anchor="middle" fill="#222" transform="rotate(-90 300.1 309.4)">UMAP_2</text><g transform="translate(333.7 301.4) scale(0.1915 0.2040)" stroke-width="0.9"><g stroke="#584caa"><use href="#q10d11"/></g><g stroke="#5d4eab"><use href="#q6b00"/></g><g stroke="#7560b6"><use href="#q2b11"/></g><g stroke="#5b4caa"><use href="#q13d00"/></g><g stroke="#4249a5"><use href="#q11b11"/></g><g stroke="#6755b0"><use href="#q9a11"/></g><g stroke="#524ba8"><use href="#q13a10"/></g><g stroke="#534ba8"><use href="#q6c11"/></g><g stroke="#8169bc"><use href="#q5c01"/></g><g stroke="#ccc7db"><use href="#q3b01"/></g><g stroke="#b8abd8"><use href="#q7d00"/></g><g stroke="#8068bb"><use href="#q13a11"/></g><g stroke="#554ba9"><use href="#q5a10"/></g><g stroke="#6e5bb3"><use href="#q13b10"/></g><g stroke="#6554af"><use href="#q4b01"/></g><g stroke="#4c4aa7"><use href="#q2d10"/></g><g stroke="#725eb5"><use href="#q7b01"/></g><g stroke="#6d5ab3"><use href="#q12d00"/></g><g stroke="#4149a5"><use href="#q3b00"/></g><g stroke="#bbb0d9"><use href="#q5c00"/></g><g stroke="#6b58b2"><use href="#q7b00"/></g><g stroke="#715db5"><use href="#q10c10"/></g><g stroke="#504ba8"><use href="#q9a10"/></g><g stroke="#584caa"><use href="#q6b10"/></g><g stroke="#d2d0dc"><use href="#q12c00"/></g><g stroke="#6050ad"><use href="#q5c11"/></g><g stroke="#836abd"><use href="#q3a00"/></g><g stroke="#8269bc"><use href="#q4a11"/></g><g stroke="#4b4aa7"><use href="#q6d10"/></g><g stroke="#6f5bb3"><use href="#q13c00"/></g><g stroke="#594caa"><use href="#q12d10"/></g><g stroke="#3e48a4"><use href="#q8a00"/></g><g stroke="#4449a5"><use href="#q11a01"/></g><g stroke="#4d4aa7"><use href="#q8b11"/></g><g stroke="#d3d1dc"><use href="#q7a11"/></g><g stroke="#d6d5dc"><use href="#q1a01"/></g><g stroke="#725eb5"><use href="#q3d00"/></g><g stroke="#4649a6"><use href="#q11a10"/></g><g stroke="#bfb4d9"><use href="#q1c00"/></g><g stroke="#6856b0"><use href="#q4b11"/></g><g stroke="#4649a6"><use href="#q7c01"/></g><g stroke="#846abd"><use href="#q0c00"/></g><g stroke="#4449a5"><use href="#q3d10"/></g><g stroke="#c3bada"><use href="#q1b11"/></g><g stroke="#745fb6"><use href="#q2b00"/></g><g stroke="#7761b7"><use href="#q6d11"/></g><g stroke="#8068bb"><use href="#q6c10"/></g><g stroke="#524ba8"><use href="#q13c10"/></g><g stroke="#715db4"><use href="#q11d01"/></g><g stroke="#5e4fac"><use href="#q0c01"/></g><g stroke="#554ba9"><use href="#q6c00"/></g><g stroke="#8169bc"><use href="#q7d11"/></g><g stroke="#4c4aa7"><use href="#q10c01"/></g><g stroke="#4149a5"><use href="#q10a00"/></g><g stroke="#6252ae"><use href="#q7b10"/></g><g stroke="#705cb4"><use href="#q7b11"/></g><g stroke="#c1b8d9"><use href="#q6a11"/></g><g stroke="#504ba8"><use href="#q12d11"/></g><g stroke="#7d65ba"><use href="#q8d01"/></g><g stroke="#7e66bb"><use href="#q1b01"/></g><g stroke="#8269bc"><use href="#q2a00"/></g><g stroke="#6957b1"><use href="#q2b10"/></g><g stroke="#4249a5"><use href="#q7c00"/></g><g stroke="#d0cddb"><use href="#q12c01"/></g><g stroke="#4249a5"><use href="#q13a00"/></g><g stroke="#bbafd9"><use href="#q7c11"/></g><g stroke="#564ba9"><use href="#q8d11"/></g><g stroke="#6f5bb4"><use href="#q13d01"/></g><g stroke="#584caa"><use href="#q9a00"/></g><g stroke="#4549a6"><use href="#q5d11"/></g><g stroke="#6453ae"><use href="#q12c11"/></g><g stroke="#5d4fac"><use href="#q12d01"/></g><g stroke="#7d65ba"><use href="#q10a01"/></g><g stroke="#3f48a4"><use href="#q1c01"/></g><g stroke="#745fb6"><use href="#q12a10"/></g><g stroke="#6654af"><use href="#q13b11"/></g><g stroke="#5b4dab"><use href="#q4c11"/></g><g stroke="#6554af"><use href="#q13c01"/></g><g stroke="#705cb4"><use href="#q10c00"/></g><g stroke="#d3d1dc"><use href="#q0b01"/></g><g stroke="#7c64b9"><use href="#q6d00"/></g><g stroke="#715db5"><use href="#q4d11"/></g><g stroke="#4d4aa7"><use href="#q9b01"/></g><g stroke="#4f4ba8"><use href="#q13a01"/></g><g stroke="#4249a5"><use href="#q11c11"/></g><g stroke="#4f4aa8"><use href="#q2c10"/></g><g stroke="#745fb6"><use href="#q6b01"/></g><g stroke="#b6a8d8"><use href="#q8a11"/></g><g stroke="#4d4aa7"><use href="#q5d00"/></g><g stroke="#4649a6"><use href="#q11d00"/></g><g stroke="#7962b8"><use href="#q7d01"/></g><g stroke="#c7c0da"><use href="#q3c01"/></g><g stroke="#4549a6"><use href="#q11b01"/></g><g stroke="#846bbd"><use href="#q0a00"/></g><g stroke="#4749a6"><use href="#q13b01"/></g><g stroke="#c5bdda"><use href="#q4c00"/></g><g stroke="#b6a8d8"><use href="#q9b11"/></g><g stroke="#524ba8"><use href="#q0b00"/></g><g stroke="#6151ad"><use href="#q7a01"/></g><g stroke="#6d5ab3"><use href="#q6a10"/></g><g stroke="#7d66ba"><use href="#q11d10"/></g><g stroke="#5b4daa"><use href="#q10d10"/></g><g stroke="#4b4aa7"><use href="#q8a01"/></g><g stroke="#4149a5"><use href="#q2c00"/></g><g stroke="#5b4daa"><use href="#q0d01"/></g><g stroke="#c3bbda"><use href="#q8b10"/></g><g stroke="#7a63b8"><use href="#q5a11"/></g><g stroke="#5a4caa"><use href="#q10a10"/></g><g stroke="#cdc8db"><use href="#q12b01"/></g><g stroke="#544ba9"><use href="#q4d00"/></g><g stroke="#6453ae"><use href="#q4d01"/></g><g stroke="#584caa"><use href="#q1a00"/></g><g stroke="#3f48a4"><use href="#q11c00"/></g><g stroke="#524ba8"><use href="#q7a10"/></g><g stroke="#856bbe"><use href="#q10d00"/></g><g stroke="#6453ae"><use href="#q7a00"/></g><g stroke="#4649a6"><use href="#q11d11"/></g><g stroke="#6856b0"><use href="#q2c11"/></g><g stroke="#7560b6"><use href="#q9c00"/></g><g stroke="#5a4caa"><use href="#q1d00"/></g><g stroke="#514ba8"><use href="#q1a10"/></g><g stroke="#7c65b9"><use href="#q5d01"/></g><g stroke="#715db4"><use href="#q10b01"/></g><g stroke="#574ca9"><use href="#q10a11"/></g><g stroke="#755fb6"><use href="#q4a00"/></g><g stroke="#4549a6"><use href="#q10d01"/></g><g stroke="#c2b8d9"><use href="#q2d00"/></g><g stroke="#4f4aa8"><use href="#q6a01"/></g><g stroke="#c4bbda"><use href="#q1d11"/></g><g stroke="#584caa"><use href="#q8c00"/></g><g stroke="#856cbe"><use href="#q9d10"/></g><g stroke="#5c4dab"><use href="#q5b01"/></g><g stroke="#6e5bb3"><use href="#q9b00"/></g><g stroke="#3e48a4"><use href="#q9d01"/></g><g stroke="#5a4caa"><use href="#q5d10"/></g><g stroke="#7c65b9"><use href="#q11a00"/></g><g stroke="#4048a5"><use href="#q5c10"/></g><g stroke="#7761b7"><use href="#q8c11"/></g><g stroke="#6655b0"><use href="#q12b10"/></g><g stroke="#715db5"><use href="#q3d01"/></g><g stroke="#4048a5"><use href="#q8c10"/></g><g stroke="#7660b7"><use href="#q10b00"/></g><g stroke="#6f5bb3"><use href="#q8b01"/></g><g stroke="#4149a5"><use href="#q9c01"/></g><g stroke="#6151ad"><use href="#q13d11"/></g><g stroke="#4349a5"><use href="#q6c01"/></g><g stroke="#7f67bb"><use href="#q10b11"/></g><g stroke="#6e5bb3"><use href="#q9d11"/></g><g stroke="#7560b6"><use href="#q11a11"/></g><g stroke="#715db4"><use href="#q3a01"/></g><g stroke="#7761b7"><use href="#q12a11"/></g><g stroke="#524ba8"><use href="#q2d01"/></g><g stroke="#4249a5"><use href="#q5b11"/></g><g stroke="#4349a5"><use href="#q10b10"/></g><g stroke="#cbc6db"><use href="#q1b00"/></g><g stroke="#725eb5"><use href="#q8d10"/></g><g stroke="#504ba8"><use href="#q9d00"/></g><g stroke="#554ba9"><use href="#q4b00"/></g><g stroke="#7862b8"><use href="#q5a00"/></g><g stroke="#4f4ba8"><use href="#q8b00"/></g><g stroke="#574ca9"><use href="#q2c01"/></g><g stroke="#745fb6"><use href="#q0a01"/></g><g stroke="#715db4"><use href="#q12c10"/></g><g stroke="#c5bdda"><use href="#q12b11"/></g><g stroke="#7560b6"><use href="#q7d10"/></g><g stroke="#6252ae"><use href="#q9b10"/></g><g stroke="#8269bc"><use href="#q7c10"/></g><g stroke="#baaed9"><use href="#q4c01"/></g><g stroke="#5a4caa"><use href="#q10c11"/></g><g stroke="#4549a6"><use href="#q11c01"/></g><g stroke="#6454af"><use href="#q8a10"/></g><g stroke="#524ba8"><use href="#q8d00"/></g><g stroke="#c2b9da"><use href="#q1d01"/></g><g stroke="#7e66ba"><use href="#q11b00"/></g><g stroke="#564ba9"><use href="#q13c11"/></g><g stroke="#6c59b2"><use href="#q5b10"/></g><g stroke="#7a63b8"><use href="#q1a11"/></g><g stroke="#7661b7"><use href="#q0d00"/></g><g stroke="#6755b0"><use href="#q3c00"/></g><g stroke="#4f4ba8"><use href="#q4c10"/></g><g stroke="#baaed9"><use href="#q5a01"/></g><g stroke="#755fb6"><use href="#q6b11"/></g><g stroke="#584caa"><use href="#q13d10"/></g><g stroke="#5b4dab"><use href="#q5b00"/></g><g stroke="#705cb4"><use href="#q2b01"/></g><g stroke="#c4bbda"><use href="#q6d01"/></g><g stroke="#564ba9"><use href="#q11b10"/></g><g stroke="#4e4aa8"><use href="#q11c10"/></g><g stroke="#6e5ab3"><use href="#q12a01"/></g><g stroke="#7a63b8"><use href="#q9c11"/></g><g stroke="#7560b6"><use href="#q6a00"/></g><g stroke="#6f5bb4"><use href="#q2a01"/></g><g stroke="#494aa6"><use href="#q12a00"/></g><g stroke="#c6beda"><use href="#q4a01"/></g><g stroke="#6c59b2"><use href="#q13b00"/></g><g stroke="#4149a5"><use href="#q9a01"/></g><g stroke="#4549a6"><use href="#q9c10"/></g><g stroke="#4048a5"><use href="#q4d10"/></g><g stroke="#4649a6"><use href="#q12b00"/></g><g stroke="#4749a6"><use href="#q8c01"/></g></g><rect x="395.70" y="297.00" width="4.80" height="25.40" fill="url(#eg)"/><line x1="395.7" y1="297.3" x2="396.6" y2="297.3" stroke="#fff" stroke-width="0.4"/><line x1="399.6" y1="297.3" x2="400.5" y2="297.3" stroke="#fff" stroke-width="0.4"/><text x="402.3" y="298.8" font-size="4.3" fill="#333">2.0</text><line x1="395.7" y1="303.5" x2="396.6" y2="303.5" stroke="#fff" stroke-width="0.4"/><line x1="399.6" y1="303.5" x2="400.5" y2="303.5" stroke="#fff" stroke-width="0.4"/><text x="402.3" y="305.0" font-size="4.3" fill="#333">1.5</text><line x1="395.7" y1="309.7" x2="396.6" y2="309.7" stroke="#fff" stroke-width="0.4"/><line x1="399.6" y1="309.7" x2="400.5" y2="309.7" stroke="#fff" stroke-width="0.4"/><text x="402.3" y="311.2" font-size="4.3" fill="#333">1.0</text><line x1="395.7" y1="315.9" x2="396.6" y2="315.9" stroke="#fff" stroke-width="0.4"/><line x1="399.6" y1="315.9" x2="400.5" y2="315.9" stroke="#fff" stroke-width="0.4"/><text x="402.3" y="317.4" font-size="4.3" fill="#333">0.5</text><line x1="395.7" y1="322.1" x2="396.6" y2="322.1" stroke="#fff" stroke-width="0.4"/><line x1="399.6" y1="322.1" x2="400.5" y2="322.1" stroke="#fff" stroke-width="0.4"/><text x="402.3" y="323.6" font-size="4.3" fill="#333">0.0</text><text x="484.8" y="263.8" font-size="7.7" text-anchor="middle" font-weight="bold" fill="#111">Sca-1</text><line x1="444.4" y1="269.4" x2="444.4" y2="350.5" stroke="#b4b4b4" stroke-width="1.2"/><line x1="443.8" y1="349.9" x2="524.3" y2="349.9" stroke="#b4b4b4" stroke-width="1.2"/><line x1="442.8" y1="281.0" x2="443.8" y2="281.0" stroke="#333" stroke-width="0.5"/><text x="442.1" y="282.6" font-size="4.5" text-anchor="end" fill="#333">5</text><line x1="442.8" y1="301.4" x2="443.8" y2="301.4" stroke="#333" stroke-width="0.5"/><text x="442.1" y="303.0" font-size="4.5" text-anchor="end" fill="#333">0</text><line x1="442.8" y1="321.8" x2="443.8" y2="321.8" stroke="#333" stroke-width="0.5"/><text x="442.1" y="323.4" font-size="4.5" text-anchor="end" fill="#333">-5</text><line x1="442.8" y1="342.2" x2="443.8" y2="342.2" stroke="#333" stroke-width="0.5"/><text x="442.1" y="343.8" font-size="4.5" text-anchor="end" fill="#333">-10</text><line x1="447.9" y1="350.5" x2="447.9" y2="351.5" stroke="#333" stroke-width="0.5"/><text x="447.9" y="355.7" font-size="4.5" text-anchor="middle" fill="#333">-5</text><line x1="467.0" y1="350.5" x2="467.0" y2="351.5" stroke="#333" stroke-width="0.5"/><text x="467.0" y="355.7" font-size="4.5" text-anchor="middle" fill="#333">0</text><line x1="486.1" y1="350.5" x2="486.1" y2="351.5" stroke="#333" stroke-width="0.5"/><text x="486.1" y="355.7" font-size="4.5" text-anchor="middle" fill="#333">5</text><line x1="505.3" y1="350.5" x2="505.3" y2="351.5" stroke="#333" stroke-width="0.5"/><text x="505.3" y="355.7" font-size="4.5" text-anchor="middle" fill="#333">10</text><text x="484.8" y="360.8" font-size="5.0" text-anchor="middle" fill="#222">UMAP_1</text><text x="433.4" y="309.4" font-size="5.0" text-anchor="middle" fill="#222" transform="rotate(-90 433.4 309.4)">UMAP_2</text><g transform="translate(467.0 301.4) scale(0.1915 0.2040)" stroke-width="0.9"><g stroke="#4f4ba8"><use href="#q10c00"/></g><g stroke="#584caa"><use href="#q6d11"/></g><g stroke="#d1cfdb"><use href="#q3b01"/></g><g stroke="#7962b8"><use href="#q6a00"/></g><g stroke="#ccc7db"><use href="#q12d01"/></g><g stroke="#6b58b2"><use href="#q11d00"/></g><g stroke="#d5d4dc"><use href="#q4c01"/></g><g stroke="#554ba9"><use href="#q12c10"/></g><g stroke="#4549a6"><use href="#q10c01"/></g><g stroke="#856bbe"><use href="#q1d11"/></g><g stroke="#7a64b9"><use href="#q11a10"/></g><g stroke="#d0ccdb"><use href="#q7c00"/></g><g stroke="#4549a6"><use href="#q9d11"/></g><g stroke="#5b4daa"><use href="#q7c10"/></g><g stroke="#5f50ac"><use href="#q7a00"/></g><g stroke="#6a58b1"><use href="#q7a01"/></g><g stroke="#cac5db"><use href="#q13c11"/></g><g stroke="#5a4caa"><use href="#q4c10"/></g><g stroke="#c9c3da"><use href="#q7b01"/></g><g stroke="#d1cddb"><use href="#q10b00"/></g><g stroke="#c9c2da"><use href="#q6c01"/></g><g stroke="#484aa6"><use href="#q13b10"/></g><g stroke="#3d48a4"><use href="#q12a10"/></g><g stroke="#c8c1da"><use href="#q4a01"/></g><g stroke="#4048a5"><use href="#q6c10"/></g><g stroke="#5c4eab"><use href="#q10a00"/></g><g stroke="#d2cfdb"><use href="#q1a10"/></g><g stroke="#d5d4dc"><use href="#q11a00"/></g><g stroke="#584caa"><use href="#q9d10"/></g><g stroke="#594caa"><use href="#q9b11"/></g><g stroke="#534ba9"><use href="#q9c11"/></g><g stroke="#cecadb"><use href="#q4a11"/></g><g stroke="#cecadb"><use href="#q2a01"/></g><g stroke="#5f50ac"><use href="#q9a10"/></g><g stroke="#c7c0da"><use href="#q6d10"/></g><g stroke="#d2cfdb"><use href="#q8c00"/></g><g stroke="#6f5bb3"><use href="#q13a01"/></g><g stroke="#6f5bb4"><use href="#q6a10"/></g><g stroke="#cbc6db"><use href="#q5d00"/></g><g stroke="#5b4dab"><use href="#q9a11"/></g><g stroke="#534ba8"><use href="#q7a10"/></g><g stroke="#cec9db"><use href="#q13b00"/></g><g stroke="#494aa6"><use href="#q4b11"/></g><g stroke="#ccc7db"><use href="#q8a01"/></g><g stroke="#d2cfdb"><use href="#q8d01"/></g><g stroke="#3e48a4"><use href="#q8b00"/></g><g stroke="#544ba9"><use href="#q10b01"/></g><g stroke="#c9c2da"><use href="#q13b01"/></g><g stroke="#7661b7"><use href="#q11d11"/></g><g stroke="#4749a6"><use href="#q10b10"/></g><g stroke="#5a4caa"><use href="#q9b00"/></g><g stroke="#484aa6"><use href="#q8b10"/></g><g stroke="#7761b7"><use href="#q3c00"/></g><g stroke="#3f48a4"><use href="#q3d01"/></g><g stroke="#4549a6"><use href="#q11b01"/></g><g stroke="#d1cddb"><use href="#q1d00"/></g><g stroke="#494aa7"><use href="#q9c10"/></g><g stroke="#ccc7db"><use href="#q0c00"/></g><g stroke="#584ca9"><use href="#q5b11"/></g><g stroke="#4d4aa7"><use href="#q6a01"/></g><g stroke="#d5d3dc"><use href="#q2a00"/></g><g stroke="#7f67bb"><use href="#q6c00"/></g><g stroke="#836abd"><use href="#q6b10"/></g><g stroke="#3e48a4"><use href="#q12a11"/></g><g stroke="#544ba9"><use href="#q12d10"/></g><g stroke="#4e4aa7"><use href="#q9c01"/></g><g stroke="#6c59b2"><use href="#q6b11"/></g><g stroke="#836abd"><use href="#q9d01"/></g><g stroke="#3d48a4"><use href="#q4c11"/></g><g stroke="#7862b8"><use href="#q5b01"/></g><g stroke="#d2cfdb"><use href="#q0d01"/></g><g stroke="#4249a5"><use href="#q10c11"/></g><g stroke="#cac4db"><use href="#q5a10"/></g><g stroke="#7862b8"><use href="#q3c01"/></g><g stroke="#514ba8"><use href="#q5c10"/></g><g stroke="#c6bfda"><use href="#q9d00"/></g><g stroke="#4e4aa7"><use href="#q2c10"/></g><g stroke="#745fb6"><use href="#q5c00"/></g><g stroke="#cac5db"><use href="#q13a00"/></g><g stroke="#6151ad"><use href="#q1b01"/></g><g stroke="#d1cddb"><use href="#q13c00"/></g><g stroke="#cbc5db"><use href="#q5c01"/></g><g stroke="#4149a5"><use href="#q4b01"/></g><g stroke="#ccc7db"><use href="#q5a01"/></g><g stroke="#8168bc"><use href="#q10c10"/></g><g stroke="#594caa"><use href="#q12a01"/></g><g stroke="#cecadb"><use href="#q8d11"/></g><g stroke="#c7bfda"><use href="#q13d00"/></g><g stroke="#c9c3da"><use href="#q4d01"/></g><g stroke="#4249a5"><use href="#q8c11"/></g><g stroke="#5b4dab"><use href="#q13a11"/></g><g stroke="#d3d1dc"><use href="#q3a00"/></g><g stroke="#6353ae"><use href="#q7d11"/></g><g stroke="#c8c2da"><use href="#q0b00"/></g><g stroke="#cbc5db"><use href="#q3d10"/></g><g stroke="#584caa"><use href="#q9a01"/></g><g stroke="#725eb5"><use href="#q2d00"/></g><g stroke="#d3d1dc"><use href="#q4b00"/></g><g stroke="#cecadb"><use href="#q0a01"/></g><g stroke="#7b64b9"><use href="#q11b11"/></g><g stroke="#d4d3dc"><use href="#q0b01"/></g><g stroke="#836abd"><use href="#q6d00"/></g><g stroke="#d0ccdb"><use href="#q1b11"/></g><g stroke="#cbc5db"><use href="#q2b00"/></g><g stroke="#5b4caa"><use href="#q7d10"/></g><g stroke="#4c4aa7"><use href="#q9c00"/></g><g stroke="#cfcbdb"><use href="#q5d01"/></g><g stroke="#534ba9"><use href="#q12d00"/></g><g stroke="#5a4caa"><use href="#q8c10"/></g><g stroke="#cfcbdb"><use href="#q8b01"/></g><g stroke="#524ba8"><use href="#q12b01"/></g><g stroke="#cfcbdb"><use href="#q0a00"/></g><g stroke="#c7c0da"><use href="#q6b00"/></g><g stroke="#4d4aa7"><use href="#q7d00"/></g><g stroke="#cbc5db"><use href="#q1d01"/></g><g stroke="#3f48a5"><use href="#q13c01"/></g><g stroke="#4649a6"><use href="#q4a00"/></g><g stroke="#6050ad"><use href="#q12a00"/></g><g stroke="#4f4ba8"><use href="#q8b11"/></g><g stroke="#6f5bb3"><use href="#q11a01"/></g><g stroke="#d6d5dc"><use href="#q13d10"/></g><g stroke="#514ba8"><use href="#q6a11"/></g><g stroke="#584caa"><use href="#q2c00"/></g><g stroke="#725db5"><use href="#q11c00"/></g><g stroke="#3f48a4"><use href="#q13c10"/></g><g stroke="#6353ae"><use href="#q12d11"/></g><g stroke="#514ba8"><use href="#q10d11"/></g><g stroke="#4c4aa7"><use href="#q4d00"/></g><g stroke="#5c4dab"><use href="#q2d10"/></g><g stroke="#866cbe"><use href="#q5b10"/></g><g stroke="#cecadb"><use href="#q6d01"/></g><g stroke="#4549a6"><use href="#q1b00"/></g><g stroke="#cbc5db"><use href="#q0c01"/></g><g stroke="#5d4eab"><use href="#q4d10"/></g><g stroke="#cecadb"><use href="#q2b01"/></g><g stroke="#524ba8"><use href="#q12c11"/></g><g stroke="#7761b7"><use href="#q2d01"/></g><g stroke="#d5d3dc"><use href="#q4c00"/></g><g stroke="#ccc6db"><use href="#q5d10"/></g><g stroke="#4d4aa7"><use href="#q7d01"/></g><g stroke="#4749a6"><use href="#q1c00"/></g><g stroke="#6c59b2"><use href="#q7a11"/></g><g stroke="#6151ad"><use href="#q10a11"/></g><g stroke="#7862b8"><use href="#q13a10"/></g><g stroke="#594caa"><use href="#q11a11"/></g><g stroke="#6f5bb4"><use href="#q7b00"/></g><g stroke="#d1cfdb"><use href="#q12c00"/></g><g stroke="#cac4db"><use href="#q10d00"/></g><g stroke="#c6bfda"><use href="#q8c01"/></g><g stroke="#6352ae"><use href="#q4d11"/></g><g stroke="#856bbe"><use href="#q11c01"/></g><g stroke="#cdc9db"><use href="#q1a00"/></g><g stroke="#c9c2da"><use href="#q5d11"/></g><g stroke="#5f4fac"><use href="#q12b11"/></g><g stroke="#6252ae"><use href="#q9b01"/></g><g stroke="#514ba8"><use href="#q2b11"/></g><g stroke="#7963b8"><use href="#q8a10"/></g><g stroke="#5c4dab"><use href="#q3d00"/></g><g stroke="#4549a6"><use href="#q10d10"/></g><g stroke="#5a4caa"><use href="#q8a11"/></g><g stroke="#544ba9"><use href="#q10a10"/></g><g stroke="#6252ae"><use href="#q7b10"/></g><g stroke="#c8c1da"><use href="#q8d00"/></g><g stroke="#7761b7"><use href="#q7c11"/></g><g stroke="#6050ad"><use href="#q3a01"/></g><g stroke="#4f4aa8"><use href="#q10a01"/></g><g stroke="#534ba9"><use href="#q5b00"/></g><g stroke="#d5d3dc"><use href="#q2b10"/></g><g stroke="#8269bc"><use href="#q12b10"/></g><g stroke="#7761b7"><use href="#q9b10"/></g><g stroke="#574ca9"><use href="#q12c01"/></g><g stroke="#cfcbdb"><use href="#q1a01"/></g><g stroke="#c9c2da"><use href="#q1a11"/></g><g stroke="#c6bfda"><use href="#q3b00"/></g><g stroke="#504ba8"><use href="#q2c11"/></g><g stroke="#d4d2dc"><use href="#q8a00"/></g><g stroke="#725eb5"><use href="#q11d10"/></g><g stroke="#cecadb"><use href="#q6b01"/></g><g stroke="#cfccdb"><use href="#q8d10"/></g><g stroke="#4349a5"><use href="#q11c10"/></g><g stroke="#7560b6"><use href="#q1c01"/></g><g stroke="#554ba9"><use href="#q11d01"/></g><g stroke="#c6bfda"><use href="#q5a00"/></g><g stroke="#7962b8"><use href="#q11b00"/></g><g stroke="#cbc6db"><use href="#q6c11"/></g><g stroke="#6856b0"><use href="#q10b11"/></g><g stroke="#735eb5"><use href="#q11b10"/></g><g stroke="#cac4db"><use href="#q0d00"/></g><g stroke="#d1cfdb"><use href="#q9a00"/></g><g stroke="#d3d0dc"><use href="#q5a11"/></g><g stroke="#d0cddb"><use href="#q13d01"/></g><g stroke="#cec9db"><use href="#q2c01"/></g><g stroke="#6c59b2"><use href="#q7b11"/></g><g stroke="#7963b8"><use href="#q11c11"/></g><g stroke="#3e48a4"><use href="#q7c01"/></g><g stroke="#7e66ba"><use href="#q10d01"/></g><g stroke="#c9c3da"><use href="#q5c11"/></g><g stroke="#6252ae"><use href="#q13d11"/></g><g stroke="#4a4aa7"><use href="#q13b11"/></g><g stroke="#705cb4"><use href="#q12b00"/></g></g><rect x="528.00" y="297.00" width="4.80" height="25.40" fill="url(#eg)"/><line x1="528.0" y1="297.3" x2="528.9" y2="297.3" stroke="#fff" stroke-width="0.4"/><line x1="531.9" y1="297.3" x2="532.8" y2="297.3" stroke="#fff" stroke-width="0.4"/><text x="534.6" y="298.8" font-size="4.3" fill="#333">2.0</text><line x1="528.0" y1="303.5" x2="528.9" y2="303.5" stroke="#fff" stroke-width="0.4"/><line x1="531.9" y1="303.5" x2="532.8" y2="303.5" stroke="#fff" stroke-width="0.4"/><text x="534.6" y="305.0" font-size="4.3" fill="#333">1.5</text><line x1="528.0" y1="309.7" x2="528.9" y2="309.7" stroke="#fff" stroke-width="0.4"/><line x1="531.9" y1="309.7" x2="532.8" y2="309.7" stroke="#fff" stroke-width="0.4"/><text x="534.6" y="311.2" font-size="4.3" fill="#333">1.0</text><line x1="528.0" y1="315.9" x2="528.9" y2="315.9" stroke="#fff" stroke-width="0.4"/><line x1="531.9" y1="315.9" x2="532.8" y2="315.9" stroke="#fff" stroke-width="0.4"/><text x="534.6" y="317.4" font-size="4.3" fill="#333">0.5</text><line x1="528.0" y1="322.1" x2="528.9" y2="322.1" stroke="#fff" stroke-width="0.4"/><line x1="531.9" y1="322.1" x2="532.8" y2="322.1" stroke="#fff" stroke-width="0.4"/><text x="534.6" y="323.6" font-size="4.3" fill="#333">0.0</text><text x="621.0" y="263.8" font-size="7.7" text-anchor="middle" font-weight="bold" fill="#111">Slamf1</text><line x1="578.9" y1="269.4" x2="578.9" y2="350.5" stroke="#b4b4b4" stroke-width="1.2"/><line x1="578.3" y1="349.9" x2="658.8" y2="349.9" stroke="#b4b4b4" stroke-width="1.2"/><line x1="577.3" y1="281.0" x2="578.3" y2="281.0" stroke="#333" stroke-width="0.5"/><text x="576.6" y="282.6" font-size="4.5" text-anchor="end" fill="#333">5</text><line x1="577.3" y1="301.4" x2="578.3" y2="301.4" stroke="#333" stroke-width="0.5"/><text x="576.6" y="303.0" font-size="4.5" text-anchor="end" fill="#333">0</text><line x1="577.3" y1="321.8" x2="578.3" y2="321.8" stroke="#333" stroke-width="0.5"/><text x="576.6" y="323.4" font-size="4.5" text-anchor="end" fill="#333">-5</text><line x1="577.3" y1="342.2" x2="578.3" y2="342.2" stroke="#333" stroke-width="0.5"/><text x="576.6" y="343.8" font-size="4.5" text-anchor="end" fill="#333">-10</text><line x1="582.4" y1="350.5" x2="582.4" y2="351.5" stroke="#333" stroke-width="0.5"/><text x="582.4" y="355.7" font-size="4.5" text-anchor="middle" fill="#333">-5</text><line x1="601.5" y1="350.5" x2="601.5" y2="351.5" stroke="#333" stroke-width="0.5"/><text x="601.5" y="355.7" font-size="4.5" text-anchor="middle" fill="#333">0</text><line x1="620.6" y1="350.5" x2="620.6" y2="351.5" stroke="#333" stroke-width="0.5"/><text x="620.6" y="355.7" font-size="4.5" text-anchor="middle" fill="#333">5</text><line x1="639.8" y1="350.5" x2="639.8" y2="351.5" stroke="#333" stroke-width="0.5"/><text x="639.8" y="355.7" font-size="4.5" text-anchor="middle" fill="#333">10</text><text x="619.3" y="360.8" font-size="5.0" text-anchor="middle" fill="#222">UMAP_1</text><text x="567.9" y="309.4" font-size="5.0" text-anchor="middle" fill="#222" transform="rotate(-90 567.9 309.4)">UMAP_2</text><g transform="translate(601.5 301.4) scale(0.1915 0.2040)" stroke-width="0.9"><g stroke="#d6d5dc"><use href="#q7d00"/></g><g stroke="#6957b1"><use href="#q12a11"/></g><g stroke="#d6d5dc"><use href="#q13c00"/></g><g stroke="#534ba9"><use href="#q5b10"/></g><g stroke="#5d4eab"><use href="#q7a10"/></g><g stroke="#d6d5dc"><use href="#q0a00"/></g><g stroke="#d6d5dc"><use href="#q6d10"/></g><g stroke="#d6d5dc"><use href="#q0b01"/></g><g stroke="#6856b0"><use href="#q3a00"/></g><g stroke="#6654af"><use href="#q8d11"/></g><g stroke="#d6d5dc"><use href="#q9b00"/></g><g stroke="#4b4aa7"><use href="#q8d00"/></g><g stroke="#5b4daa"><use href="#q2c01"/></g><g stroke="#494aa7"><use href="#q2b10"/></g><g stroke="#d6d5dc"><use href="#q12a01"/></g><g stroke="#d6d5dc"><use href="#q1b00"/></g><g stroke="#4e4aa8"><use href="#q8b10"/></g><g stroke="#d6d5dc"><use href="#q3c00"/></g><g stroke="#d6d5dc"><use href="#q8b00"/></g><g stroke="#564ba9"><use href="#q0c00"/></g><g stroke="#3d48a4"><use href="#q8a10"/></g><g stroke="#d6d5dc"><use href="#q10b10"/></g><g stroke="#d6d5dc"><use href="#q9c00"/></g><g stroke="#d6d5dc"><use href="#q4a01"/></g><g stroke="#6554af"><use href="#q5a10"/></g><g stroke="#d6d5dc"><use href="#q4b00"/></g><g stroke="#494aa6"><use href="#q1b11"/></g><g stroke="#4a4aa7"><use href="#q11c11"/></g><g stroke="#4849a6"><use href="#q12b10"/></g><g stroke="#5c4dab"><use href="#q12c00"/></g><g stroke="#4e4aa7"><use href="#q11b01"/></g><g stroke="#6c59b2"><use href="#q11d11"/></g><g stroke="#d6d5dc"><use href="#q6b01"/></g><g stroke="#d6d5dc"><use href="#q6a00"/></g><g stroke="#d6d5dc"><use href="#q6d01"/></g><g stroke="#d6d5dc"><use href="#q11c00"/></g><g stroke="#6e5bb3"><use href="#q10a11"/></g><g stroke="#4f4ba8"><use href="#q10d10"/></g><g stroke="#715cb4"><use href="#q10d11"/></g><g stroke="#d6d5dc"><use href="#q9d01"/></g><g stroke="#d6d5dc"><use href="#q5a00"/></g><g stroke="#534ba9"><use href="#q9a10"/></g><g stroke="#d6d5dc"><use href="#q8b11"/></g><g stroke="#5a4caa"><use href="#q2c00"/></g><g stroke="#d6d5dc"><use href="#q4c00"/></g><g stroke="#d6d5dc"><use href="#q1b01"/></g><g stroke="#d6d5dc"><use href="#q4c01"/></g><g stroke="#d6d5dc"><use href="#q5d01"/></g><g stroke="#d6d5dc"><use href="#q10c00"/></g><g stroke="#3f48a4"><use href="#q6b11"/></g><g stroke="#534ba9"><use href="#q11b00"/></g><g stroke="#d6d5dc"><use href="#q0c01"/></g><g stroke="#d6d5dc"><use href="#q0a01"/></g><g stroke="#6252ae"><use href="#q8a11"/></g><g stroke="#d6d5dc"><use href="#q0b00"/></g><g stroke="#d6d5dc"><use href="#q8d10"/></g><g stroke="#d6d5dc"><use href="#q4d01"/></g><g stroke="#6050ad"><use href="#q12a00"/></g><g stroke="#d6d5dc"><use href="#q5d00"/></g><g stroke="#5d4eab"><use href="#q11c10"/></g><g stroke="#d6d5dc"><use href="#q4b01"/></g><g stroke="#6d5ab3"><use href="#q10d01"/></g><g stroke="#d6d5dc"><use href="#q4a00"/></g><g stroke="#d6d5dc"><use href="#q5c01"/></g><g stroke="#4c4aa7"><use href="#q6c11"/></g><g stroke="#5a4caa"><use href="#q13c11"/></g><g stroke="#d6d5dc"><use href="#q7c01"/></g><g stroke="#d6d5dc"><use href="#q8d01"/></g><g stroke="#4b4aa7"><use href="#q12b00"/></g><g stroke="#6050ad"><use href="#q7a01"/></g><g stroke="#6b58b2"><use href="#q9c11"/></g><g stroke="#5c4dab"><use href="#q12d10"/></g><g stroke="#6f5cb4"><use href="#q2b11"/></g><g stroke="#d6d5dc"><use href="#q13c01"/></g><g stroke="#d6d5dc"><use href="#q1a10"/></g><g stroke="#564ba9"><use href="#q13d10"/></g><g stroke="#d6d5dc"><use href="#q6d00"/></g><g stroke="#4449a5"><use href="#q12c11"/></g><g stroke="#564ba9"><use href="#q2c10"/></g><g stroke="#d6d5dc"><use href="#q3d10"/></g><g stroke="#594caa"><use href="#q2a00"/></g><g stroke="#6151ad"><use href="#q2a01"/></g><g stroke="#d6d5dc"><use href="#q3c01"/></g><g stroke="#d6d5dc"><use href="#q12c01"/></g><g stroke="#d6d5dc"><use href="#q7c00"/></g><g stroke="#d6d5dc"><use href="#q1c00"/></g><g stroke="#d6d5dc"><use href="#q13d11"/></g><g stroke="#d6d5dc"><use href="#q5c00"/></g><g stroke="#484aa6"><use href="#q4d11"/></g><g stroke="#4e4aa8"><use href="#q12d00"/></g><g stroke="#4349a5"><use href="#q2b01"/></g><g stroke="#d6d5dc"><use href="#q6a11"/></g><g stroke="#d6d5dc"><use href="#q13a10"/></g><g stroke="#d6d5dc"><use href="#q9a01"/></g><g stroke="#735eb5"><use href="#q7d11"/></g><g stroke="#5d4eab"><use href="#q10a01"/></g><g stroke="#5e4fac"><use href="#q11b10"/></g><g stroke="#d6d5dc"><use href="#q6d11"/></g><g stroke="#494aa6"><use href="#q9a11"/></g><g stroke="#d6d5dc"><use href="#q9d10"/></g><g stroke="#3f48a5"><use href="#q8a00"/></g><g stroke="#4f4aa8"><use href="#q6c10"/></g><g stroke="#725db5"><use href="#q10b01"/></g><g stroke="#d6d5dc"><use href="#q9a00"/></g><g stroke="#d6d5dc"><use href="#q1a01"/></g><g stroke="#d6d5dc"><use href="#q13a00"/></g><g stroke="#494aa6"><use href="#q8a01"/></g><g stroke="#d6d5dc"><use href="#q8b01"/></g><g stroke="#5a4caa"><use href="#q13a11"/></g><g stroke="#d6d5dc"><use href="#q4d00"/></g><g stroke="#d6d5dc"><use href="#q11b11"/></g><g stroke="#d6d5dc"><use href="#q5b01"/></g><g stroke="#705cb4"><use href="#q11d00"/></g><g stroke="#4549a6"><use href="#q7a11"/></g><g stroke="#5c4dab"><use href="#q4c10"/></g><g stroke="#3f48a4"><use href="#q12d11"/></g><g stroke="#d6d5dc"><use href="#q13a01"/></g><g stroke="#d6d5dc"><use href="#q1a11"/></g><g stroke="#d6d5dc"><use href="#q10c11"/></g><g stroke="#514ba8"><use href="#q6b10"/></g><g stroke="#4349a5"><use href="#q11c01"/></g><g stroke="#d6d5dc"><use href="#q9c01"/></g><g stroke="#4e4aa7"><use href="#q7d10"/></g><g stroke="#6b58b2"><use href="#q5a11"/></g><g stroke="#6051ad"><use href="#q13b10"/></g><g stroke="#4e4aa7"><use href="#q13d01"/></g><g stroke="#584caa"><use href="#q5d10"/></g><g stroke="#5c4dab"><use href="#q10a00"/></g><g stroke="#3e48a4"><use href="#q12a10"/></g><g stroke="#514ba8"><use href="#q9b10"/></g><g stroke="#594caa"><use href="#q13b11"/></g><g stroke="#d6d5dc"><use href="#q12b11"/></g><g stroke="#d6d5dc"><use href="#q11a01"/></g><g stroke="#d6d5dc"><use href="#q11a00"/></g><g stroke="#d6d5dc"><use href="#q5a01"/></g><g stroke="#6d5ab3"><use href="#q9c10"/></g><g stroke="#d6d5dc"><use href="#q13b00"/></g><g stroke="#484aa6"><use href="#q10d00"/></g><g stroke="#d6d5dc"><use href="#q3d01"/></g><g stroke="#d6d5dc"><use href="#q6b00"/></g><g stroke="#d6d5dc"><use href="#q6a10"/></g><g stroke="#6755b0"><use href="#q10a10"/></g><g stroke="#d6d5dc"><use href="#q10b00"/></g><g stroke="#d6d5dc"><use href="#q1c01"/></g><g stroke="#504ba8"><use href="#q7a00"/></g><g stroke="#d6d5dc"><use href="#q6c01"/></g><g stroke="#4048a5"><use href="#q2b00"/></g><g stroke="#4f4aa8"><use href="#q12c10"/></g><g stroke="#4f4ba8"><use href="#q4a11"/></g><g stroke="#4749a6"><use href="#q12d01"/></g><g stroke="#d6d5dc"><use href="#q1d01"/></g><g stroke="#d6d5dc"><use href="#q3a01"/></g><g stroke="#6151ad"><use href="#q2d01"/></g><g stroke="#4449a5"><use href="#q4c11"/></g><g stroke="#6a58b1"><use href="#q9b01"/></g><g stroke="#d6d5dc"><use href="#q6a01"/></g><g stroke="#d6d5dc"><use href="#q4d10"/></g><g stroke="#4249a5"><use href="#q8c10"/></g><g stroke="#d6d5dc"><use href="#q5c10"/></g><g stroke="#584caa"><use href="#q5c11"/></g><g stroke="#d6d5dc"><use href="#q2d00"/></g><g stroke="#d6d5dc"><use href="#q10b11"/></g><g stroke="#6d59b2"><use href="#q7c11"/></g><g stroke="#d6d5dc"><use href="#q9d00"/></g><g stroke="#d6d5dc"><use href="#q9b11"/></g><g stroke="#d6d5dc"><use href="#q4b11"/></g><g stroke="#d6d5dc"><use href="#q0d00"/></g><g stroke="#6e5ab3"><use href="#q2c11"/></g><g stroke="#d6d5dc"><use href="#q5b11"/></g><g stroke="#5e4fac"><use href="#q5d11"/></g><g stroke="#524ba8"><use href="#q11d10"/></g><g stroke="#d6d5dc"><use href="#q6c00"/></g><g stroke="#d6d5dc"><use href="#q7d01"/></g><g stroke="#6252ae"><use href="#q13b01"/></g><g stroke="#d6d5dc"><use href="#q9d11"/></g><g stroke="#d6d5dc"><use href="#q3b00"/></g><g stroke="#6b59b2"><use href="#q10c10"/></g><g stroke="#554ba9"><use href="#q1d11"/></g><g stroke="#4d4aa7"><use href="#q8c01"/></g><g stroke="#4e4aa8"><use href="#q7b11"/></g><g stroke="#4149a5"><use href="#q7b10"/></g><g stroke="#725db5"><use href="#q8c11"/></g><g stroke="#d6d5dc"><use href="#q13d00"/></g><g stroke="#d6d5dc"><use href="#q3d00"/></g><g stroke="#4b4aa7"><use href="#q11a10"/></g><g stroke="#d6d5dc"><use href="#q13c10"/></g><g stroke="#d6d5dc"><use href="#q10c01"/></g><g stroke="#4f4aa8"><use href="#q7c10"/></g><g stroke="#d6d5dc"><use href="#q7b00"/></g><g stroke="#6f5cb4"><use href="#q7b01"/></g><g stroke="#4e4aa8"><use href="#q11d01"/></g><g stroke="#d6d5dc"><use href="#q5b00"/></g><g stroke="#d6d5dc"><use href="#q1d00"/></g><g stroke="#3e48a4"><use href="#q2d10"/></g><g stroke="#d6d5dc"><use href="#q1a00"/></g><g stroke="#d6d5dc"><use href="#q8c00"/></g><g stroke="#d6d5dc"><use href="#q12b01"/></g><g stroke="#745fb6"><use href="#q11a11"/></g><g stroke="#574ca9"><use href="#q3b01"/></g><g stroke="#d6d5dc"><use href="#q0d01"/></g></g><rect x="662.50" y="297.00" width="4.80" height="25.40" fill="url(#eg)"/><line x1="662.5" y1="297.3" x2="663.4" y2="297.3" stroke="#fff" stroke-width="0.4"/><line x1="666.4" y1="297.3" x2="667.3" y2="297.3" stroke="#fff" stroke-width="0.4"/><text x="669.1" y="298.8" font-size="4.3" fill="#333">1.00</text><line x1="662.5" y1="303.5" x2="663.4" y2="303.5" stroke="#fff" stroke-width="0.4"/><line x1="666.4" y1="303.5" x2="667.3" y2="303.5" stroke="#fff" stroke-width="0.4"/><text x="669.1" y="305.0" font-size="4.3" fill="#333">0.75</text><line x1="662.5" y1="309.7" x2="663.4" y2="309.7" stroke="#fff" stroke-width="0.4"/><line x1="666.4" y1="309.7" x2="667.3" y2="309.7" stroke="#fff" stroke-width="0.4"/><text x="669.1" y="311.2" font-size="4.3" fill="#333">0.50</text><line x1="662.5" y1="315.9" x2="663.4" y2="315.9" stroke="#fff" stroke-width="0.4"/><line x1="666.4" y1="315.9" x2="667.3" y2="315.9" stroke="#fff" stroke-width="0.4"/><text x="669.1" y="317.4" font-size="4.3" fill="#333">0.25</text><line x1="662.5" y1="322.1" x2="663.4" y2="322.1" stroke="#fff" stroke-width="0.4"/><line x1="666.4" y1="322.1" x2="667.3" y2="322.1" stroke="#fff" stroke-width="0.4"/><text x="669.1" y="323.6" font-size="4.3" fill="#333">0.00</text><text x="352.7" y="382.2" font-size="7.7" text-anchor="middle" font-weight="bold" fill="#111">Mpl</text><line x1="311.1" y1="387.6" x2="311.1" y2="469.0" stroke="#b4b4b4" stroke-width="1.2"/><line x1="310.5" y1="468.4" x2="391.0" y2="468.4" stroke="#b4b4b4" stroke-width="1.2"/><line x1="309.5" y1="399.5" x2="310.5" y2="399.5" stroke="#333" stroke-width="0.5"/><text x="308.8" y="401.1" font-size="4.5" text-anchor="end" fill="#333">5</text><line x1="309.5" y1="419.9" x2="310.5" y2="419.9" stroke="#333" stroke-width="0.5"/><text x="308.8" y="421.5" font-size="4.5" text-anchor="end" fill="#333">0</text><line x1="309.5" y1="440.3" x2="310.5" y2="440.3" stroke="#333" stroke-width="0.5"/><text x="308.8" y="441.9" font-size="4.5" text-anchor="end" fill="#333">-5</text><line x1="309.5" y1="460.7" x2="310.5" y2="460.7" stroke="#333" stroke-width="0.5"/><text x="308.8" y="462.3" font-size="4.5" text-anchor="end" fill="#333">-10</text><line x1="314.6" y1="469.0" x2="314.6" y2="470.0" stroke="#333" stroke-width="0.5"/><text x="314.6" y="474.2" font-size="4.5" text-anchor="middle" fill="#333">-5</text><line x1="333.7" y1="469.0" x2="333.7" y2="470.0" stroke="#333" stroke-width="0.5"/><text x="333.7" y="474.2" font-size="4.5" text-anchor="middle" fill="#333">0</text><line x1="352.8" y1="469.0" x2="352.8" y2="470.0" stroke="#333" stroke-width="0.5"/><text x="352.8" y="474.2" font-size="4.5" text-anchor="middle" fill="#333">5</text><line x1="372.0" y1="469.0" x2="372.0" y2="470.0" stroke="#333" stroke-width="0.5"/><text x="372.0" y="474.2" font-size="4.5" text-anchor="middle" fill="#333">10</text><text x="351.5" y="479.3" font-size="5.0" text-anchor="middle" fill="#222">UMAP_1</text><text x="300.1" y="427.9" font-size="5.0" text-anchor="middle" fill="#222" transform="rotate(-90 300.1 427.9)">UMAP_2</text><g transform="translate(333.7 419.9) scale(0.1915 0.2040)" stroke-width="0.9"><g stroke="#3e48a4"><use href="#q2a00"/></g><g stroke="#8c74c1"><use href="#q12a01"/></g><g stroke="#c3bada"><use href="#q3c01"/></g><g stroke="#4048a5"><use href="#q7b11"/></g><g stroke="#7963b8"><use href="#q8c00"/></g><g stroke="#7e66ba"><use href="#q7d10"/></g><g stroke="#5f50ac"><use href="#q11a11"/></g><g stroke="#cdc8db"><use href="#q2b01"/></g><g stroke="#8b73c1"><use href="#q2c00"/></g><g stroke="#534ba9"><use href="#q4c01"/></g><g stroke="#6c59b2"><use href="#q1c01"/></g><g stroke="#8d74c2"><use href="#q4b01"/></g><g stroke="#3f48a4"><use href="#q13a00"/></g><g stroke="#6755b0"><use href="#q10a11"/></g><g stroke="#7e66ba"><use href="#q13d01"/></g><g stroke="#7560b6"><use href="#q5b11"/></g><g stroke="#3e48a4"><use href="#q7c10"/></g><g stroke="#4f4aa8"><use href="#q9c01"/></g><g stroke="#ccc7db"><use href="#q11a00"/></g><g stroke="#594caa"><use href="#q4a11"/></g><g stroke="#5c4eab"><use href="#q9d10"/></g><g stroke="#514ba8"><use href="#q4a00"/></g><g stroke="#6252ae"><use href="#q12b10"/></g><g stroke="#7560b6"><use href="#q5d11"/></g><g stroke="#896fbf"><use href="#q1d01"/></g><g stroke="#6353ae"><use href="#q7d00"/></g><g stroke="#554ba9"><use href="#q8b10"/></g><g stroke="#705cb4"><use href="#q10c01"/></g><g stroke="#beb3d9"><use href="#q11a01"/></g><g stroke="#8269bc"><use href="#q8b11"/></g><g stroke="#6050ad"><use href="#q7a01"/></g><g stroke="#4048a5"><use href="#q8c10"/></g><g stroke="#7862b8"><use href="#q6a01"/></g><g stroke="#4349a5"><use href="#q12d10"/></g><g stroke="#4649a6"><use href="#q1b11"/></g><g stroke="#4349a5"><use href="#q13b11"/></g><g stroke="#494aa7"><use href="#q3a00"/></g><g stroke="#745fb6"><use href="#q8d10"/></g><g stroke="#bfb4d9"><use href="#q7c00"/></g><g stroke="#d3d1dc"><use href="#q2a01"/></g><g stroke="#8970c0"><use href="#q10c11"/></g><g stroke="#4a4aa7"><use href="#q12b11"/></g><g stroke="#7e66ba"><use href="#q5b00"/></g><g stroke="#3e48a4"><use href="#q7c11"/></g><g stroke="#bbb0d9"><use href="#q7b01"/></g><g stroke="#3f48a4"><use href="#q3d01"/></g><g stroke="#4f4aa8"><use href="#q13b00"/></g><g stroke="#3d48a4"><use href="#q10c10"/></g><g stroke="#6252ae"><use href="#q10a10"/></g><g stroke="#c0b6d9"><use href="#q5d01"/></g><g stroke="#7d65ba"><use href="#q6a10"/></g><g stroke="#4a4aa7"><use href="#q11c10"/></g><g stroke="#5b4dab"><use href="#q10a01"/></g><g stroke="#4249a5"><use href="#q6c11"/></g><g stroke="#735eb5"><use href="#q13a10"/></g><g stroke="#705cb4"><use href="#q5a01"/></g><g stroke="#534ba9"><use href="#q5a11"/></g><g stroke="#c1b8d9"><use href="#q3d10"/></g><g stroke="#c9c2da"><use href="#q0c01"/></g><g stroke="#8269bc"><use href="#q13a11"/></g><g stroke="#c8c2da"><use href="#q8b01"/></g><g stroke="#856bbd"><use href="#q11d01"/></g><g stroke="#836abd"><use href="#q6b00"/></g><g stroke="#6755b0"><use href="#q2c10"/></g><g stroke="#3e48a4"><use href="#q2d01"/></g><g stroke="#846bbd"><use href="#q9a01"/></g><g stroke="#bfb4d9"><use href="#q4c11"/></g><g stroke="#8168bc"><use href="#q7d11"/></g><g stroke="#8b72c1"><use href="#q1a10"/></g><g stroke="#4149a5"><use href="#q12d01"/></g><g stroke="#524ba8"><use href="#q3a01"/></g><g stroke="#d2cfdc"><use href="#q4b00"/></g><g stroke="#cecadb"><use href="#q2d10"/></g><g stroke="#484aa6"><use href="#q13b01"/></g><g stroke="#c2b9d9"><use href="#q2b10"/></g><g stroke="#d4d2dc"><use href="#q13d00"/></g><g stroke="#7c64b9"><use href="#q9a11"/></g><g stroke="#574ca9"><use href="#q6d11"/></g><g stroke="#c9c3da"><use href="#q1b00"/></g><g stroke="#484aa6"><use href="#q1b01"/></g><g stroke="#cbc6db"><use href="#q2b00"/></g><g stroke="#836abd"><use href="#q13c01"/></g><g stroke="#705cb4"><use href="#q11b00"/></g><g stroke="#d4d2dc"><use href="#q7a00"/></g><g stroke="#554ba9"><use href="#q3b01"/></g><g stroke="#534ba8"><use href="#q12a10"/></g><g stroke="#886ebf"><use href="#q9c10"/></g><g stroke="#5e4fac"><use href="#q9b10"/></g><g stroke="#514ba8"><use href="#q11b10"/></g><g stroke="#7a63b9"><use href="#q8c01"/></g><g stroke="#514ba8"><use href="#q8c11"/></g><g stroke="#c1b7d9"><use href="#q5d10"/></g><g stroke="#ccc7db"><use href="#q5d00"/></g><g stroke="#564ba9"><use href="#q8d00"/></g><g stroke="#4749a6"><use href="#q0b00"/></g><g stroke="#6755b0"><use href="#q10b00"/></g><g stroke="#554ba9"><use href="#q13d10"/></g><g stroke="#554ba9"><use href="#q12c01"/></g><g stroke="#7d65ba"><use href="#q12a00"/></g><g stroke="#705cb4"><use href="#q11c11"/></g><g stroke="#755fb6"><use href="#q11c00"/></g><g stroke="#574ca9"><use href="#q6b11"/></g><g stroke="#8d75c2"><use href="#q0d01"/></g><g stroke="#7c64b9"><use href="#q9c00"/></g><g stroke="#514ba8"><use href="#q10b10"/></g><g stroke="#524ba8"><use href="#q5c00"/></g><g stroke="#715db5"><use href="#q2c01"/></g><g stroke="#594caa"><use href="#q0a01"/></g><g stroke="#4e4aa8"><use href="#q1d11"/></g><g stroke="#5d4eab"><use href="#q9d00"/></g><g stroke="#c9c2da"><use href="#q1a00"/></g><g stroke="#6151ad"><use href="#q2c11"/></g><g stroke="#6050ad"><use href="#q11b01"/></g><g stroke="#8169bc"><use href="#q9b00"/></g><g stroke="#7e66ba"><use href="#q1d00"/></g><g stroke="#8f78c3"><use href="#q11b11"/></g><g stroke="#7560b6"><use href="#q0a00"/></g><g stroke="#4e4aa7"><use href="#q10d01"/></g><g stroke="#6352ae"><use href="#q0d00"/></g><g stroke="#524ba8"><use href="#q13b10"/></g><g stroke="#7862b8"><use href="#q8a00"/></g><g stroke="#5f50ac"><use href="#q11c01"/></g><g stroke="#d0cddb"><use href="#q1a01"/></g><g stroke="#beb3d9"><use href="#q8b00"/></g><g stroke="#7f67bb"><use href="#q8a11"/></g><g stroke="#6a57b1"><use href="#q10d11"/></g><g stroke="#846bbd"><use href="#q5c11"/></g><g stroke="#c2b8d9"><use href="#q1c00"/></g><g stroke="#d3d1dc"><use href="#q4b11"/></g><g stroke="#725db5"><use href="#q9d11"/></g><g stroke="#4a4aa7"><use href="#q3b00"/></g><g stroke="#5f4fac"><use href="#q9d01"/></g><g stroke="#4249a5"><use href="#q7a10"/></g><g stroke="#8067bb"><use href="#q4a01"/></g><g stroke="#8a71c0"><use href="#q8d01"/></g><g stroke="#4349a5"><use href="#q13c11"/></g><g stroke="#5a4caa"><use href="#q9b01"/></g><g stroke="#705cb4"><use href="#q5c01"/></g><g stroke="#4048a5"><use href="#q6d10"/></g><g stroke="#4249a5"><use href="#q11d00"/></g><g stroke="#6957b1"><use href="#q12d11"/></g><g stroke="#4749a6"><use href="#q12b01"/></g><g stroke="#c3bada"><use href="#q5a10"/></g><g stroke="#4249a5"><use href="#q6d00"/></g><g stroke="#4d4aa7"><use href="#q4c10"/></g><g stroke="#d5d4dc"><use href="#q3d00"/></g><g stroke="#4249a5"><use href="#q6a11"/></g><g stroke="#5d4eab"><use href="#q8a10"/></g><g stroke="#d5d4dc"><use href="#q10d00"/></g><g stroke="#735eb5"><use href="#q12c00"/></g><g stroke="#4549a6"><use href="#q11d11"/></g><g stroke="#735eb5"><use href="#q0c00"/></g><g stroke="#c6bfda"><use href="#q3c00"/></g><g stroke="#4349a5"><use href="#q5a00"/></g><g stroke="#5c4dab"><use href="#q10c00"/></g><g stroke="#4649a6"><use href="#q1a11"/></g><g stroke="#504ba8"><use href="#q8a01"/></g><g stroke="#6a58b1"><use href="#q6c00"/></g><g stroke="#6353ae"><use href="#q7b10"/></g><g stroke="#564ba9"><use href="#q12c11"/></g><g stroke="#d3d1dc"><use href="#q6c01"/></g><g stroke="#c3bbda"><use href="#q9a00"/></g><g stroke="#6252ae"><use href="#q2b11"/></g><g stroke="#7a63b9"><use href="#q12b00"/></g><g stroke="#5f50ac"><use href="#q9b11"/></g><g stroke="#524ba8"><use href="#q9c11"/></g><g stroke="#d1cedb"><use href="#q7b00"/></g><g stroke="#c1b7d9"><use href="#q5c10"/></g><g stroke="#554ba9"><use href="#q6b10"/></g><g stroke="#7f67bb"><use href="#q7a11"/></g><g stroke="#6a58b1"><use href="#q11d10"/></g><g stroke="#856bbd"><use href="#q10a00"/></g><g stroke="#6352ae"><use href="#q8d11"/></g><g stroke="#5d4eab"><use href="#q7c01"/></g><g stroke="#cdc8db"><use href="#q6a00"/></g><g stroke="#8f77c3"><use href="#q6c10"/></g><g stroke="#6655b0"><use href="#q10b01"/></g><g stroke="#5e4fac"><use href="#q5b01"/></g><g stroke="#bfb5d9"><use href="#q7d01"/></g><g stroke="#8a71c0"><use href="#q4d00"/></g><g stroke="#745fb6"><use href="#q12d00"/></g><g stroke="#544ba9"><use href="#q11a10"/></g><g stroke="#745fb6"><use href="#q12c10"/></g><g stroke="#3f48a4"><use href="#q5b10"/></g><g stroke="#3f48a4"><use href="#q13c00"/></g><g stroke="#594caa"><use href="#q2d00"/></g><g stroke="#4649a6"><use href="#q13d11"/></g><g stroke="#554ba9"><use href="#q4d10"/></g><g stroke="#725db5"><use href="#q0b01"/></g><g stroke="#5b4dab"><use href="#q6b01"/></g><g stroke="#c9c3da"><use href="#q6d01"/></g><g stroke="#7d65ba"><use href="#q4d01"/></g><g stroke="#7560b6"><use href="#q9a10"/></g><g stroke="#735eb5"><use href="#q4d11"/></g><g stroke="#4a4aa7"><use href="#q10b11"/></g><g stroke="#504ba8"><use href="#q12a11"/></g><g stroke="#c4bcda"><use href="#q13a01"/></g><g stroke="#3f48a4"><use href="#q10d10"/></g><g stroke="#7d65ba"><use href="#q13c10"/></g><g stroke="#735eb5"><use href="#q4c00"/></g></g><rect x="395.70" y="415.50" width="4.80" height="25.40" fill="url(#eg)"/><line x1="395.7" y1="415.8" x2="396.6" y2="415.8" stroke="#fff" stroke-width="0.4"/><line x1="399.6" y1="415.8" x2="400.5" y2="415.8" stroke="#fff" stroke-width="0.4"/><text x="402.3" y="417.3" font-size="4.3" fill="#333">2.0</text><line x1="395.7" y1="422.0" x2="396.6" y2="422.0" stroke="#fff" stroke-width="0.4"/><line x1="399.6" y1="422.0" x2="400.5" y2="422.0" stroke="#fff" stroke-width="0.4"/><text x="402.3" y="423.5" font-size="4.3" fill="#333">1.5</text><line x1="395.7" y1="428.2" x2="396.6" y2="428.2" stroke="#fff" stroke-width="0.4"/><line x1="399.6" y1="428.2" x2="400.5" y2="428.2" stroke="#fff" stroke-width="0.4"/><text x="402.3" y="429.7" font-size="4.3" fill="#333">1.0</text><line x1="395.7" y1="434.4" x2="396.6" y2="434.4" stroke="#fff" stroke-width="0.4"/><line x1="399.6" y1="434.4" x2="400.5" y2="434.4" stroke="#fff" stroke-width="0.4"/><text x="402.3" y="435.9" font-size="4.3" fill="#333">0.5</text><line x1="395.7" y1="440.6" x2="396.6" y2="440.6" stroke="#fff" stroke-width="0.4"/><line x1="399.6" y1="440.6" x2="400.5" y2="440.6" stroke="#fff" stroke-width="0.4"/><text x="402.3" y="442.1" font-size="4.3" fill="#333">0.0</text><text x="484.8" y="382.2" font-size="7.7" text-anchor="middle" font-weight="bold" fill="#111">Eng</text><line x1="444.4" y1="387.6" x2="444.4" y2="469.0" stroke="#b4b4b4" stroke-width="1.2"/><line x1="443.8" y1="468.4" x2="524.3" y2="468.4" stroke="#b4b4b4" stroke-width="1.2"/><line x1="442.8" y1="399.5" x2="443.8" y2="399.5" stroke="#333" stroke-width="0.5"/><text x="442.1" y="401.1" font-size="4.5" text-anchor="end" fill="#333">5</text><line x1="442.8" y1="419.9" x2="443.8" y2="419.9" stroke="#333" stroke-width="0.5"/><text x="442.1" y="421.5" font-size="4.5" text-anchor="end" fill="#333">0</text><line x1="442.8" y1="440.3" x2="443.8" y2="440.3" stroke="#333" stroke-width="0.5"/><text x="442.1" y="441.9" font-size="4.5" text-anchor="end" fill="#333">-5</text><line x1="442.8" y1="460.7" x2="443.8" y2="460.7" stroke="#333" stroke-width="0.5"/><text x="442.1" y="462.3" font-size="4.5" text-anchor="end" fill="#333">-10</text><line x1="447.9" y1="469.0" x2="447.9" y2="470.0" stroke="#333" stroke-width="0.5"/><text x="447.9" y="474.2" font-size="4.5" text-anchor="middle" fill="#333">-5</text><line x1="467.0" y1="469.0" x2="467.0" y2="470.0" stroke="#333" stroke-width="0.5"/><text x="467.0" y="474.2" font-size="4.5" text-anchor="middle" fill="#333">0</text><line x1="486.1" y1="469.0" x2="486.1" y2="470.0" stroke="#333" stroke-width="0.5"/><text x="486.1" y="474.2" font-size="4.5" text-anchor="middle" fill="#333">5</text><line x1="505.3" y1="469.0" x2="505.3" y2="470.0" stroke="#333" stroke-width="0.5"/><text x="505.3" y="474.2" font-size="4.5" text-anchor="middle" fill="#333">10</text><text x="484.8" y="479.3" font-size="5.0" text-anchor="middle" fill="#222">UMAP_1</text><text x="433.4" y="427.9" font-size="5.0" text-anchor="middle" fill="#222" transform="rotate(-90 433.4 427.9)">UMAP_2</text><g transform="translate(467.0 419.9) scale(0.1915 0.2040)" stroke-width="0.9"><g stroke="#6251ad"><use href="#q7a11"/></g><g stroke="#d2d0dc"><use href="#q13c01"/></g><g stroke="#6e5ab3"><use href="#q13a01"/></g><g stroke="#d3d1dc"><use href="#q6b00"/></g><g stroke="#917ac4"><use href="#q9a01"/></g><g stroke="#745fb6"><use href="#q5a01"/></g><g stroke="#4749a6"><use href="#q3d01"/></g><g stroke="#574ca9"><use href="#q1b00"/></g><g stroke="#937cc5"><use href="#q2c01"/></g><g stroke="#7d66ba"><use href="#q8a00"/></g><g stroke="#9781c7"><use href="#q6a10"/></g><g stroke="#494aa7"><use href="#q12c10"/></g><g stroke="#7c65b9"><use href="#q8c10"/></g><g stroke="#d0ccdb"><use href="#q7a00"/></g><g stroke="#5b4caa"><use href="#q8b11"/></g><g stroke="#8b72c1"><use href="#q13d11"/></g><g stroke="#494aa6"><use href="#q11b11"/></g><g stroke="#c9c3da"><use href="#q0c01"/></g><g stroke="#cbc5db"><use href="#q13b01"/></g><g stroke="#514ba8"><use href="#q4c11"/></g><g stroke="#705cb4"><use href="#q11b00"/></g><g stroke="#5f4fac"><use href="#q5c00"/></g><g stroke="#947dc5"><use href="#q10b10"/></g><g stroke="#6655af"><use href="#q12a01"/></g><g stroke="#524ba8"><use href="#q8d01"/></g><g stroke="#6a58b1"><use href="#q11b10"/></g><g stroke="#725db5"><use href="#q11d10"/></g><g stroke="#6f5bb4"><use href="#q11c11"/></g><g stroke="#bcb0d9"><use href="#q3c00"/></g><g stroke="#7963b8"><use href="#q12a10"/></g><g stroke="#8e76c2"><use href="#q4b00"/></g><g stroke="#9883c8"><use href="#q8d00"/></g><g stroke="#7b64b9"><use href="#q3c01"/></g><g stroke="#937cc5"><use href="#q7b11"/></g><g stroke="#6d5ab3"><use href="#q6b11"/></g><g stroke="#c7c0da"><use href="#q2b10"/></g><g stroke="#6050ad"><use href="#q4d01"/></g><g stroke="#4849a6"><use href="#q11c00"/></g><g stroke="#4449a6"><use href="#q8c00"/></g><g stroke="#7d65ba"><use href="#q12d10"/></g><g stroke="#6957b1"><use href="#q13d00"/></g><g stroke="#bdb1d9"><use href="#q0b00"/></g><g stroke="#715db5"><use href="#q0a00"/></g><g stroke="#ccc8db"><use href="#q5b00"/></g><g stroke="#4a4aa7"><use href="#q10d01"/></g><g stroke="#cac4db"><use href="#q9d10"/></g><g stroke="#6353ae"><use href="#q4b01"/></g><g stroke="#8269bc"><use href="#q4a01"/></g><g stroke="#564ba9"><use href="#q7b10"/></g><g stroke="#8d75c2"><use href="#q12b01"/></g><g stroke="#594caa"><use href="#q4c01"/></g><g stroke="#715db4"><use href="#q12b10"/></g><g stroke="#4549a6"><use href="#q5a00"/></g><g stroke="#6856b0"><use href="#q5a11"/></g><g stroke="#c9c2da"><use href="#q8d10"/></g><g stroke="#524ba8"><use href="#q3b01"/></g><g stroke="#6453ae"><use href="#q10a10"/></g><g stroke="#917ac4"><use href="#q5b10"/></g><g stroke="#6b58b2"><use href="#q5d01"/></g><g stroke="#beb3d9"><use href="#q2b01"/></g><g stroke="#8f77c3"><use href="#q2d10"/></g><g stroke="#927bc4"><use href="#q2c11"/></g><g stroke="#4e4aa7"><use href="#q7c00"/></g><g stroke="#534ba9"><use href="#q1a01"/></g><g stroke="#876ebf"><use href="#q8b10"/></g><g stroke="#947ec6"><use href="#q8c11"/></g><g stroke="#705cb4"><use href="#q5d11"/></g><g stroke="#5e4fac"><use href="#q4d10"/></g><g stroke="#6c59b2"><use href="#q4a00"/></g><g stroke="#4749a6"><use href="#q10d00"/></g><g stroke="#886fbf"><use href="#q6d10"/></g><g stroke="#6151ad"><use href="#q3a01"/></g><g stroke="#876ebf"><use href="#q1c01"/></g><g stroke="#5c4dab"><use href="#q4b11"/></g><g stroke="#584caa"><use href="#q13d10"/></g><g stroke="#927cc5"><use href="#q13b10"/></g><g stroke="#725db5"><use href="#q7a10"/></g><g stroke="#745fb6"><use href="#q5c10"/></g><g stroke="#7b64b9"><use href="#q10c00"/></g><g stroke="#5e4fac"><use href="#q12c11"/></g><g stroke="#7b64b9"><use href="#q2a00"/></g><g stroke="#c4bcda"><use href="#q10c11"/></g><g stroke="#8970c0"><use href="#q10b00"/></g><g stroke="#cdc8db"><use href="#q0a01"/></g><g stroke="#6d59b2"><use href="#q11a10"/></g><g stroke="#564ba9"><use href="#q13c10"/></g><g stroke="#5c4dab"><use href="#q6d00"/></g><g stroke="#4549a6"><use href="#q6d01"/></g><g stroke="#4549a6"><use href="#q9c11"/></g><g stroke="#7d66ba"><use href="#q9d01"/></g><g stroke="#957ec6"><use href="#q12a11"/></g><g stroke="#7f67bb"><use href="#q9a11"/></g><g stroke="#4a4aa7"><use href="#q5a10"/></g><g stroke="#7c65ba"><use href="#q1b11"/></g><g stroke="#d2cfdb"><use href="#q12d01"/></g><g stroke="#594caa"><use href="#q1a11"/></g><g stroke="#584caa"><use href="#q13b11"/></g><g stroke="#5c4dab"><use href="#q0d01"/></g><g stroke="#8269bc"><use href="#q2d00"/></g><g stroke="#4f4aa8"><use href="#q10c10"/></g><g stroke="#836abd"><use href="#q10a01"/></g><g stroke="#9883c8"><use href="#q13a11"/></g><g stroke="#5b4dab"><use href="#q8d11"/></g><g stroke="#d4d2dc"><use href="#q1a00"/></g><g stroke="#524ba8"><use href="#q6c10"/></g><g stroke="#6655b0"><use href="#q6d11"/></g><g stroke="#4f4ba8"><use href="#q6c11"/></g><g stroke="#8068bb"><use href="#q11d11"/></g><g stroke="#7b64b9"><use href="#q7c01"/></g><g stroke="#9984c8"><use href="#q11c01"/></g><g stroke="#7862b8"><use href="#q11d00"/></g><g stroke="#7e66ba"><use href="#q4c10"/></g><g stroke="#cecadb"><use href="#q3d10"/></g><g stroke="#8970c0"><use href="#q9b00"/></g><g stroke="#564ba9"><use href="#q9a10"/></g><g stroke="#524ba8"><use href="#q7d11"/></g><g stroke="#7d66ba"><use href="#q2c00"/></g><g stroke="#4549a6"><use href="#q5c01"/></g><g stroke="#7f67bb"><use href="#q10b11"/></g><g stroke="#d1cddb"><use href="#q3d00"/></g><g stroke="#4549a6"><use href="#q10a00"/></g><g stroke="#5a4caa"><use href="#q13a00"/></g><g stroke="#9079c4"><use href="#q1d11"/></g><g stroke="#705cb4"><use href="#q6b10"/></g><g stroke="#574ca9"><use href="#q9b01"/></g><g stroke="#9883c8"><use href="#q5d00"/></g><g stroke="#4e4aa8"><use href="#q10d11"/></g><g stroke="#7761b7"><use href="#q12d00"/></g><g stroke="#4f4ba8"><use href="#q7d10"/></g><g stroke="#6b58b2"><use href="#q8b00"/></g><g stroke="#8e76c2"><use href="#q8a10"/></g><g stroke="#514ba8"><use href="#q9c00"/></g><g stroke="#6c59b2"><use href="#q6a01"/></g><g stroke="#514ba8"><use href="#q9c01"/></g><g stroke="#6453af"><use href="#q7d01"/></g><g stroke="#8068bb"><use href="#q1c00"/></g><g stroke="#917ac4"><use href="#q1a10"/></g><g stroke="#4549a6"><use href="#q13c11"/></g><g stroke="#bcb1d9"><use href="#q5c11"/></g><g stroke="#5b4daa"><use href="#q12c00"/></g><g stroke="#6755b0"><use href="#q1d00"/></g><g stroke="#8067bb"><use href="#q0c00"/></g><g stroke="#544ba9"><use href="#q12b00"/></g><g stroke="#504ba8"><use href="#q9a00"/></g><g stroke="#524ba8"><use href="#q4a11"/></g><g stroke="#594caa"><use href="#q10a11"/></g><g stroke="#5a4caa"><use href="#q7b01"/></g><g stroke="#886ebf"><use href="#q8a11"/></g><g stroke="#7e66ba"><use href="#q10c01"/></g><g stroke="#6957b1"><use href="#q7c11"/></g><g stroke="#484aa6"><use href="#q3a00"/></g><g stroke="#7c64b9"><use href="#q6c01"/></g><g stroke="#6353ae"><use href="#q7b00"/></g><g stroke="#554ba9"><use href="#q0b01"/></g><g stroke="#524ba8"><use href="#q9d11"/></g><g stroke="#9781c7"><use href="#q1d01"/></g><g stroke="#594caa"><use href="#q11a00"/></g><g stroke="#8e76c2"><use href="#q9b11"/></g><g stroke="#584caa"><use href="#q11c10"/></g><g stroke="#735eb5"><use href="#q2c10"/></g><g stroke="#524ba8"><use href="#q13b00"/></g><g stroke="#6756b0"><use href="#q9b10"/></g><g stroke="#c8c1da"><use href="#q5b01"/></g><g stroke="#8f77c3"><use href="#q1b01"/></g><g stroke="#735eb5"><use href="#q6a11"/></g><g stroke="#6353ae"><use href="#q7d00"/></g><g stroke="#4849a6"><use href="#q4c00"/></g><g stroke="#594caa"><use href="#q9c10"/></g><g stroke="#5e4fac"><use href="#q13d01"/></g><g stroke="#514ba8"><use href="#q9d00"/></g><g stroke="#cbc6db"><use href="#q4d00"/></g><g stroke="#d2d0dc"><use href="#q6b01"/></g><g stroke="#7a63b8"><use href="#q12a00"/></g><g stroke="#494aa6"><use href="#q0d00"/></g><g stroke="#554ba9"><use href="#q6a00"/></g><g stroke="#8068bb"><use href="#q11a11"/></g><g stroke="#5e4fac"><use href="#q12c01"/></g><g stroke="#564ba9"><use href="#q11a01"/></g><g stroke="#856cbe"><use href="#q10b01"/></g><g stroke="#836abd"><use href="#q12d11"/></g><g stroke="#7e66ba"><use href="#q2a01"/></g><g stroke="#6957b1"><use href="#q11d01"/></g><g stroke="#6554af"><use href="#q5d10"/></g><g stroke="#c4bcda"><use href="#q5b11"/></g><g stroke="#7c65b9"><use href="#q13c00"/></g><g stroke="#715db4"><use href="#q6c00"/></g><g stroke="#8c73c1"><use href="#q8b01"/></g><g stroke="#876ebf"><use href="#q7a01"/></g><g stroke="#8168bc"><use href="#q7c10"/></g><g stroke="#846abd"><use href="#q13a10"/></g><g stroke="#bfb4d9"><use href="#q10d10"/></g><g stroke="#6353ae"><use href="#q2d01"/></g><g stroke="#cdc9db"><use href="#q3b00"/></g><g stroke="#7660b7"><use href="#q2b11"/></g><g stroke="#917ac4"><use href="#q2b00"/></g><g stroke="#544ba9"><use href="#q4d11"/></g><g stroke="#6d59b2"><use href="#q8c01"/></g><g stroke="#4749a6"><use href="#q12b11"/></g><g stroke="#4d4aa7"><use href="#q11b01"/></g><g stroke="#917ac4"><use href="#q8a01"/></g></g><rect x="528.00" y="415.50" width="4.80" height="25.40" fill="url(#eg)"/><line x1="528.0" y1="415.8" x2="528.9" y2="415.8" stroke="#fff" stroke-width="0.4"/><line x1="531.9" y1="415.8" x2="532.8" y2="415.8" stroke="#fff" stroke-width="0.4"/><text x="534.6" y="417.3" font-size="4.3" fill="#333">2.0</text><line x1="528.0" y1="422.0" x2="528.9" y2="422.0" stroke="#fff" stroke-width="0.4"/><line x1="531.9" y1="422.0" x2="532.8" y2="422.0" stroke="#fff" stroke-width="0.4"/><text x="534.6" y="423.5" font-size="4.3" fill="#333">1.5</text><line x1="528.0" y1="428.2" x2="528.9" y2="428.2" stroke="#fff" stroke-width="0.4"/><line x1="531.9" y1="428.2" x2="532.8" y2="428.2" stroke="#fff" stroke-width="0.4"/><text x="534.6" y="429.7" font-size="4.3" fill="#333">1.0</text><line x1="528.0" y1="434.4" x2="528.9" y2="434.4" stroke="#fff" stroke-width="0.4"/><line x1="531.9" y1="434.4" x2="532.8" y2="434.4" stroke="#fff" stroke-width="0.4"/><text x="534.6" y="435.9" font-size="4.3" fill="#333">0.5</text><line x1="528.0" y1="440.6" x2="528.9" y2="440.6" stroke="#fff" stroke-width="0.4"/><line x1="531.9" y1="440.6" x2="532.8" y2="440.6" stroke="#fff" stroke-width="0.4"/><text x="534.6" y="442.1" font-size="4.3" fill="#333">0.0</text><text x="621.0" y="382.2" font-size="7.7" text-anchor="middle" font-weight="bold" fill="#111">Mecom</text><line x1="578.9" y1="387.6" x2="578.9" y2="469.0" stroke="#b4b4b4" stroke-width="1.2"/><line x1="578.3" y1="468.4" x2="658.8" y2="468.4" stroke="#b4b4b4" stroke-width="1.2"/><line x1="577.3" y1="399.5" x2="578.3" y2="399.5" stroke="#333" stroke-width="0.5"/><text x="576.6" y="401.1" font-size="4.5" text-anchor="end" fill="#333">5</text><line x1="577.3" y1="419.9" x2="578.3" y2="419.9" stroke="#333" stroke-width="0.5"/><text x="576.6" y="421.5" font-size="4.5" text-anchor="end" fill="#333">0</text><line x1="577.3" y1="440.3" x2="578.3" y2="440.3" stroke="#333" stroke-width="0.5"/><text x="576.6" y="441.9" font-size="4.5" text-anchor="end" fill="#333">-5</text><line x1="577.3" y1="460.7" x2="578.3" y2="460.7" stroke="#333" stroke-width="0.5"/><text x="576.6" y="462.3" font-size="4.5" text-anchor="end" fill="#333">-10</text><line x1="582.4" y1="469.0" x2="582.4" y2="470.0" stroke="#333" stroke-width="0.5"/><text x="582.4" y="474.2" font-size="4.5" text-anchor="middle" fill="#333">-5</text><line x1="601.5" y1="469.0" x2="601.5" y2="470.0" stroke="#333" stroke-width="0.5"/><text x="601.5" y="474.2" font-size="4.5" text-anchor="middle" fill="#333">0</text><line x1="620.6" y1="469.0" x2="620.6" y2="470.0" stroke="#333" stroke-width="0.5"/><text x="620.6" y="474.2" font-size="4.5" text-anchor="middle" fill="#333">5</text><line x1="639.8" y1="469.0" x2="639.8" y2="470.0" stroke="#333" stroke-width="0.5"/><text x="639.8" y="474.2" font-size="4.5" text-anchor="middle" fill="#333">10</text><text x="619.3" y="479.3" font-size="5.0" text-anchor="middle" fill="#222">UMAP_1</text><text x="567.9" y="427.9" font-size="5.0" text-anchor="middle" fill="#222" transform="rotate(-90 567.9 427.9)">UMAP_2</text><g transform="translate(601.5 419.9) scale(0.1915 0.2040)" stroke-width="0.9"><g stroke="#6655af"><use href="#q6a11"/></g><g stroke="#c6bfda"><use href="#q6b10"/></g><g stroke="#6655af"><use href="#q12a01"/></g><g stroke="#4849a6"><use href="#q9c10"/></g><g stroke="#6151ad"><use href="#q8a01"/></g><g stroke="#4048a5"><use href="#q6c01"/></g><g stroke="#715db5"><use href="#q3c00"/></g><g stroke="#cdc8db"><use href="#q1a11"/></g><g stroke="#c8c2da"><use href="#q0d00"/></g><g stroke="#524ba8"><use href="#q1d11"/></g><g stroke="#c3bada"><use href="#q10a11"/></g><g stroke="#514ba8"><use href="#q8a11"/></g><g stroke="#715db4"><use href="#q7c00"/></g><g stroke="#6050ad"><use href="#q10a10"/></g><g stroke="#5d4eab"><use href="#q11b10"/></g><g stroke="#6856b0"><use href="#q1a10"/></g><g stroke="#564ba9"><use href="#q12b00"/></g><g stroke="#6756b0"><use href="#q12c00"/></g><g stroke="#534ba9"><use href="#q11c01"/></g><g stroke="#d3d0dc"><use href="#q0c00"/></g><g stroke="#4c4aa7"><use href="#q6d01"/></g><g stroke="#5f50ac"><use href="#q9d11"/></g><g stroke="#5e4fac"><use href="#q2c11"/></g><g stroke="#4048a5"><use href="#q10a01"/></g><g stroke="#cac4da"><use href="#q1d00"/></g><g stroke="#4749a6"><use href="#q8c11"/></g><g stroke="#4048a5"><use href="#q12a00"/></g><g stroke="#504ba8"><use href="#q13d00"/></g><g stroke="#574ca9"><use href="#q8d01"/></g><g stroke="#6f5bb4"><use href="#q5b10"/></g><g stroke="#d3d0dc"><use href="#q10a00"/></g><g stroke="#6151ad"><use href="#q7d10"/></g><g stroke="#594caa"><use href="#q2d00"/></g><g stroke="#d0cddb"><use href="#q11b00"/></g><g stroke="#6252ae"><use href="#q2a01"/></g><g stroke="#4349a5"><use href="#q9c00"/></g><g stroke="#3e48a4"><use href="#q6c00"/></g><g stroke="#745fb6"><use href="#q8b11"/></g><g stroke="#584caa"><use href="#q11a11"/></g><g stroke="#d5d3dc"><use href="#q4d01"/></g><g stroke="#3e48a4"><use href="#q11a01"/></g><g stroke="#4048a5"><use href="#q12b10"/></g><g stroke="#c8c2da"><use href="#q1d01"/></g><g stroke="#544ba9"><use href="#q10c00"/></g><g stroke="#4c4aa7"><use href="#q5c11"/></g><g stroke="#4c4aa7"><use href="#q7d00"/></g><g stroke="#c2b9d9"><use href="#q4b01"/></g><g stroke="#745fb6"><use href="#q10d01"/></g><g stroke="#534ba9"><use href="#q5d01"/></g><g stroke="#4e4aa8"><use href="#q2a00"/></g><g stroke="#4749a6"><use href="#q4a00"/></g><g stroke="#534ba9"><use href="#q13b00"/></g><g stroke="#c5bdda"><use href="#q5c00"/></g><g stroke="#cbc6db"><use href="#q4d11"/></g><g stroke="#5a4caa"><use href="#q5a00"/></g><g stroke="#514ba8"><use href="#q10b01"/></g><g stroke="#5d4eab"><use href="#q11b01"/></g><g stroke="#cac5db"><use href="#q0b01"/></g><g stroke="#4249a5"><use href="#q5a01"/></g><g stroke="#cdc9db"><use href="#q1c00"/></g><g stroke="#574ca9"><use href="#q10d00"/></g><g stroke="#4c4aa7"><use href="#q7c01"/></g><g stroke="#4a4aa7"><use href="#q1a01"/></g><g stroke="#594caa"><use href="#q2b10"/></g><g stroke="#5a4caa"><use href="#q10b00"/></g><g stroke="#4c4aa7"><use href="#q3a00"/></g><g stroke="#6f5bb4"><use href="#q12d10"/></g><g stroke="#6a58b1"><use href="#q9b11"/></g><g stroke="#574ca9"><use href="#q10d11"/></g><g stroke="#715cb4"><use href="#q4a01"/></g><g stroke="#524ba8"><use href="#q12d00"/></g><g stroke="#715db5"><use href="#q10b10"/></g><g stroke="#514ba8"><use href="#q7b01"/></g><g stroke="#cecadb"><use href="#q6d00"/></g><g stroke="#c1b8d9"><use href="#q3b01"/></g><g stroke="#4349a5"><use href="#q13c00"/></g><g stroke="#524ba8"><use href="#q4b11"/></g><g stroke="#534ba8"><use href="#q8c00"/></g><g stroke="#d1cedb"><use href="#q0a00"/></g><g stroke="#6353ae"><use href="#q1b01"/></g><g stroke="#5e4fac"><use href="#q6a10"/></g><g stroke="#4649a6"><use href="#q10d10"/></g><g stroke="#5d4eab"><use href="#q11d10"/></g><g stroke="#725eb5"><use href="#q9d01"/></g><g stroke="#4649a6"><use href="#q3c01"/></g><g stroke="#514ba8"><use href="#q5a11"/></g><g stroke="#6050ad"><use href="#q9a10"/></g><g stroke="#4e4aa8"><use href="#q8b00"/></g><g stroke="#6d5ab3"><use href="#q13a11"/></g><g stroke="#725db5"><use href="#q11b11"/></g><g stroke="#725db5"><use href="#q12c01"/></g><g stroke="#3f48a4"><use href="#q13b01"/></g><g stroke="#d3d1dc"><use href="#q3b00"/></g><g stroke="#5b4daa"><use href="#q11d00"/></g><g stroke="#725db5"><use href="#q7a10"/></g><g stroke="#514ba8"><use href="#q7a11"/></g><g stroke="#3f48a5"><use href="#q3d00"/></g><g stroke="#534ba8"><use href="#q13c10"/></g><g stroke="#4749a6"><use href="#q2d10"/></g><g stroke="#5c4eab"><use href="#q10c11"/></g><g stroke="#4b4aa7"><use href="#q12d01"/></g><g stroke="#d6d5dc"><use href="#q13a01"/></g><g stroke="#6e5ab3"><use href="#q13b10"/></g><g stroke="#6151ad"><use href="#q8d11"/></g><g stroke="#3f48a4"><use href="#q11d11"/></g><g stroke="#c8c2da"><use href="#q5b00"/></g><g stroke="#3e48a4"><use href="#q0a01"/></g><g stroke="#4048a5"><use href="#q6d11"/></g><g stroke="#6252ae"><use href="#q10c10"/></g><g stroke="#3e48a4"><use href="#q12b01"/></g><g stroke="#6252ae"><use href="#q8b10"/></g><g stroke="#c5beda"><use href="#q0b00"/></g><g stroke="#3d48a4"><use href="#q5c01"/></g><g stroke="#d3d1dc"><use href="#q4d00"/></g><g stroke="#6151ad"><use href="#q6c11"/></g><g stroke="#4e4aa7"><use href="#q11c11"/></g><g stroke="#494aa6"><use href="#q2c00"/></g><g stroke="#6a57b1"><use href="#q13c11"/></g><g stroke="#3f48a4"><use href="#q9a00"/></g><g stroke="#544ba9"><use href="#q12d11"/></g><g stroke="#6151ad"><use href="#q2c10"/></g><g stroke="#5a4caa"><use href="#q9b10"/></g><g stroke="#6e5ab3"><use href="#q2c01"/></g><g stroke="#6756b0"><use href="#q9a11"/></g><g stroke="#5e4fac"><use href="#q7c11"/></g><g stroke="#4749a6"><use href="#q6a01"/></g><g stroke="#5d4eab"><use href="#q8b01"/></g><g stroke="#4c4aa7"><use href="#q11c10"/></g><g stroke="#6856b0"><use href="#q11a00"/></g><g stroke="#6e5ab3"><use href="#q7c10"/></g><g stroke="#3e48a4"><use href="#q10b11"/></g><g stroke="#4749a6"><use href="#q6a00"/></g><g stroke="#4649a6"><use href="#q2b01"/></g><g stroke="#735eb5"><use href="#q5c10"/></g><g stroke="#6f5bb3"><use href="#q3d10"/></g><g stroke="#4749a6"><use href="#q7a00"/></g><g stroke="#cac5db"><use href="#q7a01"/></g><g stroke="#715db5"><use href="#q13d11"/></g><g stroke="#5c4dab"><use href="#q4b00"/></g><g stroke="#6957b1"><use href="#q8c10"/></g><g stroke="#4849a6"><use href="#q13b11"/></g><g stroke="#725eb5"><use href="#q12a11"/></g><g stroke="#4349a5"><use href="#q5b01"/></g><g stroke="#6453af"><use href="#q11c00"/></g><g stroke="#4449a6"><use href="#q2d01"/></g><g stroke="#524ba8"><use href="#q7d01"/></g><g stroke="#4649a6"><use href="#q12c11"/></g><g stroke="#705cb4"><use href="#q8d10"/></g><g stroke="#5f50ac"><use href="#q7b10"/></g><g stroke="#6453ae"><use href="#q5d10"/></g><g stroke="#4749a6"><use href="#q4c10"/></g><g stroke="#574ca9"><use href="#q7b00"/></g><g stroke="#c1b8d9"><use href="#q1b00"/></g><g stroke="#4f4ba8"><use href="#q8d00"/></g><g stroke="#494aa7"><use href="#q1a00"/></g><g stroke="#5b4caa"><use href="#q5b11"/></g><g stroke="#5c4eab"><use href="#q12a10"/></g><g stroke="#4549a6"><use href="#q4c11"/></g><g stroke="#d2cfdb"><use href="#q4c01"/></g><g stroke="#d1cedb"><use href="#q4a11"/></g><g stroke="#d6d5dc"><use href="#q0d01"/></g><g stroke="#cac5db"><use href="#q10c01"/></g><g stroke="#6454af"><use href="#q9d10"/></g><g stroke="#524ba8"><use href="#q13a10"/></g><g stroke="#4b4aa7"><use href="#q7d11"/></g><g stroke="#5d4eab"><use href="#q9c01"/></g><g stroke="#6453af"><use href="#q13c01"/></g><g stroke="#ccc7db"><use href="#q1c01"/></g><g stroke="#cac4db"><use href="#q3d01"/></g><g stroke="#494aa7"><use href="#q9c11"/></g><g stroke="#6655b0"><use href="#q1b11"/></g><g stroke="#5c4dab"><use href="#q13d01"/></g><g stroke="#594caa"><use href="#q9d00"/></g><g stroke="#5f4fac"><use href="#q9b00"/></g><g stroke="#4f4ba8"><use href="#q8a00"/></g><g stroke="#cdc8db"><use href="#q4d10"/></g><g stroke="#554ba9"><use href="#q13a00"/></g><g stroke="#d4d3dc"><use href="#q4c00"/></g><g stroke="#c2b9da"><use href="#q2b00"/></g><g stroke="#6655b0"><use href="#q11d01"/></g><g stroke="#6d5ab3"><use href="#q11a10"/></g><g stroke="#534ba9"><use href="#q8a10"/></g><g stroke="#4349a5"><use href="#q13d10"/></g><g stroke="#d2d0dc"><use href="#q6c10"/></g><g stroke="#494aa6"><use href="#q8c01"/></g><g stroke="#6554af"><use href="#q6b00"/></g><g stroke="#d1cfdb"><use href="#q3a01"/></g><g stroke="#594caa"><use href="#q5a10"/></g><g stroke="#4048a5"><use href="#q2b11"/></g><g stroke="#4048a5"><use href="#q12b11"/></g><g stroke="#4d4aa7"><use href="#q12c10"/></g><g stroke="#4b4aa7"><use href="#q9b01"/></g><g stroke="#514ba8"><use href="#q5d11"/></g><g stroke="#c2b9d9"><use href="#q6b11"/></g><g stroke="#554ba9"><use href="#q6b01"/></g><g stroke="#534ba9"><use href="#q6d10"/></g><g stroke="#d5d4dc"><use href="#q0c01"/></g><g stroke="#4749a6"><use href="#q7b11"/></g><g stroke="#484aa6"><use href="#q5d00"/></g><g stroke="#4e4aa7"><use href="#q9a01"/></g></g><rect x="662.50" y="415.50" width="4.80" height="25.40" fill="url(#eg)"/><line x1="662.5" y1="415.8" x2="663.4" y2="415.8" stroke="#fff" stroke-width="0.4"/><line x1="666.4" y1="415.8" x2="667.3" y2="415.8" stroke="#fff" stroke-width="0.4"/><text x="669.1" y="417.3" font-size="4.3" fill="#333">2.0</text><line x1="662.5" y1="422.0" x2="663.4" y2="422.0" stroke="#fff" stroke-width="0.4"/><line x1="666.4" y1="422.0" x2="667.3" y2="422.0" stroke="#fff" stroke-width="0.4"/><text x="669.1" y="423.5" font-size="4.3" fill="#333">1.5</text><line x1="662.5" y1="428.2" x2="663.4" y2="428.2" stroke="#fff" stroke-width="0.4"/><line x1="666.4" y1="428.2" x2="667.3" y2="428.2" stroke="#fff" stroke-width="0.4"/><text x="669.1" y="429.7" font-size="4.3" fill="#333">1.0</text><line x1="662.5" y1="434.4" x2="663.4" y2="434.4" stroke="#fff" stroke-width="0.4"/><line x1="666.4" y1="434.4" x2="667.3" y2="434.4" stroke="#fff" stroke-width="0.4"/><text x="669.1" y="435.9" font-size="4.3" fill="#333">0.5</text><line x1="662.5" y1="440.6" x2="663.4" y2="440.6" stroke="#fff" stroke-width="0.4"/><line x1="666.4" y1="440.6" x2="667.3" y2="440.6" stroke="#fff" stroke-width="0.4"/><text x="669.1" y="442.1" font-size="4.3" fill="#333">0.0</text><text x="352.7" y="493.1" font-size="7.7" text-anchor="middle" font-weight="bold" fill="#111">Meis1</text><line x1="311.1" y1="494.8" x2="311.1" y2="576.0" stroke="#b4b4b4" stroke-width="1.2"/><line x1="310.5" y1="575.4" x2="391.0" y2="575.4" stroke="#b4b4b4" stroke-width="1.2"/><line x1="309.5" y1="506.5" x2="310.5" y2="506.5" stroke="#333" stroke-width="0.5"/><text x="308.8" y="508.1" font-size="4.5" text-anchor="end" fill="#333">5</text><line x1="309.5" y1="526.9" x2="310.5" y2="526.9" stroke="#333" stroke-width="0.5"/><text x="308.8" y="528.5" font-size="4.5" text-anchor="end" fill="#333">0</text><line x1="309.5" y1="547.3" x2="310.5" y2="547.3" stroke="#333" stroke-width="0.5"/><text x="308.8" y="548.9" font-size="4.5" text-anchor="end" fill="#333">-5</text><line x1="309.5" y1="567.7" x2="310.5" y2="567.7" stroke="#333" stroke-width="0.5"/><text x="308.8" y="569.3" font-size="4.5" text-anchor="end" fill="#333">-10</text><line x1="314.6" y1="576.0" x2="314.6" y2="577.0" stroke="#333" stroke-width="0.5"/><text x="314.6" y="581.2" font-size="4.5" text-anchor="middle" fill="#333">-5</text><line x1="333.7" y1="576.0" x2="333.7" y2="577.0" stroke="#333" stroke-width="0.5"/><text x="333.7" y="581.2" font-size="4.5" text-anchor="middle" fill="#333">0</text><line x1="352.8" y1="576.0" x2="352.8" y2="577.0" stroke="#333" stroke-width="0.5"/><text x="352.8" y="581.2" font-size="4.5" text-anchor="middle" fill="#333">5</text><line x1="372.0" y1="576.0" x2="372.0" y2="577.0" stroke="#333" stroke-width="0.5"/><text x="372.0" y="581.2" font-size="4.5" text-anchor="middle" fill="#333">10</text><text x="351.5" y="586.3" font-size="5.0" text-anchor="middle" fill="#222">UMAP_1</text><text x="300.1" y="534.9" font-size="5.0" text-anchor="middle" fill="#222" transform="rotate(-90 300.1 534.9)">UMAP_2</text><g transform="translate(333.7 526.9) scale(0.1915 0.2040)" stroke-width="0.9"><g stroke="#745fb6"><use href="#q1b00"/></g><g stroke="#524ba8"><use href="#q10a00"/></g><g stroke="#534ba9"><use href="#q7d00"/></g><g stroke="#b6a8d8"><use href="#q2d00"/></g><g stroke="#514ba8"><use href="#q8c11"/></g><g stroke="#4249a5"><use href="#q2d01"/></g><g stroke="#524ba8"><use href="#q7b01"/></g><g stroke="#cec9db"><use href="#q3d00"/></g><g stroke="#6252ae"><use href="#q2c01"/></g><g stroke="#544ba9"><use href="#q4a11"/></g><g stroke="#4a4aa7"><use href="#q5d01"/></g><g stroke="#4e4aa7"><use href="#q5a11"/></g><g stroke="#4c4aa7"><use href="#q11a00"/></g><g stroke="#6352ae"><use href="#q12c11"/></g><g stroke="#6554af"><use href="#q12a11"/></g><g stroke="#6050ad"><use href="#q13d00"/></g><g stroke="#4549a6"><use href="#q11d10"/></g><g stroke="#c6beda"><use href="#q11c00"/></g><g stroke="#6b59b2"><use href="#q12a00"/></g><g stroke="#3e48a4"><use href="#q7b10"/></g><g stroke="#5d4eab"><use href="#q10c01"/></g><g stroke="#494aa7"><use href="#q5d10"/></g><g stroke="#4f4aa8"><use href="#q13a11"/></g><g stroke="#725db5"><use href="#q5c11"/></g><g stroke="#484aa6"><use href="#q13b01"/></g><g stroke="#534ba9"><use href="#q12c01"/></g><g stroke="#524ba8"><use href="#q6c11"/></g><g stroke="#4149a5"><use href="#q12d00"/></g><g stroke="#6252ad"><use href="#q8d00"/></g><g stroke="#3e48a4"><use href="#q10d10"/></g><g stroke="#4f4aa8"><use href="#q8c00"/></g><g stroke="#4149a5"><use href="#q13a10"/></g><g stroke="#494aa6"><use href="#q1b11"/></g><g stroke="#4549a6"><use href="#q6b10"/></g><g stroke="#c1b8d9"><use href="#q11b11"/></g><g stroke="#6252ae"><use href="#q11a01"/></g><g stroke="#4749a6"><use href="#q8b01"/></g><g stroke="#504ba8"><use href="#q13a00"/></g><g stroke="#4c4aa7"><use href="#q7c00"/></g><g stroke="#4c4aa7"><use href="#q9b11"/></g><g stroke="#6252ae"><use href="#q13b10"/></g><g stroke="#4549a6"><use href="#q11d01"/></g><g stroke="#5d4eab"><use href="#q6d01"/></g><g stroke="#6b58b2"><use href="#q7d10"/></g><g stroke="#6655b0"><use href="#q3a01"/></g><g stroke="#5d4eab"><use href="#q2b11"/></g><g stroke="#6e5bb3"><use href="#q5b11"/></g><g stroke="#5c4dab"><use href="#q6b00"/></g><g stroke="#6c59b2"><use href="#q10d11"/></g><g stroke="#4e4aa8"><use href="#q9a10"/></g><g stroke="#534ba9"><use href="#q0d01"/></g><g stroke="#4d4aa7"><use href="#q12b00"/></g><g stroke="#b9acd8"><use href="#q10d00"/></g><g stroke="#6c59b2"><use href="#q3b00"/></g><g stroke="#725db5"><use href="#q7a10"/></g><g stroke="#484aa6"><use href="#q12c10"/></g><g stroke="#c1b7d9"><use href="#q3d10"/></g><g stroke="#504ba8"><use href="#q4b01"/></g><g stroke="#4048a5"><use href="#q11a11"/></g><g stroke="#6e5bb3"><use href="#q5c10"/></g><g stroke="#4048a5"><use href="#q8d10"/></g><g stroke="#bbafd9"><use href="#q10b01"/></g><g stroke="#5b4daa"><use href="#q4a01"/></g><g stroke="#5f4fac"><use href="#q11c10"/></g><g stroke="#6a57b1"><use href="#q13c00"/></g><g stroke="#5d4eab"><use href="#q7c11"/></g><g stroke="#6151ad"><use href="#q12d10"/></g><g stroke="#4449a5"><use href="#q13a01"/></g><g stroke="#4b4aa7"><use href="#q2c10"/></g><g stroke="#6856b0"><use href="#q8d01"/></g><g stroke="#745fb6"><use href="#q2a00"/></g><g stroke="#bbafd9"><use href="#q5b00"/></g><g stroke="#715db4"><use href="#q8d11"/></g><g stroke="#6e5ab3"><use href="#q4c10"/></g><g stroke="#6453ae"><use href="#q4c00"/></g><g stroke="#4449a5"><use href="#q12c00"/></g><g stroke="#524ba8"><use href="#q3b01"/></g><g stroke="#4b4aa7"><use href="#q10c00"/></g><g stroke="#6b58b2"><use href="#q13d01"/></g><g stroke="#725eb5"><use href="#q3c01"/></g><g stroke="#5e4fac"><use href="#q3c00"/></g><g stroke="#494aa7"><use href="#q1b01"/></g><g stroke="#6655b0"><use href="#q5c00"/></g><g stroke="#6b58b2"><use href="#q4b00"/></g><g stroke="#4f4aa8"><use href="#q8a11"/></g><g stroke="#4449a6"><use href="#q0c01"/></g><g stroke="#4349a5"><use href="#q6a10"/></g><g stroke="#c7c0da"><use href="#q1a00"/></g><g stroke="#4f4aa8"><use href="#q6b11"/></g><g stroke="#6252ae"><use href="#q9b10"/></g><g stroke="#4449a5"><use href="#q0a00"/></g><g stroke="#4749a6"><use href="#q5d00"/></g><g stroke="#494aa6"><use href="#q1c00"/></g><g stroke="#735eb5"><use href="#q6d10"/></g><g stroke="#4449a6"><use href="#q8b10"/></g><g stroke="#5b4caa"><use href="#q11d00"/></g><g stroke="#745fb6"><use href="#q12d11"/></g><g stroke="#4649a6"><use href="#q12b10"/></g><g stroke="#6d5ab3"><use href="#q4c11"/></g><g stroke="#6d5ab3"><use href="#q6c00"/></g><g stroke="#6856b0"><use href="#q5a01"/></g><g stroke="#544ba9"><use href="#q13c10"/></g><g stroke="#6a58b1"><use href="#q9c00"/></g><g stroke="#b9acd8"><use href="#q3a00"/></g><g stroke="#4449a5"><use href="#q11a10"/></g><g stroke="#6654af"><use href="#q8a01"/></g><g stroke="#5a4caa"><use href="#q6a01"/></g><g stroke="#5b4daa"><use href="#q8c01"/></g><g stroke="#4549a6"><use href="#q5d11"/></g><g stroke="#6957b1"><use href="#q2d10"/></g><g stroke="#d4d3dc"><use href="#q7d01"/></g><g stroke="#4d4aa7"><use href="#q2b00"/></g><g stroke="#6453ae"><use href="#q10d01"/></g><g stroke="#6d5ab3"><use href="#q9a11"/></g><g stroke="#564ba9"><use href="#q10b10"/></g><g stroke="#6252ae"><use href="#q0c00"/></g><g stroke="#554ba9"><use href="#q11d11"/></g><g stroke="#5d4eab"><use href="#q13c01"/></g><g stroke="#cbc6db"><use href="#q5a10"/></g><g stroke="#4449a5"><use href="#q0b01"/></g><g stroke="#6856b0"><use href="#q1d11"/></g><g stroke="#4549a6"><use href="#q6d11"/></g><g stroke="#5d4eab"><use href="#q10c11"/></g><g stroke="#4b4aa7"><use href="#q1a01"/></g><g stroke="#594caa"><use href="#q9a00"/></g><g stroke="#705cb4"><use href="#q8a00"/></g><g stroke="#4d4aa7"><use href="#q13b11"/></g><g stroke="#6d5ab3"><use href="#q8b11"/></g><g stroke="#6e5ab3"><use href="#q4d00"/></g><g stroke="#6a58b1"><use href="#q2c00"/></g><g stroke="#6655af"><use href="#q8b00"/></g><g stroke="#4449a5"><use href="#q12b11"/></g><g stroke="#6856b0"><use href="#q4d01"/></g><g stroke="#514ba8"><use href="#q1c01"/></g><g stroke="#4048a5"><use href="#q0a01"/></g><g stroke="#735eb5"><use href="#q4a00"/></g><g stroke="#5f50ac"><use href="#q2b10"/></g><g stroke="#4549a6"><use href="#q2a01"/></g><g stroke="#524ba8"><use href="#q13c11"/></g><g stroke="#6856b0"><use href="#q11b00"/></g><g stroke="#6c59b2"><use href="#q4c01"/></g><g stroke="#6a58b1"><use href="#q12a10"/></g><g stroke="#6a57b1"><use href="#q1a11"/></g><g stroke="#6755b0"><use href="#q9b00"/></g><g stroke="#6151ad"><use href="#q11c01"/></g><g stroke="#6e5ab3"><use href="#q9c10"/></g><g stroke="#6957b1"><use href="#q9c11"/></g><g stroke="#6050ad"><use href="#q7b11"/></g><g stroke="#c9c3da"><use href="#q9d00"/></g><g stroke="#6856b0"><use href="#q0d00"/></g><g stroke="#6a58b1"><use href="#q6a00"/></g><g stroke="#3f48a4"><use href="#q10a10"/></g><g stroke="#cdc8db"><use href="#q5c01"/></g><g stroke="#5f50ac"><use href="#q7c10"/></g><g stroke="#534ba9"><use href="#q11c11"/></g><g stroke="#4e4aa8"><use href="#q7c01"/></g><g stroke="#d1cedb"><use href="#q6c10"/></g><g stroke="#574ca9"><use href="#q1a10"/></g><g stroke="#564ba9"><use href="#q5b10"/></g><g stroke="#4048a5"><use href="#q13d11"/></g><g stroke="#6b59b2"><use href="#q5b01"/></g><g stroke="#745fb6"><use href="#q8c10"/></g><g stroke="#d2cfdb"><use href="#q7a00"/></g><g stroke="#6050ad"><use href="#q2c11"/></g><g stroke="#4349a5"><use href="#q0b00"/></g><g stroke="#6957b1"><use href="#q10b11"/></g><g stroke="#504ba8"><use href="#q9a01"/></g><g stroke="#4149a5"><use href="#q9d11"/></g><g stroke="#4e4aa7"><use href="#q11b10"/></g><g stroke="#4c4aa7"><use href="#q4d11"/></g><g stroke="#4649a6"><use href="#q6a11"/></g><g stroke="#4d4aa7"><use href="#q7b00"/></g><g stroke="#4a4aa7"><use href="#q12b01"/></g><g stroke="#4d4aa7"><use href="#q6d00"/></g><g stroke="#6151ad"><use href="#q13d10"/></g><g stroke="#554ba9"><use href="#q4d10"/></g><g stroke="#544ba9"><use href="#q13b00"/></g><g stroke="#d2d0dc"><use href="#q7a01"/></g><g stroke="#6554af"><use href="#q2b01"/></g><g stroke="#4549a6"><use href="#q7d11"/></g><g stroke="#594caa"><use href="#q10a01"/></g><g stroke="#564ca9"><use href="#q10a11"/></g><g stroke="#715db5"><use href="#q8a10"/></g><g stroke="#715db5"><use href="#q3d01"/></g><g stroke="#4b4aa7"><use href="#q9c01"/></g><g stroke="#5c4dab"><use href="#q1d00"/></g><g stroke="#484aa6"><use href="#q9d01"/></g><g stroke="#4e4aa8"><use href="#q4b11"/></g><g stroke="#725db5"><use href="#q5a00"/></g><g stroke="#6e5ab3"><use href="#q9d10"/></g><g stroke="#715db4"><use href="#q6c01"/></g><g stroke="#3f48a4"><use href="#q12d01"/></g><g stroke="#cac4da"><use href="#q1d01"/></g><g stroke="#6151ad"><use href="#q7a11"/></g><g stroke="#715db5"><use href="#q10b00"/></g><g stroke="#4349a5"><use href="#q10c10"/></g><g stroke="#4649a6"><use href="#q9b01"/></g><g stroke="#cdc9db"><use href="#q6b01"/></g><g stroke="#6856b0"><use href="#q12a01"/></g><g stroke="#6352ae"><use href="#q11b01"/></g></g><rect x="395.70" y="522.50" width="4.80" height="25.40" fill="url(#eg)"/><line x1="395.7" y1="522.8" x2="396.6" y2="522.8" stroke="#fff" stroke-width="0.4"/><line x1="399.6" y1="522.8" x2="400.5" y2="522.8" stroke="#fff" stroke-width="0.4"/><text x="402.3" y="524.3" font-size="4.3" fill="#333">2.0</text><line x1="395.7" y1="529.0" x2="396.6" y2="529.0" stroke="#fff" stroke-width="0.4"/><line x1="399.6" y1="529.0" x2="400.5" y2="529.0" stroke="#fff" stroke-width="0.4"/><text x="402.3" y="530.5" font-size="4.3" fill="#333">1.5</text><line x1="395.7" y1="535.2" x2="396.6" y2="535.2" stroke="#fff" stroke-width="0.4"/><line x1="399.6" y1="535.2" x2="400.5" y2="535.2" stroke="#fff" stroke-width="0.4"/><text x="402.3" y="536.7" font-size="4.3" fill="#333">1.0</text><line x1="395.7" y1="541.4" x2="396.6" y2="541.4" stroke="#fff" stroke-width="0.4"/><line x1="399.6" y1="541.4" x2="400.5" y2="541.4" stroke="#fff" stroke-width="0.4"/><text x="402.3" y="542.9" font-size="4.3" fill="#333">0.5</text><line x1="395.7" y1="547.6" x2="396.6" y2="547.6" stroke="#fff" stroke-width="0.4"/><line x1="399.6" y1="547.6" x2="400.5" y2="547.6" stroke="#fff" stroke-width="0.4"/><text x="402.3" y="549.1" font-size="4.3" fill="#333">0.0</text><text x="484.8" y="493.1" font-size="7.7" text-anchor="middle" font-weight="bold" fill="#111">Hoxb4</text><line x1="444.4" y1="494.8" x2="444.4" y2="576.0" stroke="#b4b4b4" stroke-width="1.2"/><line x1="443.8" y1="575.4" x2="524.3" y2="575.4" stroke="#b4b4b4" stroke-width="1.2"/><line x1="442.8" y1="506.5" x2="443.8" y2="506.5" stroke="#333" stroke-width="0.5"/><text x="442.1" y="508.1" font-size="4.5" text-anchor="end" fill="#333">5</text><line x1="442.8" y1="526.9" x2="443.8" y2="526.9" stroke="#333" stroke-width="0.5"/><text x="442.1" y="528.5" font-size="4.5" text-anchor="end" fill="#333">0</text><line x1="442.8" y1="547.3" x2="443.8" y2="547.3" stroke="#333" stroke-width="0.5"/><text x="442.1" y="548.9" font-size="4.5" text-anchor="end" fill="#333">-5</text><line x1="442.8" y1="567.7" x2="443.8" y2="567.7" stroke="#333" stroke-width="0.5"/><text x="442.1" y="569.3" font-size="4.5" text-anchor="end" fill="#333">-10</text><line x1="447.9" y1="576.0" x2="447.9" y2="577.0" stroke="#333" stroke-width="0.5"/><text x="447.9" y="581.2" font-size="4.5" text-anchor="middle" fill="#333">-5</text><line x1="467.0" y1="576.0" x2="467.0" y2="577.0" stroke="#333" stroke-width="0.5"/><text x="467.0" y="581.2" font-size="4.5" text-anchor="middle" fill="#333">0</text><line x1="486.1" y1="576.0" x2="486.1" y2="577.0" stroke="#333" stroke-width="0.5"/><text x="486.1" y="581.2" font-size="4.5" text-anchor="middle" fill="#333">5</text><line x1="505.3" y1="576.0" x2="505.3" y2="577.0" stroke="#333" stroke-width="0.5"/><text x="505.3" y="581.2" font-size="4.5" text-anchor="middle" fill="#333">10</text><text x="484.8" y="586.3" font-size="5.0" text-anchor="middle" fill="#222">UMAP_1</text><text x="433.4" y="534.9" font-size="5.0" text-anchor="middle" fill="#222" transform="rotate(-90 433.4 534.9)">UMAP_2</text><g transform="translate(467.0 526.9) scale(0.1915 0.2040)" stroke-width="0.9"><g stroke="#4f4ba8"><use href="#q10a11"/></g><g stroke="#d6d5dc"><use href="#q5d11"/></g><g stroke="#d6d5dc"><use href="#q11a00"/></g><g stroke="#494aa6"><use href="#q10a10"/></g><g stroke="#d6d5dc"><use href="#q9c00"/></g><g stroke="#d6d5dc"><use href="#q9d11"/></g><g stroke="#d6d5dc"><use href="#q0a01"/></g><g stroke="#d6d5dc"><use href="#q11d01"/></g><g stroke="#d6d5dc"><use href="#q10d00"/></g><g stroke="#d6d5dc"><use href="#q8b11"/></g><g stroke="#4749a6"><use href="#q10d11"/></g><g stroke="#d6d5dc"><use href="#q10c00"/></g><g stroke="#d6d5dc"><use href="#q7b10"/></g><g stroke="#d6d5dc"><use href="#q12b01"/></g><g stroke="#4849a6"><use href="#q12c11"/></g><g stroke="#d6d5dc"><use href="#q8c00"/></g><g stroke="#d6d5dc"><use href="#q1a11"/></g><g stroke="#d6d5dc"><use href="#q4d10"/></g><g stroke="#d6d5dc"><use href="#q0d01"/></g><g stroke="#6352ae"><use href="#q5b10"/></g><g stroke="#d6d5dc"><use href="#q5d01"/></g><g stroke="#5b4daa"><use href="#q11c10"/></g><g stroke="#d6d5dc"><use href="#q4a01"/></g><g stroke="#d6d5dc"><use href="#q5b01"/></g><g stroke="#524ba8"><use href="#q4c11"/></g><g stroke="#3f48a4"><use href="#q12a11"/></g><g stroke="#3f48a4"><use href="#q13b10"/></g><g stroke="#d6d5dc"><use href="#q8a10"/></g><g stroke="#4b4aa7"><use href="#q3b00"/></g><g stroke="#d6d5dc"><use href="#q13b00"/></g><g stroke="#d6d5dc"><use href="#q12c10"/></g><g stroke="#4649a6"><use href="#q13d11"/></g><g stroke="#d6d5dc"><use href="#q4c00"/></g><g stroke="#6b59b2"><use href="#q7c00"/></g><g stroke="#4e4aa8"><use href="#q4d01"/></g><g stroke="#4149a5"><use href="#q12b11"/></g><g stroke="#d6d5dc"><use href="#q0a00"/></g><g stroke="#4549a6"><use href="#q10b00"/></g><g stroke="#d6d5dc"><use href="#q1a01"/></g><g stroke="#484aa6"><use href="#q11d00"/></g><g stroke="#d6d5dc"><use href="#q13c01"/></g><g stroke="#4749a6"><use href="#q9b01"/></g><g stroke="#d6d5dc"><use href="#q6c10"/></g><g stroke="#d6d5dc"><use href="#q2c10"/></g><g stroke="#d6d5dc"><use href="#q12b00"/></g><g stroke="#d6d5dc"><use href="#q1b11"/></g><g stroke="#d6d5dc"><use href="#q7a11"/></g><g stroke="#d6d5dc"><use href="#q8b00"/></g><g stroke="#d6d5dc"><use href="#q5b11"/></g><g stroke="#d6d5dc"><use href="#q12a01"/></g><g stroke="#d6d5dc"><use href="#q8d01"/></g><g stroke="#d6d5dc"><use href="#q12a10"/></g><g stroke="#d6d5dc"><use href="#q8d00"/></g><g stroke="#d6d5dc"><use href="#q9d01"/></g><g stroke="#d6d5dc"><use href="#q2c01"/></g><g stroke="#d6d5dc"><use href="#q6b10"/></g><g stroke="#504ba8"><use href="#q11c11"/></g><g stroke="#4649a6"><use href="#q9c01"/></g><g stroke="#4549a6"><use href="#q4b11"/></g><g stroke="#d6d5dc"><use href="#q3d01"/></g><g stroke="#4b4aa7"><use href="#q9c11"/></g><g stroke="#d6d5dc"><use href="#q13d10"/></g><g stroke="#3f48a4"><use href="#q10b01"/></g><g stroke="#d6d5dc"><use href="#q2b00"/></g><g stroke="#d6d5dc"><use href="#q1d00"/></g><g stroke="#d6d5dc"><use href="#q6b01"/></g><g stroke="#534ba9"><use href="#q9b10"/></g><g stroke="#6554af"><use href="#q5a11"/></g><g stroke="#d6d5dc"><use href="#q11a01"/></g><g stroke="#574ca9"><use href="#q9d10"/></g><g stroke="#d6d5dc"><use href="#q13c11"/></g><g stroke="#5b4daa"><use href="#q0c00"/></g><g stroke="#d6d5dc"><use href="#q11d10"/></g><g stroke="#d6d5dc"><use href="#q7d00"/></g><g stroke="#5f4fac"><use href="#q10d10"/></g><g stroke="#d6d5dc"><use href="#q13a01"/></g><g stroke="#d6d5dc"><use href="#q9a10"/></g><g stroke="#584caa"><use href="#q11a10"/></g><g stroke="#d6d5dc"><use href="#q3b01"/></g><g stroke="#5c4eab"><use href="#q11b11"/></g><g stroke="#d6d5dc"><use href="#q2c11"/></g><g stroke="#d6d5dc"><use href="#q3d00"/></g><g stroke="#d6d5dc"><use href="#q4c01"/></g><g stroke="#584caa"><use href="#q10d01"/></g><g stroke="#d6d5dc"><use href="#q8a00"/></g><g stroke="#5e4fac"><use href="#q1d11"/></g><g stroke="#d6d5dc"><use href="#q6b11"/></g><g stroke="#4749a6"><use href="#q3a00"/></g><g stroke="#524ba8"><use href="#q7c10"/></g><g stroke="#5e4fac"><use href="#q7d10"/></g><g stroke="#d6d5dc"><use href="#q5c11"/></g><g stroke="#4c4aa7"><use href="#q9a11"/></g><g stroke="#d6d5dc"><use href="#q0b01"/></g><g stroke="#d6d5dc"><use href="#q0d00"/></g><g stroke="#6453af"><use href="#q5d10"/></g><g stroke="#d6d5dc"><use href="#q5b00"/></g><g stroke="#d6d5dc"><use href="#q1a00"/></g><g stroke="#4048a5"><use href="#q12d01"/></g><g stroke="#d6d5dc"><use href="#q1b01"/></g><g stroke="#d6d5dc"><use href="#q11b00"/></g><g stroke="#524ba8"><use href="#q10c10"/></g><g stroke="#d6d5dc"><use href="#q2c00"/></g><g stroke="#d6d5dc"><use href="#q1a10"/></g><g stroke="#484aa6"><use href="#q11c00"/></g><g stroke="#4a4aa7"><use href="#q11b10"/></g><g stroke="#d6d5dc"><use href="#q8d11"/></g><g stroke="#d6d5dc"><use href="#q2d10"/></g><g stroke="#d6d5dc"><use href="#q6d00"/></g><g stroke="#d6d5dc"><use href="#q2d00"/></g><g stroke="#4749a6"><use href="#q7b01"/></g><g stroke="#d6d5dc"><use href="#q1c01"/></g><g stroke="#d6d5dc"><use href="#q13d00"/></g><g stroke="#d6d5dc"><use href="#q8b01"/></g><g stroke="#d6d5dc"><use href="#q2b01"/></g><g stroke="#d6d5dc"><use href="#q2a01"/></g><g stroke="#6453ae"><use href="#q4d00"/></g><g stroke="#d6d5dc"><use href="#q5a01"/></g><g stroke="#4449a5"><use href="#q12a00"/></g><g stroke="#584caa"><use href="#q6a11"/></g><g stroke="#514ba8"><use href="#q7b11"/></g><g stroke="#d6d5dc"><use href="#q4b01"/></g><g stroke="#5e4fac"><use href="#q9a00"/></g><g stroke="#6453af"><use href="#q8b10"/></g><g stroke="#6151ad"><use href="#q7c11"/></g><g stroke="#4b4aa7"><use href="#q5a00"/></g><g stroke="#d6d5dc"><use href="#q8c01"/></g><g stroke="#d6d5dc"><use href="#q13c00"/></g><g stroke="#524ba8"><use href="#q12d00"/></g><g stroke="#d6d5dc"><use href="#q5d00"/></g><g stroke="#d6d5dc"><use href="#q6a10"/></g><g stroke="#d6d5dc"><use href="#q6c01"/></g><g stroke="#6655b0"><use href="#q13a11"/></g><g stroke="#d6d5dc"><use href="#q5a10"/></g><g stroke="#d6d5dc"><use href="#q6d11"/></g><g stroke="#6252ae"><use href="#q12c01"/></g><g stroke="#594caa"><use href="#q12d10"/></g><g stroke="#d6d5dc"><use href="#q1d01"/></g><g stroke="#504ba8"><use href="#q7d11"/></g><g stroke="#554ba9"><use href="#q13c10"/></g><g stroke="#564ba9"><use href="#q6d10"/></g><g stroke="#d6d5dc"><use href="#q4a00"/></g><g stroke="#d6d5dc"><use href="#q3c00"/></g><g stroke="#d6d5dc"><use href="#q8d10"/></g><g stroke="#4b4aa7"><use href="#q6a01"/></g><g stroke="#d6d5dc"><use href="#q7c01"/></g><g stroke="#d6d5dc"><use href="#q2a00"/></g><g stroke="#d6d5dc"><use href="#q8c10"/></g><g stroke="#4b4aa7"><use href="#q13a10"/></g><g stroke="#4a4aa7"><use href="#q9c10"/></g><g stroke="#d6d5dc"><use href="#q6c11"/></g><g stroke="#4549a6"><use href="#q7a10"/></g><g stroke="#d6d5dc"><use href="#q6a00"/></g><g stroke="#d6d5dc"><use href="#q4a11"/></g><g stroke="#d6d5dc"><use href="#q10a01"/></g><g stroke="#594caa"><use href="#q11b01"/></g><g stroke="#514ba8"><use href="#q10c11"/></g><g stroke="#d6d5dc"><use href="#q4c10"/></g><g stroke="#d6d5dc"><use href="#q11a11"/></g><g stroke="#d6d5dc"><use href="#q7a01"/></g><g stroke="#d6d5dc"><use href="#q2d01"/></g><g stroke="#d6d5dc"><use href="#q8a01"/></g><g stroke="#d6d5dc"><use href="#q0c01"/></g><g stroke="#4048a5"><use href="#q7a00"/></g><g stroke="#d6d5dc"><use href="#q12b10"/></g><g stroke="#574ca9"><use href="#q10b10"/></g><g stroke="#d6d5dc"><use href="#q12d11"/></g><g stroke="#5e4fac"><use href="#q11d11"/></g><g stroke="#d6d5dc"><use href="#q7b00"/></g><g stroke="#d6d5dc"><use href="#q5c10"/></g><g stroke="#d6d5dc"><use href="#q6d01"/></g><g stroke="#d6d5dc"><use href="#q8c11"/></g><g stroke="#d6d5dc"><use href="#q2b10"/></g><g stroke="#6252ae"><use href="#q13b11"/></g><g stroke="#d6d5dc"><use href="#q13d01"/></g><g stroke="#d6d5dc"><use href="#q5c01"/></g><g stroke="#5a4caa"><use href="#q4d11"/></g><g stroke="#d6d5dc"><use href="#q1c00"/></g><g stroke="#484aa6"><use href="#q3d10"/></g><g stroke="#d6d5dc"><use href="#q12c00"/></g><g stroke="#594caa"><use href="#q2b11"/></g><g stroke="#564ba9"><use href="#q7d01"/></g><g stroke="#d6d5dc"><use href="#q1b00"/></g><g stroke="#d6d5dc"><use href="#q10c01"/></g><g stroke="#6252ae"><use href="#q10b11"/></g><g stroke="#d6d5dc"><use href="#q5c00"/></g><g stroke="#6b58b2"><use href="#q6b00"/></g><g stroke="#3f48a4"><use href="#q9b00"/></g><g stroke="#d6d5dc"><use href="#q6c00"/></g><g stroke="#d6d5dc"><use href="#q13a00"/></g><g stroke="#6b58b2"><use href="#q10a00"/></g><g stroke="#4c4aa7"><use href="#q9d00"/></g><g stroke="#504ba8"><use href="#q11c01"/></g><g stroke="#5e4fac"><use href="#q3a01"/></g><g stroke="#4449a5"><use href="#q9b11"/></g><g stroke="#504ba8"><use href="#q8a11"/></g><g stroke="#5e4fac"><use href="#q4b00"/></g><g stroke="#504ba8"><use href="#q0b00"/></g><g stroke="#4e4aa8"><use href="#q9a01"/></g><g stroke="#d6d5dc"><use href="#q3c01"/></g><g stroke="#5e4fac"><use href="#q13b01"/></g></g><rect x="528.00" y="522.50" width="4.80" height="25.40" fill="url(#eg)"/><line x1="528.0" y1="522.8" x2="528.9" y2="522.8" stroke="#fff" stroke-width="0.4"/><line x1="531.9" y1="522.8" x2="532.8" y2="522.8" stroke="#fff" stroke-width="0.4"/><text x="534.6" y="524.3" font-size="4.3" fill="#333">1.00</text><line x1="528.0" y1="529.0" x2="528.9" y2="529.0" stroke="#fff" stroke-width="0.4"/><line x1="531.9" y1="529.0" x2="532.8" y2="529.0" stroke="#fff" stroke-width="0.4"/><text x="534.6" y="530.5" font-size="4.3" fill="#333">0.75</text><line x1="528.0" y1="535.2" x2="528.9" y2="535.2" stroke="#fff" stroke-width="0.4"/><line x1="531.9" y1="535.2" x2="532.8" y2="535.2" stroke="#fff" stroke-width="0.4"/><text x="534.6" y="536.7" font-size="4.3" fill="#333">0.50</text><line x1="528.0" y1="541.4" x2="528.9" y2="541.4" stroke="#fff" stroke-width="0.4"/><line x1="531.9" y1="541.4" x2="532.8" y2="541.4" stroke="#fff" stroke-width="0.4"/><text x="534.6" y="542.9" font-size="4.3" fill="#333">0.25</text><line x1="528.0" y1="547.6" x2="528.9" y2="547.6" stroke="#fff" stroke-width="0.4"/><line x1="531.9" y1="547.6" x2="532.8" y2="547.6" stroke="#fff" stroke-width="0.4"/><text x="534.6" y="549.1" font-size="4.3" fill="#333">0.00</text><text x="621.0" y="493.1" font-size="7.7" text-anchor="middle" font-weight="bold" fill="#111">Hoxb5</text><line x1="578.9" y1="494.8" x2="578.9" y2="576.0" stroke="#b4b4b4" stroke-width="1.2"/><line x1="578.3" y1="575.4" x2="658.8" y2="575.4" stroke="#b4b4b4" stroke-width="1.2"/><line x1="577.3" y1="506.5" x2="578.3" y2="506.5" stroke="#333" stroke-width="0.5"/><text x="576.6" y="508.1" font-size="4.5" text-anchor="end" fill="#333">5</text><line x1="577.3" y1="526.9" x2="578.3" y2="526.9" stroke="#333" stroke-width="0.5"/><text x="576.6" y="528.5" font-size="4.5" text-anchor="end" fill="#333">0</text><line x1="577.3" y1="547.3" x2="578.3" y2="547.3" stroke="#333" stroke-width="0.5"/><text x="576.6" y="548.9" font-size="4.5" text-anchor="end" fill="#333">-5</text><line x1="577.3" y1="567.7" x2="578.3" y2="567.7" stroke="#333" stroke-width="0.5"/><text x="576.6" y="569.3" font-size="4.5" text-anchor="end" fill="#333">-10</text><line x1="582.4" y1="576.0" x2="582.4" y2="577.0" stroke="#333" stroke-width="0.5"/><text x="582.4" y="581.2" font-size="4.5" text-anchor="middle" fill="#333">-5</text><line x1="601.5" y1="576.0" x2="601.5" y2="577.0" stroke="#333" stroke-width="0.5"/><text x="601.5" y="581.2" font-size="4.5" text-anchor="middle" fill="#333">0</text><line x1="620.6" y1="576.0" x2="620.6" y2="577.0" stroke="#333" stroke-width="0.5"/><text x="620.6" y="581.2" font-size="4.5" text-anchor="middle" fill="#333">5</text><line x1="639.8" y1="576.0" x2="639.8" y2="577.0" stroke="#333" stroke-width="0.5"/><text x="639.8" y="581.2" font-size="4.5" text-anchor="middle" fill="#333">10</text><text x="619.3" y="586.3" font-size="5.0" text-anchor="middle" fill="#222">UMAP_1</text><text x="567.9" y="534.9" font-size="5.0" text-anchor="middle" fill="#222" transform="rotate(-90 567.9 534.9)">UMAP_2</text><g transform="translate(601.5 526.9) scale(0.1915 0.2040)" stroke-width="0.9"><g stroke="#d6d5dc"><use href="#q5c01"/></g><g stroke="#544ba9"><use href="#q9a11"/></g><g stroke="#d6d5dc"><use href="#q6d11"/></g><g stroke="#d6d5dc"><use href="#q1d11"/></g><g stroke="#d6d5dc"><use href="#q11a00"/></g><g stroke="#5e4fac"><use href="#q12b10"/></g><g stroke="#d6d5dc"><use href="#q11d01"/></g><g stroke="#d6d5dc"><use href="#q8d00"/></g><g stroke="#d6d5dc"><use href="#q1a10"/></g><g stroke="#d6d5dc"><use href="#q1c00"/></g><g stroke="#d6d5dc"><use href="#q1d01"/></g><g stroke="#d6d5dc"><use href="#q0a00"/></g><g stroke="#d6d5dc"><use href="#q4b00"/></g><g stroke="#d6d5dc"><use href="#q4a01"/></g><g stroke="#d6d5dc"><use href="#q13a01"/></g><g stroke="#d6d5dc"><use href="#q5c00"/></g><g stroke="#d6d5dc"><use href="#q9c01"/></g><g stroke="#d6d5dc"><use href="#q6a11"/></g><g stroke="#d6d5dc"><use href="#q10d01"/></g><g stroke="#d6d5dc"><use href="#q5d01"/></g><g stroke="#d6d5dc"><use href="#q1b11"/></g><g stroke="#d6d5dc"><use href="#q6a00"/></g><g stroke="#d6d5dc"><use href="#q0b00"/></g><g stroke="#d6d5dc"><use href="#q5b00"/></g><g stroke="#d6d5dc"><use href="#q2b01"/></g><g stroke="#d6d5dc"><use href="#q8b00"/></g><g stroke="#d6d5dc"><use href="#q13c00"/></g><g stroke="#d6d5dc"><use href="#q4a00"/></g><g stroke="#d6d5dc"><use href="#q11c10"/></g><g stroke="#594caa"><use href="#q11b01"/></g><g stroke="#d6d5dc"><use href="#q8b11"/></g><g stroke="#d6d5dc"><use href="#q8d01"/></g><g stroke="#d6d5dc"><use href="#q1c01"/></g><g stroke="#d6d5dc"><use href="#q7d10"/></g><g stroke="#5f50ac"><use href="#q7a01"/></g><g stroke="#d6d5dc"><use href="#q1b00"/></g><g stroke="#d6d5dc"><use href="#q4d11"/></g><g stroke="#494aa6"><use href="#q13d11"/></g><g stroke="#4c4aa7"><use href="#q12c10"/></g><g stroke="#d6d5dc"><use href="#q8d11"/></g><g stroke="#d6d5dc"><use href="#q10a11"/></g><g stroke="#d6d5dc"><use href="#q11a01"/></g><g stroke="#d6d5dc"><use href="#q8c11"/></g><g stroke="#d6d5dc"><use href="#q8c00"/></g><g stroke="#524ba8"><use href="#q9d11"/></g><g stroke="#6a58b1"><use href="#q6a10"/></g><g stroke="#d6d5dc"><use href="#q5b11"/></g><g stroke="#554ba9"><use href="#q1a11"/></g><g stroke="#d6d5dc"><use href="#q11b10"/></g><g stroke="#d6d5dc"><use href="#q2d10"/></g><g stroke="#d6d5dc"><use href="#q4b01"/></g><g stroke="#d6d5dc"><use href="#q7d01"/></g><g stroke="#d6d5dc"><use href="#q9c10"/></g><g stroke="#d6d5dc"><use href="#q13c01"/></g><g stroke="#d6d5dc"><use href="#q4d01"/></g><g stroke="#d6d5dc"><use href="#q2c11"/></g><g stroke="#d6d5dc"><use href="#q1a01"/></g><g stroke="#3e48a4"><use href="#q13a10"/></g><g stroke="#d6d5dc"><use href="#q12c11"/></g><g stroke="#d6d5dc"><use href="#q4a11"/></g><g stroke="#d6d5dc"><use href="#q0b01"/></g><g stroke="#d6d5dc"><use href="#q6c11"/></g><g stroke="#d6d5dc"><use href="#q13b10"/></g><g stroke="#d6d5dc"><use href="#q10b00"/></g><g stroke="#d6d5dc"><use href="#q7d11"/></g><g stroke="#d6d5dc"><use href="#q2a01"/></g><g stroke="#d6d5dc"><use href="#q11d00"/></g><g stroke="#d6d5dc"><use href="#q3b01"/></g><g stroke="#5e4fac"><use href="#q10d11"/></g><g stroke="#d6d5dc"><use href="#q7b01"/></g><g stroke="#d6d5dc"><use href="#q12a11"/></g><g stroke="#d6d5dc"><use href="#q11b11"/></g><g stroke="#d6d5dc"><use href="#q2b10"/></g><g stroke="#564ba9"><use href="#q10b01"/></g><g stroke="#d6d5dc"><use href="#q6c00"/></g><g stroke="#4549a6"><use href="#q9b11"/></g><g stroke="#d6d5dc"><use href="#q5d11"/></g><g stroke="#d6d5dc"><use href="#q8a11"/></g><g stroke="#4c4aa7"><use href="#q7c10"/></g><g stroke="#6151ad"><use href="#q7a10"/></g><g stroke="#d6d5dc"><use href="#q6d10"/></g><g stroke="#d6d5dc"><use href="#q8a00"/></g><g stroke="#d6d5dc"><use href="#q7d00"/></g><g stroke="#5a4caa"><use href="#q11a11"/></g><g stroke="#d6d5dc"><use href="#q5a01"/></g><g stroke="#d6d5dc"><use href="#q1b01"/></g><g stroke="#d6d5dc"><use href="#q5c10"/></g><g stroke="#d6d5dc"><use href="#q9c11"/></g><g stroke="#d6d5dc"><use href="#q6c10"/></g><g stroke="#4b4aa7"><use href="#q5c11"/></g><g stroke="#d6d5dc"><use href="#q10c01"/></g><g stroke="#d6d5dc"><use href="#q6b00"/></g><g stroke="#6655af"><use href="#q6a01"/></g><g stroke="#d6d5dc"><use href="#q13b01"/></g><g stroke="#d6d5dc"><use href="#q4c10"/></g><g stroke="#d6d5dc"><use href="#q12a01"/></g><g stroke="#d6d5dc"><use href="#q7b00"/></g><g stroke="#d6d5dc"><use href="#q10d10"/></g><g stroke="#d6d5dc"><use href="#q7b10"/></g><g stroke="#d6d5dc"><use href="#q13a11"/></g><g stroke="#d6d5dc"><use href="#q0c01"/></g><g stroke="#d6d5dc"><use href="#q9d00"/></g><g stroke="#d6d5dc"><use href="#q12c00"/></g><g stroke="#d6d5dc"><use href="#q4d10"/></g><g stroke="#d6d5dc"><use href="#q2d01"/></g><g stroke="#5e4fac"><use href="#q13c10"/></g><g stroke="#d6d5dc"><use href="#q11c11"/></g><g stroke="#d6d5dc"><use href="#q7a00"/></g><g stroke="#d6d5dc"><use href="#q5b10"/></g><g stroke="#494aa7"><use href="#q6b10"/></g><g stroke="#d6d5dc"><use href="#q5a00"/></g><g stroke="#d6d5dc"><use href="#q2b00"/></g><g stroke="#d6d5dc"><use href="#q1a00"/></g><g stroke="#d6d5dc"><use href="#q2c00"/></g><g stroke="#d6d5dc"><use href="#q7c00"/></g><g stroke="#d6d5dc"><use href="#q2b11"/></g><g stroke="#4e4aa7"><use href="#q6d01"/></g><g stroke="#574ca9"><use href="#q13d10"/></g><g stroke="#4d4aa7"><use href="#q9b10"/></g><g stroke="#d6d5dc"><use href="#q9b00"/></g><g stroke="#d6d5dc"><use href="#q10a01"/></g><g stroke="#5e4fac"><use href="#q8d10"/></g><g stroke="#d6d5dc"><use href="#q0a01"/></g><g stroke="#d6d5dc"><use href="#q7c01"/></g><g stroke="#3e48a4"><use href="#q12d10"/></g><g stroke="#d6d5dc"><use href="#q0c00"/></g><g stroke="#d6d5dc"><use href="#q2c10"/></g><g stroke="#d6d5dc"><use href="#q4c01"/></g><g stroke="#d6d5dc"><use href="#q3d10"/></g><g stroke="#d6d5dc"><use href="#q12c01"/></g><g stroke="#d6d5dc"><use href="#q9a01"/></g><g stroke="#d6d5dc"><use href="#q9b01"/></g><g stroke="#4e4aa8"><use href="#q7c11"/></g><g stroke="#d6d5dc"><use href="#q10c11"/></g><g stroke="#d6d5dc"><use href="#q7b11"/></g><g stroke="#d6d5dc"><use href="#q9a00"/></g><g stroke="#d6d5dc"><use href="#q9c00"/></g><g stroke="#d6d5dc"><use href="#q12b00"/></g><g stroke="#6856b0"><use href="#q9a10"/></g><g stroke="#d6d5dc"><use href="#q2a00"/></g><g stroke="#d6d5dc"><use href="#q7a11"/></g><g stroke="#d6d5dc"><use href="#q13b11"/></g><g stroke="#544ba9"><use href="#q10b11"/></g><g stroke="#d6d5dc"><use href="#q12a00"/></g><g stroke="#d6d5dc"><use href="#q5a11"/></g><g stroke="#d6d5dc"><use href="#q5d00"/></g><g stroke="#d6d5dc"><use href="#q0d00"/></g><g stroke="#d6d5dc"><use href="#q11c01"/></g><g stroke="#4a4aa7"><use href="#q12d11"/></g><g stroke="#d6d5dc"><use href="#q2c01"/></g><g stroke="#d6d5dc"><use href="#q4c00"/></g><g stroke="#d6d5dc"><use href="#q3c01"/></g><g stroke="#d6d5dc"><use href="#q5d10"/></g><g stroke="#d6d5dc"><use href="#q8c01"/></g><g stroke="#d6d5dc"><use href="#q6b01"/></g><g stroke="#d6d5dc"><use href="#q13d01"/></g><g stroke="#d6d5dc"><use href="#q8a01"/></g><g stroke="#d6d5dc"><use href="#q13d00"/></g><g stroke="#d6d5dc"><use href="#q0d01"/></g><g stroke="#d6d5dc"><use href="#q12a10"/></g><g stroke="#4649a6"><use href="#q11d10"/></g><g stroke="#d6d5dc"><use href="#q4b11"/></g><g stroke="#d6d5dc"><use href="#q2d00"/></g><g stroke="#d6d5dc"><use href="#q10a00"/></g><g stroke="#d6d5dc"><use href="#q10b10"/></g><g stroke="#d6d5dc"><use href="#q1d00"/></g><g stroke="#d6d5dc"><use href="#q6c01"/></g><g stroke="#d6d5dc"><use href="#q3d01"/></g><g stroke="#d6d5dc"><use href="#q10c00"/></g><g stroke="#d6d5dc"><use href="#q12d01"/></g><g stroke="#d6d5dc"><use href="#q3c00"/></g><g stroke="#6454af"><use href="#q8b10"/></g><g stroke="#d6d5dc"><use href="#q3a01"/></g><g stroke="#d6d5dc"><use href="#q9d10"/></g><g stroke="#4048a5"><use href="#q13b00"/></g><g stroke="#d6d5dc"><use href="#q12d00"/></g><g stroke="#d6d5dc"><use href="#q4c11"/></g><g stroke="#3d48a4"><use href="#q13c11"/></g><g stroke="#d6d5dc"><use href="#q13a00"/></g><g stroke="#574ca9"><use href="#q10d00"/></g><g stroke="#d6d5dc"><use href="#q3b00"/></g><g stroke="#544ba9"><use href="#q11d11"/></g><g stroke="#d6d5dc"><use href="#q4d00"/></g><g stroke="#d6d5dc"><use href="#q3a00"/></g><g stroke="#4b4aa7"><use href="#q10a10"/></g><g stroke="#d6d5dc"><use href="#q8c10"/></g><g stroke="#d6d5dc"><use href="#q6d00"/></g><g stroke="#594caa"><use href="#q11a10"/></g><g stroke="#4048a5"><use href="#q6b11"/></g><g stroke="#d6d5dc"><use href="#q8b01"/></g><g stroke="#d6d5dc"><use href="#q3d00"/></g><g stroke="#4a4aa7"><use href="#q10c10"/></g><g stroke="#d6d5dc"><use href="#q5b01"/></g><g stroke="#d6d5dc"><use href="#q8a10"/></g><g stroke="#d6d5dc"><use href="#q5a10"/></g><g stroke="#6151ad"><use href="#q12b11"/></g><g stroke="#d6d5dc"><use href="#q11c00"/></g><g stroke="#d6d5dc"><use href="#q11b00"/></g><g stroke="#d6d5dc"><use href="#q12b01"/></g><g stroke="#d6d5dc"><use href="#q9d01"/></g></g><rect x="662.50" y="522.50" width="4.80" height="25.40" fill="url(#eg)"/><line x1="662.5" y1="522.8" x2="663.4" y2="522.8" stroke="#fff" stroke-width="0.4"/><line x1="666.4" y1="522.8" x2="667.3" y2="522.8" stroke="#fff" stroke-width="0.4"/><text x="669.1" y="524.3" font-size="4.3" fill="#333">1.00</text><line x1="662.5" y1="529.0" x2="663.4" y2="529.0" stroke="#fff" stroke-width="0.4"/><line x1="666.4" y1="529.0" x2="667.3" y2="529.0" stroke="#fff" stroke-width="0.4"/><text x="669.1" y="530.5" font-size="4.3" fill="#333">0.75</text><line x1="662.5" y1="535.2" x2="663.4" y2="535.2" stroke="#fff" stroke-width="0.4"/><line x1="666.4" y1="535.2" x2="667.3" y2="535.2" stroke="#fff" stroke-width="0.4"/><text x="669.1" y="536.7" font-size="4.3" fill="#333">0.50</text><line x1="662.5" y1="541.4" x2="663.4" y2="541.4" stroke="#fff" stroke-width="0.4"/><line x1="666.4" y1="541.4" x2="667.3" y2="541.4" stroke="#fff" stroke-width="0.4"/><text x="669.1" y="542.9" font-size="4.3" fill="#333">0.25</text><line x1="662.5" y1="547.6" x2="663.4" y2="547.6" stroke="#fff" stroke-width="0.4"/><line x1="666.4" y1="547.6" x2="667.3" y2="547.6" stroke="#fff" stroke-width="0.4"/><text x="669.1" y="549.1" font-size="4.3" fill="#333">0.00</text><line x1="38.3" y1="624.2" x2="38.3" y2="834.8" stroke="#8a8a8a" stroke-width="1.1"/><line x1="37.8" y1="834.3" x2="258.3" y2="834.3" stroke="#333" stroke-width="1.0"/><line x1="35.2" y1="650.8" x2="38.3" y2="650.8" stroke="#555" stroke-width="0.9"/><text x="33.4" y="653.9" font-size="8.8" text-anchor="end" fill="#222">5</text><line x1="35.2" y1="708.0" x2="38.3" y2="708.0" stroke="#555" stroke-width="0.9"/><text x="33.4" y="711.1" font-size="8.8" text-anchor="end" fill="#222">0</text><line x1="35.2" y1="765.2" x2="38.3" y2="765.2" stroke="#555" stroke-width="0.9"/><text x="33.4" y="768.4" font-size="8.8" text-anchor="end" fill="#222">-5</text><line x1="35.2" y1="822.5" x2="38.3" y2="822.5" stroke="#555" stroke-width="0.9"/><text x="33.4" y="825.6" font-size="8.8" text-anchor="end" fill="#222">-10</text><line x1="41.9" y1="834.3" x2="41.9" y2="837.2" stroke="#555" stroke-width="0.9"/><text x="41.9" y="845.5" font-size="8.8" text-anchor="middle" fill="#222">-5</text><line x1="97.2" y1="834.3" x2="97.2" y2="837.2" stroke="#555" stroke-width="0.9"/><text x="97.2" y="845.5" font-size="8.8" text-anchor="middle" fill="#222">0</text><line x1="152.6" y1="834.3" x2="152.6" y2="837.2" stroke="#555" stroke-width="0.9"/><text x="152.6" y="845.5" font-size="8.8" text-anchor="middle" fill="#222">5</text><line x1="207.9" y1="834.3" x2="207.9" y2="837.2" stroke="#555" stroke-width="0.9"/><text x="207.9" y="845.5" font-size="8.8" text-anchor="middle" fill="#222">10</text><text x="148.6" y="857.8" font-size="10.6" text-anchor="middle" fill="#222">UMAP_1</text><text x="13.9" y="729.0" font-size="10.6" text-anchor="middle" fill="#222" transform="rotate(-90 13.9 729.0)">UMAP_2</text><g transform="translate(97.2 708.0) scale(0.5535 0.5725)" stroke-width="1.5"><g stroke="#1dbdc3"><use href="#q7a00"/><use href="#q7a01"/></g><g stroke="#18b3ec"><use href="#q8a00"/><use href="#q8a01"/></g><g stroke="#4a96d8"><use href="#q9a00"/><use href="#q9a01"/></g><g stroke="#8e84c7"><use href="#q10a00"/><use href="#q10a01"/></g><g stroke="#2db68b"><use href="#q6a00"/><use href="#q6a01"/></g><g stroke="#2ab24f"><use href="#q5a00"/><use href="#q5a01"/></g><g stroke="#52b448"><use href="#q4a00"/><use href="#q4a01"/></g><g stroke="#9ba93a"><use href="#q3a00"/><use href="#q3a01"/></g><g stroke="#c9a02f"><use href="#q2a00"/><use href="#q2a01"/></g><g stroke="#e5862c"><use href="#q1a00"/><use href="#q1a01"/></g><g stroke="#f07470"><use href="#q0a00"/><use href="#q0a01"/></g><g stroke="#b57abb"><use href="#q11a00"/><use href="#q11a01"/></g><g stroke="#d86fad"><use href="#q12a00"/><use href="#q12a01"/></g><g stroke="#ee63a0"><use href="#q13a00"/><use href="#q13a01"/></g><g stroke="#1dbdc3"><use href="#q7a10"/><use href="#q7a11"/></g><g stroke="#18b3ec"><use href="#q8a10"/><use href="#q8a11"/></g><g stroke="#4a96d8"><use href="#q9a10"/><use href="#q9a11"/></g><g stroke="#8e84c7"><use href="#q10a10"/><use href="#q10a11"/></g><g stroke="#2db68b"><use href="#q6a10"/><use href="#q6a11"/></g><g stroke="#2ab24f"><use href="#q5a10"/><use href="#q5a11"/></g><g stroke="#52b448"><use href="#q4a11"/></g><g stroke="#e5862c"><use href="#q1a10"/><use href="#q1a11"/></g><g stroke="#b57abb"><use href="#q11a10"/><use href="#q11a11"/></g><g stroke="#d86fad"><use href="#q12a10"/><use href="#q12a11"/></g><g stroke="#ee63a0"><use href="#q13a10"/><use href="#q13a11"/></g><g stroke="#1dbdc3"><use href="#q7b00"/><use href="#q7b01"/></g><g stroke="#18b3ec"><use href="#q8b00"/><use href="#q8b01"/></g><g stroke="#4a96d8"><use href="#q9b00"/><use href="#q9b01"/></g><g stroke="#8e84c7"><use href="#q10b00"/><use href="#q10b01"/></g><g stroke="#2db68b"><use href="#q6b00"/><use href="#q6b01"/></g><g stroke="#2ab24f"><use href="#q5b00"/><use href="#q5b01"/></g><g stroke="#52b448"><use href="#q4b00"/><use href="#q4b01"/></g><g stroke="#9ba93a"><use href="#q3b00"/><use href="#q3b01"/></g><g stroke="#c9a02f"><use href="#q2b00"/><use href="#q2b01"/></g><g stroke="#e5862c"><use href="#q1b00"/><use href="#q1b01"/></g><g stroke="#f07470"><use href="#q0b00"/><use href="#q0b01"/></g><g stroke="#b57abb"><use href="#q11b00"/><use href="#q11b01"/></g><g stroke="#d86fad"><use href="#q12b00"/><use href="#q12b01"/></g><g stroke="#ee63a0"><use href="#q13b00"/><use href="#q13b01"/></g><g stroke="#1dbdc3"><use href="#q7b10"/><use href="#q7b11"/></g><g stroke="#18b3ec"><use href="#q8b10"/><use href="#q8b11"/></g><g stroke="#4a96d8"><use href="#q9b10"/><use href="#q9b11"/></g><g stroke="#8e84c7"><use href="#q10b10"/><use href="#q10b11"/></g><g stroke="#2db68b"><use href="#q6b10"/><use href="#q6b11"/></g><g stroke="#2ab24f"><use href="#q5b10"/><use href="#q5b11"/></g><g stroke="#52b448"><use href="#q4b11"/></g><g stroke="#c9a02f"><use href="#q2b10"/><use href="#q2b11"/></g><g stroke="#e5862c"><use href="#q1b11"/></g><g stroke="#b57abb"><use href="#q11b10"/><use href="#q11b11"/></g><g stroke="#d86fad"><use href="#q12b10"/><use href="#q12b11"/></g><g stroke="#ee63a0"><use href="#q13b10"/><use href="#q13b11"/></g><g stroke="#1dbdc3"><use href="#q7c00"/><use href="#q7c01"/></g><g stroke="#18b3ec"><use href="#q8c00"/><use href="#q8c01"/></g><g stroke="#4a96d8"><use href="#q9c00"/><use href="#q9c01"/></g><g stroke="#8e84c7"><use href="#q10c00"/><use href="#q10c01"/></g><g stroke="#2db68b"><use href="#q6c00"/><use href="#q6c01"/></g><g stroke="#2ab24f"><use href="#q5c00"/><use href="#q5c01"/></g><g stroke="#52b448"><use href="#q4c00"/><use href="#q4c01"/></g><g stroke="#9ba93a"><use href="#q3c00"/><use href="#q3c01"/></g><g stroke="#c9a02f"><use href="#q2c00"/><use href="#q2c01"/></g><g stroke="#e5862c"><use href="#q1c00"/><use href="#q1c01"/></g><g stroke="#f07470"><use href="#q0c00"/><use href="#q0c01"/></g><g stroke="#b57abb"><use href="#q11c00"/><use href="#q11c01"/></g><g stroke="#d86fad"><use href="#q12c00"/><use href="#q12c01"/></g><g stroke="#ee63a0"><use href="#q13c00"/><use href="#q13c01"/></g><g stroke="#1dbdc3"><use href="#q7c10"/><use href="#q7c11"/></g><g stroke="#18b3ec"><use href="#q8c10"/><use href="#q8c11"/></g><g stroke="#4a96d8"><use href="#q9c10"/><use href="#q9c11"/></g><g stroke="#8e84c7"><use href="#q10c10"/><use href="#q10c11"/></g><g stroke="#2db68b"><use href="#q6c10"/><use href="#q6c11"/></g><g stroke="#2ab24f"><use href="#q5c10"/><use href="#q5c11"/></g><g stroke="#52b448"><use href="#q4c10"/><use href="#q4c11"/></g><g stroke="#c9a02f"><use href="#q2c10"/><use href="#q2c11"/></g><g stroke="#b57abb"><use href="#q11c10"/><use href="#q11c11"/></g><g stroke="#d86fad"><use href="#q12c10"/><use href="#q12c11"/></g><g stroke="#ee63a0"><use href="#q13c10"/><use href="#q13c11"/></g><g stroke="#1dbdc3"><use href="#q7d00"/><use href="#q7d01"/></g><g stroke="#18b3ec"><use href="#q8d00"/><use href="#q8d01"/></g><g stroke="#4a96d8"><use href="#q9d00"/><use href="#q9d01"/></g><g stroke="#8e84c7"><use href="#q10d00"/><use href="#q10d01"/></g><g stroke="#2db68b"><use href="#q6d00"/><use href="#q6d01"/></g><g stroke="#2ab24f"><use href="#q5d00"/><use href="#q5d01"/></g><g stroke="#52b448"><use href="#q4d00"/><use href="#q4d01"/></g><g stroke="#9ba93a"><use href="#q3d00"/><use href="#q3d01"/></g><g stroke="#c9a02f"><use href="#q2d00"/><use href="#q2d01"/></g><g stroke="#e5862c"><use href="#q1d00"/><use href="#q1d01"/></g><g stroke="#f07470"><use href="#q0d00"/><use href="#q0d01"/></g><g stroke="#b57abb"><use href="#q11d00"/><use href="#q11d01"/></g><g stroke="#d86fad"><use href="#q12d00"/><use href="#q12d01"/></g><g stroke="#ee63a0"><use href="#q13d00"/><use href="#q13d01"/></g><g stroke="#1dbdc3"><use href="#q7d10"/><use href="#q7d11"/></g><g stroke="#18b3ec"><use href="#q8d10"/><use href="#q8d11"/></g><g stroke="#4a96d8"><use href="#q9d10"/><use href="#q9d11"/></g><g stroke="#8e84c7"><use href="#q10d10"/><use href="#q10d11"/></g><g stroke="#2db68b"><use href="#q6d10"/><use href="#q6d11"/></g><g stroke="#2ab24f"><use href="#q5d10"/><use href="#q5d11"/></g><g stroke="#52b448"><use href="#q4d10"/><use href="#q4d11"/></g><g stroke="#9ba93a"><use href="#q3d10"/></g><g stroke="#c9a02f"><use href="#q2d10"/></g><g stroke="#e5862c"><use href="#q1d11"/></g><g stroke="#b57abb"><use href="#q11d10"/><use href="#q11d11"/></g><g stroke="#d86fad"><use href="#q12d10"/><use href="#q12d11"/></g><g stroke="#ee63a0"><use href="#q13d10"/><use href="#q13d11"/></g></g><text x="91.2" y="647.3" font-size="8.8" text-anchor="middle" fill="#111">ifn</text><text x="68.8" y="668.8" font-size="8.8" text-anchor="middle" fill="#111">np3</text><text x="87.5" y="680.1" font-size="8.8" text-anchor="middle" fill="#111">np2</text><text x="65.7" y="695.9" font-size="8.8" text-anchor="middle" fill="#111">np1</text><text x="88.8" y="703.1" font-size="8.8" text-anchor="middle" fill="#111">diff</text><text x="110.4" y="715.1" font-size="8.8" text-anchor="middle" fill="#111">tgf</text><text x="153.2" y="702.4" font-size="8.8" text-anchor="middle" fill="#111">np4</text><text x="62.8" y="749.4" font-size="8.8" text-anchor="middle" fill="#111">pMk</text><text x="94.6" y="773.1" font-size="8.8" text-anchor="middle" fill="#111">rep</text><text x="48.6" y="777.0" font-size="8.8" text-anchor="middle" fill="#111">pL1</text><text x="76.2" y="791.4" font-size="8.8" text-anchor="middle" fill="#111">pNeu</text><text x="53.3" y="803.2" font-size="8.8" text-anchor="middle" fill="#111">pMast</text><text x="81.4" y="813.0" font-size="8.8" text-anchor="middle" fill="#111">div</text><text x="236.0" y="757.1" font-size="8.8" text-anchor="middle" fill="#111">pEr</text><circle cx="274.2" cy="654.2" r="3.0" fill="#f07470"/><text x="285.5" y="657.5" font-size="9.6" fill="#111">pMast</text><circle cx="274.2" cy="665.7" r="3.0" fill="#e5862c"/><text x="285.5" y="669.0" font-size="9.6" fill="#111">pNeu</text><circle cx="274.2" cy="677.3" r="3.0" fill="#c9a02f"/><text x="285.5" y="680.6" font-size="9.6" fill="#111">pEr</text><circle cx="274.2" cy="688.8" r="3.0" fill="#9ba93a"/><text x="285.5" y="692.1" font-size="9.6" fill="#111">pL1</text><circle cx="274.2" cy="700.4" r="3.0" fill="#52b448"/><text x="285.5" y="703.7" font-size="9.6" fill="#111">pMk</text><circle cx="274.2" cy="711.9" r="3.0" fill="#2ab24f"/><text x="285.5" y="715.2" font-size="9.6" fill="#111">div</text><circle cx="274.2" cy="723.4" r="3.0" fill="#2db68b"/><text x="285.5" y="726.7" font-size="9.6" fill="#111">rep</text><circle cx="274.2" cy="735.0" r="3.0" fill="#1dbdc3"/><text x="285.5" y="738.3" font-size="9.6" fill="#111">diff</text><circle cx="274.2" cy="746.5" r="3.0" fill="#18b3ec"/><text x="285.5" y="749.8" font-size="9.6" fill="#111">np4</text><circle cx="274.2" cy="758.1" r="3.0" fill="#4a96d8"/><text x="285.5" y="761.4" font-size="9.6" fill="#111">np3</text><circle cx="274.2" cy="769.6" r="3.0" fill="#8e84c7"/><text x="285.5" y="772.9" font-size="9.6" fill="#111">ifn</text><circle cx="274.2" cy="781.1" r="3.0" fill="#b57abb"/><text x="285.5" y="784.4" font-size="9.6" fill="#111">np2</text><circle cx="274.2" cy="792.7" r="3.0" fill="#d86fad"/><text x="285.5" y="796.0" font-size="9.6" fill="#111">np1</text><circle cx="274.2" cy="804.2" r="3.0" fill="#ee63a0"/><text x="285.5" y="807.5" font-size="9.6" fill="#111">tgf</text><line x1="317.5" y1="652.0" x2="317.5" y2="700.5" stroke="#222" stroke-width="0.9"/><line x1="314.8" y1="652.0" x2="317.5" y2="652.0" stroke="#222" stroke-width="0.9"/><line x1="317.5" y1="710.0" x2="317.5" y2="807.0" stroke="#222" stroke-width="0.9"/><text x="330.0" y="676.0" font-size="8.6" text-anchor="middle" fill="#222" transform="rotate(-90 330.0 676.0)">primed</text><text x="330.0" y="756.0" font-size="8.6" text-anchor="middle" fill="#222" transform="rotate(-90 330.0 756.0)">non-primed</text><rect x="396.80" y="634.90" width="0.00" height="12.60" fill="#cd5656"/><rect x="396.80" y="634.90" width="96.50" height="12.60" fill="#3e7cc3"/><line x1="389.3" y1="641.2" x2="392.3" y2="641.2" stroke="#333" stroke-width="0.8"/><text x="388.4" y="644.3" font-size="8.8" text-anchor="end" fill="#4d4d4d">pMast</text><rect x="396.80" y="648.83" width="7.14" height="12.60" fill="#cd5656"/><rect x="403.94" y="648.83" width="89.36" height="12.60" fill="#3e7cc3"/><line x1="389.3" y1="655.1" x2="392.3" y2="655.1" stroke="#333" stroke-width="0.8"/><text x="388.4" y="658.2" font-size="8.8" text-anchor="end" fill="#4d4d4d">pNeu</text><rect x="396.80" y="662.76" width="14.28" height="12.60" fill="#cd5656"/><rect x="411.08" y="662.76" width="82.22" height="12.60" fill="#3e7cc3"/><line x1="389.3" y1="669.1" x2="392.3" y2="669.1" stroke="#333" stroke-width="0.8"/><text x="388.4" y="672.2" font-size="8.8" text-anchor="end" fill="#4d4d4d">pEr</text><rect x="396.80" y="676.69" width="6.08" height="12.60" fill="#cd5656"/><rect x="402.88" y="676.69" width="90.42" height="12.60" fill="#3e7cc3"/><line x1="389.3" y1="683.0" x2="392.3" y2="683.0" stroke="#333" stroke-width="0.8"/><text x="388.4" y="686.1" font-size="8.8" text-anchor="end" fill="#4d4d4d">pL1</text><rect x="396.80" y="690.62" width="7.14" height="12.60" fill="#cd5656"/><rect x="403.94" y="690.62" width="89.36" height="12.60" fill="#3e7cc3"/><line x1="389.3" y1="696.9" x2="392.3" y2="696.9" stroke="#333" stroke-width="0.8"/><text x="388.4" y="700.0" font-size="8.8" text-anchor="end" fill="#4d4d4d">pMk</text><rect x="396.80" y="704.55" width="17.37" height="12.60" fill="#cd5656"/><rect x="414.17" y="704.55" width="79.13" height="12.60" fill="#3e7cc3"/><line x1="389.3" y1="710.9" x2="392.3" y2="710.9" stroke="#333" stroke-width="0.8"/><text x="388.4" y="714.0" font-size="8.8" text-anchor="end" fill="#4d4d4d">div</text><rect x="396.80" y="718.48" width="30.59" height="12.60" fill="#cd5656"/><rect x="427.39" y="718.48" width="65.91" height="12.60" fill="#3e7cc3"/><line x1="389.3" y1="724.8" x2="392.3" y2="724.8" stroke="#333" stroke-width="0.8"/><text x="388.4" y="727.9" font-size="8.8" text-anchor="end" fill="#4d4d4d">rep</text><rect x="396.80" y="732.41" width="55.78" height="12.60" fill="#cd5656"/><rect x="452.58" y="732.41" width="40.72" height="12.60" fill="#3e7cc3"/><line x1="389.3" y1="738.7" x2="392.3" y2="738.7" stroke="#333" stroke-width="0.8"/><text x="388.4" y="741.8" font-size="8.8" text-anchor="end" fill="#4d4d4d">diff</text><rect x="396.80" y="746.34" width="22.10" height="12.60" fill="#cd5656"/><rect x="418.90" y="746.34" width="74.40" height="12.60" fill="#3e7cc3"/><line x1="389.3" y1="752.6" x2="392.3" y2="752.6" stroke="#333" stroke-width="0.8"/><text x="388.4" y="755.7" font-size="8.8" text-anchor="end" fill="#4d4d4d">np4</text><rect x="396.80" y="760.27" width="82.80" height="12.60" fill="#cd5656"/><rect x="479.60" y="760.27" width="13.70" height="12.60" fill="#3e7cc3"/><line x1="389.3" y1="766.6" x2="392.3" y2="766.6" stroke="#333" stroke-width="0.8"/><text x="388.4" y="769.7" font-size="8.8" text-anchor="end" fill="#4d4d4d">np3</text><rect x="396.80" y="774.20" width="84.24" height="12.60" fill="#cd5656"/><rect x="481.04" y="774.20" width="12.26" height="12.60" fill="#3e7cc3"/><line x1="389.3" y1="780.5" x2="392.3" y2="780.5" stroke="#333" stroke-width="0.8"/><text x="388.4" y="783.6" font-size="8.8" text-anchor="end" fill="#4d4d4d">ifn</text><rect x="396.80" y="788.13" width="73.24" height="12.60" fill="#cd5656"/><rect x="470.04" y="788.13" width="23.26" height="12.60" fill="#3e7cc3"/><line x1="389.3" y1="794.4" x2="392.3" y2="794.4" stroke="#333" stroke-width="0.8"/><text x="388.4" y="797.5" font-size="8.8" text-anchor="end" fill="#4d4d4d">np2</text><rect x="396.80" y="802.06" width="58.87" height="12.60" fill="#cd5656"/><rect x="455.67" y="802.06" width="37.63" height="12.60" fill="#3e7cc3"/><line x1="389.3" y1="808.4" x2="392.3" y2="808.4" stroke="#333" stroke-width="0.8"/><text x="388.4" y="811.5" font-size="8.8" text-anchor="end" fill="#4d4d4d">np1</text><rect x="396.80" y="815.99" width="44.97" height="12.60" fill="#cd5656"/><rect x="441.77" y="815.99" width="51.53" height="12.60" fill="#3e7cc3"/><line x1="389.3" y1="822.3" x2="392.3" y2="822.3" stroke="#333" stroke-width="0.8"/><text x="388.4" y="825.4" font-size="8.8" text-anchor="end" fill="#4d4d4d">tgf</text><line x1="392.3" y1="633.3" x2="392.3" y2="831.8" stroke="#222" stroke-width="1.1"/><line x1="391.8" y1="831.2" x2="497.2" y2="831.2" stroke="#222" stroke-width="1.1"/><line x1="396.8" y1="831.2" x2="396.8" y2="834.0" stroke="#333" stroke-width="0.8"/><text x="396.8" y="841.6" font-size="8.6" text-anchor="middle" fill="#4d4d4d">0</text><line x1="420.9" y1="831.2" x2="420.9" y2="834.0" stroke="#333" stroke-width="0.8"/><text x="420.9" y="841.6" font-size="8.6" text-anchor="middle" fill="#4d4d4d">25</text><line x1="445.1" y1="831.2" x2="445.1" y2="834.0" stroke="#333" stroke-width="0.8"/><text x="445.1" y="841.6" font-size="8.6" text-anchor="middle" fill="#4d4d4d">50</text><line x1="469.2" y1="831.2" x2="469.2" y2="834.0" stroke="#333" stroke-width="0.8"/><text x="469.2" y="841.6" font-size="8.6" text-anchor="middle" fill="#4d4d4d">75</text><line x1="493.3" y1="831.2" x2="493.3" y2="834.0" stroke="#333" stroke-width="0.8"/><text x="493.3" y="841.6" font-size="8.6" text-anchor="middle" fill="#4d4d4d">100</text><text x="444.7" y="851.0" font-size="10.5" text-anchor="middle" fill="#222" textLength="83.8" lengthAdjust="spacingAndGlyphs">Proportion of cells</text><text x="509.0" y="721.6" font-size="8.2" fill="#222">LTHSC</text><rect x="509.50" y="726.70" width="10.50" height="10.40" fill="#3e7cc3"/><rect x="509.50" y="738.00" width="10.50" height="10.50" fill="#cd5656"/><text x="523.8" y="734.0" font-size="6.4" fill="#222">Neg</text><text x="523.8" y="745.4" font-size="6.4" fill="#222">Pos</text><line x1="494.0" y1="30.0" x2="494.0" y2="106.9" stroke="#222" stroke-width="0.9"/><line x1="493.5" y1="106.4" x2="543.4" y2="106.4" stroke="#222" stroke-width="0.9"/><line x1="492.0" y1="42.3" x2="494.0" y2="42.3" stroke="#333" stroke-width="0.7"/><text x="491.2" y="44.6" font-size="6.6" text-anchor="end" fill="#555">30</text><line x1="492.0" y1="62.0" x2="494.0" y2="62.0" stroke="#333" stroke-width="0.7"/><text x="491.2" y="64.3" font-size="6.6" text-anchor="end" fill="#555">20</text><line x1="492.0" y1="81.5" x2="494.0" y2="81.5" stroke="#333" stroke-width="0.7"/><text x="491.2" y="83.8" font-size="6.6" text-anchor="end" fill="#555">10</text><line x1="492.0" y1="101.2" x2="494.0" y2="101.2" stroke="#333" stroke-width="0.7"/><text x="491.2" y="103.5" font-size="6.6" text-anchor="end" fill="#555">0</text><line x1="507.4" y1="106.4" x2="507.4" y2="108.4" stroke="#333" stroke-width="0.7"/><text x="509.2" y="110.6" font-size="6.2" text-anchor="end" fill="#4d4d4d" transform="rotate(-45 509.2 110.6)" dy="2.2">Neg</text><line x1="530.2" y1="106.4" x2="530.2" y2="108.4" stroke="#333" stroke-width="0.7"/><text x="532.0" y="110.6" font-size="6.2" text-anchor="end" fill="#4d4d4d" transform="rotate(-45 532.0 110.6)" dy="2.2">Pos</text><text x="518.8" y="26.0" font-size="7.8" text-anchor="middle" font-weight="bold" fill="#111">Ly6a</text><text x="479.4" y="68.0" font-size="6.7" text-anchor="middle" fill="#111" transform="rotate(-90 479.4 68.0)" dy="2.4">Expression Level</text><line x1="507.4" y1="85.0" x2="507.4" y2="97.3" stroke="#222" stroke-width="0.5"/><path d="M507.40 103.17 506.40 101.99 497.10 101.20 506.20 100.61 506.60 99.82 504.80 99.23 506.80 98.64 506.90 97.26 507.40 96.90 507.40 96.90 507.90 97.26 508.00 98.64 510.00 99.23 508.20 99.82 508.60 100.61 517.70 101.20 508.40 101.99 507.40 103.17Z" fill="#3b7dc6" stroke="#111" stroke-width="0.45" stroke-linejoin="round"/><line x1="501.7" y1="101.2" x2="513.1" y2="101.2" stroke="#111" stroke-width="0.8"/><line x1="530.2" y1="34.2" x2="530.2" y2="93.3" stroke="#222" stroke-width="0.5"/><path d="M530.20 102.97 528.70 102.19 527.20 101.20 528.40 100.22 527.20 99.23 528.60 98.25 528.90 97.26 529.40 96.08 529.60 94.90 529.90 93.32 530.20 91.94 530.20 91.94 530.50 93.32 530.80 94.90 531.00 96.08 531.50 97.26 531.80 98.25 533.20 99.23 532.00 100.22 533.20 101.20 531.70 102.19 530.20 102.97Z" fill="#cd5252" stroke="#111" stroke-width="0.45" stroke-linejoin="round"/><line x1="528.6" y1="101.2" x2="531.9" y2="101.2" stroke="#111" stroke-width="0.8"/><path d="M507.4 35.099999999999994V33.3H530.2V35.099999999999994" fill="none" stroke="#555" stroke-width="0.55"/><text x="518.8" y="34.9" font-size="6.0" text-anchor="middle" fill="#333">****</text><line x1="566.4" y1="29.6" x2="566.4" y2="106.7" stroke="#222" stroke-width="0.9"/><line x1="565.9" y1="106.2" x2="615.5" y2="106.2" stroke="#222" stroke-width="0.9"/><line x1="564.4" y1="51.4" x2="566.4" y2="51.4" stroke="#333" stroke-width="0.7"/><text x="563.6" y="53.7" font-size="6.6" text-anchor="end" fill="#555">10</text><line x1="564.4" y1="75.4" x2="566.4" y2="75.4" stroke="#333" stroke-width="0.7"/><text x="563.6" y="77.7" font-size="6.6" text-anchor="end" fill="#555">5</text><line x1="564.4" y1="99.4" x2="566.4" y2="99.4" stroke="#333" stroke-width="0.7"/><text x="563.6" y="101.7" font-size="6.6" text-anchor="end" fill="#555">0</text><line x1="580.0" y1="106.2" x2="580.0" y2="108.2" stroke="#333" stroke-width="0.7"/><text x="581.8" y="110.4" font-size="6.2" text-anchor="end" fill="#4d4d4d" transform="rotate(-45 581.8 110.4)" dy="2.2">Neg</text><line x1="602.4" y1="106.2" x2="602.4" y2="108.2" stroke="#333" stroke-width="0.7"/><text x="604.2" y="110.4" font-size="6.2" text-anchor="end" fill="#4d4d4d" transform="rotate(-45 604.2 110.4)" dy="2.2">Pos</text><text x="591.4" y="25.8" font-size="7.8" text-anchor="middle" font-weight="bold" fill="#111">Kit</text><text x="551.9" y="68.4" font-size="6.7" text-anchor="middle" fill="#111" transform="rotate(-90 551.9 68.4)" dy="2.4">Expression Level</text><line x1="580.0" y1="33.2" x2="580.0" y2="70.6" stroke="#222" stroke-width="0.5"/><path d="M580.00 102.28 577.00 100.84 570.00 99.40 574.00 97.96 576.50 96.52 573.50 94.60 577.00 93.16 578.00 91.24 576.80 89.80 578.80 87.88 579.00 85.96 577.80 84.52 579.20 82.60 578.80 80.20 579.60 78.28 579.60 75.40 579.70 70.60 580.00 69.22 580.00 69.22 580.30 70.60 580.40 75.40 580.40 78.28 581.20 80.20 580.80 82.60 582.20 84.52 581.00 85.96 581.20 87.88 583.20 89.80 582.00 91.24 583.00 93.16 586.50 94.60 583.50 96.52 586.00 97.96 590.00 99.40 583.00 100.84 580.00 102.28Z" fill="#3b7dc6" stroke="#111" stroke-width="0.45" stroke-linejoin="round"/><line x1="576.4" y1="94.6" x2="583.6" y2="94.6" stroke="#111" stroke-width="0.8"/><line x1="602.4" y1="37.0" x2="602.4" y2="63.4" stroke="#222" stroke-width="0.5"/><path d="M602.40 102.28 599.90 100.84 596.40 99.40 598.90 97.72 596.90 95.80 596.10 94.12 598.90 92.20 596.10 89.80 598.90 87.88 597.40 85.96 599.40 84.04 598.90 82.12 600.40 80.20 600.20 77.80 601.20 75.40 600.90 73.96 601.80 71.56 601.90 68.20 602.10 63.40 602.40 62.09 602.40 62.09 602.70 63.40 602.90 68.20 603.00 71.56 603.90 73.96 603.60 75.40 604.60 77.80 604.40 80.20 605.90 82.12 605.40 84.04 607.40 85.96 605.90 87.88 608.70 89.80 605.90 92.20 608.70 94.12 607.90 95.80 605.90 97.72 608.40 99.40 604.90 100.84 602.40 102.28Z" fill="#cd5252" stroke="#111" stroke-width="0.45" stroke-linejoin="round"/><line x1="598.9" y1="89.8" x2="605.9" y2="89.8" stroke="#111" stroke-width="0.8"/><path d="M580.0 35.0V33.2H602.4V35.0" fill="none" stroke="#555" stroke-width="0.55"/><text x="591.2" y="34.8" font-size="6.0" text-anchor="middle" fill="#333">****</text><line x1="635.4" y1="30.0" x2="635.4" y2="106.7" stroke="#222" stroke-width="0.9"/><line x1="634.9" y1="106.2" x2="685.0" y2="106.2" stroke="#222" stroke-width="0.9"/><line x1="633.4" y1="36.3" x2="635.4" y2="36.3" stroke="#333" stroke-width="0.7"/><text x="632.6" y="38.6" font-size="6.6" text-anchor="end" fill="#555">6</text><line x1="633.4" y1="57.9" x2="635.4" y2="57.9" stroke="#333" stroke-width="0.7"/><text x="632.6" y="60.2" font-size="6.6" text-anchor="end" fill="#555">4</text><line x1="633.4" y1="79.3" x2="635.4" y2="79.3" stroke="#333" stroke-width="0.7"/><text x="632.6" y="81.6" font-size="6.6" text-anchor="end" fill="#555">2</text><line x1="633.4" y1="100.8" x2="635.4" y2="100.8" stroke="#333" stroke-width="0.7"/><text x="632.6" y="103.1" font-size="6.6" text-anchor="end" fill="#555">0</text><line x1="648.7" y1="106.2" x2="648.7" y2="108.2" stroke="#333" stroke-width="0.7"/><text x="650.5" y="110.4" font-size="6.2" text-anchor="end" fill="#4d4d4d" transform="rotate(-45 650.5 110.4)" dy="2.2">Neg</text><line x1="671.3" y1="106.2" x2="671.3" y2="108.2" stroke="#333" stroke-width="0.7"/><text x="673.1" y="110.4" font-size="6.2" text-anchor="end" fill="#4d4d4d" transform="rotate(-45 673.1 110.4)" dy="2.2">Pos</text><text x="659.9" y="25.8" font-size="7.8" text-anchor="middle" font-weight="bold" fill="#111">Flt3</text><text x="623.8" y="68.0" font-size="6.7" text-anchor="middle" fill="#111" transform="rotate(-90 623.8 68.0)" dy="2.4">Expression Level</text><line x1="648.7" y1="33.1" x2="648.7" y2="98.6" stroke="#222" stroke-width="0.5"/><path d="M648.70 103.49 646.20 101.88 644.20 100.80 646.70 99.72 648.40 98.65 648.70 97.24 648.70 97.24 649.00 98.65 650.70 99.72 653.20 100.80 651.20 101.88 648.70 103.49Z" fill="#3b7dc6" stroke="#111" stroke-width="0.45" stroke-linejoin="round"/><line x1="646.2" y1="100.8" x2="651.2" y2="100.8" stroke="#111" stroke-width="0.8"/><line x1="671.3" y1="78.2" x2="671.3" y2="99.9" stroke="#222" stroke-width="0.5"/><path d="M671.30 101.66 660.80 100.80 671.00 99.94 671.30 99.47 671.30 99.47 671.60 99.94 681.80 100.80 671.30 101.66Z" fill="#cd5252" stroke="#111" stroke-width="0.45" stroke-linejoin="round"/><line x1="665.5" y1="100.8" x2="677.1" y2="100.8" stroke="#111" stroke-width="0.8"/><path d="M648.7 34.8V33.0H671.3V34.8" fill="none" stroke="#555" stroke-width="0.55"/><text x="660.0" y="34.6" font-size="6.0" text-anchor="middle" fill="#333">***</text><line x1="494.1" y1="136.7" x2="494.1" y2="213.7" stroke="#222" stroke-width="0.9"/><line x1="493.6" y1="213.2" x2="543.3" y2="213.2" stroke="#222" stroke-width="0.9"/><line x1="492.1" y1="156.5" x2="494.1" y2="156.5" stroke="#333" stroke-width="0.7"/><text x="491.3" y="158.8" font-size="6.6" text-anchor="end" fill="#555">4</text><line x1="492.1" y1="181.2" x2="494.1" y2="181.2" stroke="#333" stroke-width="0.7"/><text x="491.3" y="183.5" font-size="6.6" text-anchor="end" fill="#555">2</text><line x1="492.1" y1="205.7" x2="494.1" y2="205.7" stroke="#333" stroke-width="0.7"/><text x="491.3" y="208.0" font-size="6.6" text-anchor="end" fill="#555">0</text><line x1="507.5" y1="213.2" x2="507.5" y2="215.2" stroke="#333" stroke-width="0.7"/><text x="509.3" y="217.4" font-size="6.2" text-anchor="end" fill="#4d4d4d" transform="rotate(-45 509.3 217.4)" dy="2.2">Neg</text><line x1="530.2" y1="213.2" x2="530.2" y2="215.2" stroke="#333" stroke-width="0.7"/><text x="532.0" y="217.4" font-size="6.2" text-anchor="end" fill="#4d4d4d" transform="rotate(-45 532.0 217.4)" dy="2.2">Pos</text><text x="518.4" y="132.8" font-size="7.8" text-anchor="middle" font-weight="bold" fill="#111">Slamf1</text><text x="478.4" y="175.2" font-size="6.7" text-anchor="middle" fill="#111" transform="rotate(-90 478.4 175.2)" dy="2.4">Expression Level</text><line x1="507.5" y1="140.8" x2="507.5" y2="191.6" stroke="#222" stroke-width="0.5"/><path d="M507.50 208.15 497.50 205.70 505.50 203.86 507.20 202.02 507.20 195.29 505.90 193.45 507.20 191.61 507.50 190.26 507.50 190.26 507.80 191.61 509.10 193.45 507.80 195.29 507.80 202.02 509.50 203.86 517.50 205.70 507.50 208.15Z" fill="#3b7dc6" stroke="#111" stroke-width="0.45" stroke-linejoin="round"/><line x1="502.0" y1="205.7" x2="513.0" y2="205.7" stroke="#111" stroke-width="0.8"/><line x1="530.2" y1="140.8" x2="530.2" y2="191.6" stroke="#222" stroke-width="0.5"/><path d="M530.20 209.38 523.70 205.70 527.70 203.25 529.80 201.41 529.80 195.29 528.00 193.45 529.80 191.61 530.20 190.24 530.20 190.24 530.60 191.61 532.40 193.45 530.60 195.29 530.60 201.41 532.70 203.25 536.70 205.70 530.20 209.38Z" fill="#cd5252" stroke="#111" stroke-width="0.45" stroke-linejoin="round"/><line x1="526.6" y1="205.7" x2="533.8" y2="205.7" stroke="#111" stroke-width="0.8"/><path d="M507.5 142.20000000000002V140.4H530.2V142.20000000000002" fill="none" stroke="#555" stroke-width="0.55"/><text x="518.9" y="142.0" font-size="6.0" text-anchor="middle" fill="#333">****</text><line x1="566.9" y1="136.8" x2="566.9" y2="213.7" stroke="#222" stroke-width="0.9"/><line x1="566.4" y1="213.2" x2="615.6" y2="213.2" stroke="#222" stroke-width="0.9"/><line x1="564.9" y1="143.2" x2="566.9" y2="143.2" stroke="#333" stroke-width="0.7"/><text x="564.1" y="145.5" font-size="6.6" text-anchor="end" fill="#555">8</text><line x1="564.9" y1="159.5" x2="566.9" y2="159.5" stroke="#333" stroke-width="0.7"/><text x="564.1" y="161.8" font-size="6.6" text-anchor="end" fill="#555">6</text><line x1="564.9" y1="176.0" x2="566.9" y2="176.0" stroke="#333" stroke-width="0.7"/><text x="564.1" y="178.3" font-size="6.6" text-anchor="end" fill="#555">4</text><line x1="564.9" y1="192.3" x2="566.9" y2="192.3" stroke="#333" stroke-width="0.7"/><text x="564.1" y="194.6" font-size="6.6" text-anchor="end" fill="#555">2</text><line x1="564.9" y1="208.1" x2="566.9" y2="208.1" stroke="#333" stroke-width="0.7"/><text x="564.1" y="210.4" font-size="6.6" text-anchor="end" fill="#555">0</text><line x1="579.8" y1="213.2" x2="579.8" y2="215.2" stroke="#333" stroke-width="0.7"/><text x="581.6" y="217.4" font-size="6.2" text-anchor="end" fill="#4d4d4d" transform="rotate(-45 581.6 217.4)" dy="2.2">Neg</text><line x1="602.4" y1="213.2" x2="602.4" y2="215.2" stroke="#333" stroke-width="0.7"/><text x="604.2" y="217.4" font-size="6.2" text-anchor="end" fill="#4d4d4d" transform="rotate(-45 604.2 217.4)" dy="2.2">Pos</text><text x="591.2" y="132.6" font-size="7.8" text-anchor="middle" font-weight="bold" fill="#111">Cd48</text><text x="551.6" y="175.2" font-size="6.7" text-anchor="middle" fill="#111" transform="rotate(-90 551.6 175.2)" dy="2.4">Expression Level</text><line x1="579.8" y1="141.7" x2="579.8" y2="207.2" stroke="#222" stroke-width="0.5"/><path d="M579.80 209.05 577.20 208.10 579.80 207.15 579.80 205.81 579.80 205.81 579.80 207.15 582.40 208.10 579.80 209.05Z" fill="#3b7dc6" stroke="#111" stroke-width="0.45" stroke-linejoin="round"/><line x1="578.4" y1="208.1" x2="581.2" y2="208.1" stroke="#111" stroke-width="0.8"/><line x1="602.4" y1="199.4" x2="602.4" y2="207.6" stroke="#222" stroke-width="0.5"/><path d="M602.40 208.57 591.90 208.10 602.40 207.63 602.40 207.44 602.40 207.44 602.40 207.63 612.90 208.10 602.40 208.57Z" fill="#cd5252" stroke="#111" stroke-width="0.45" stroke-linejoin="round"/><line x1="596.6" y1="208.1" x2="608.2" y2="208.1" stroke="#111" stroke-width="0.8"/><path d="M579.8 141.8V140.0H602.4V141.8" fill="none" stroke="#555" stroke-width="0.55"/><text x="591.1" y="141.6" font-size="6.0" text-anchor="middle" fill="#333">****</text><rect x="628.30" y="163.30" width="9.50" height="9.90" fill="#3b7dc6"/><rect x="628.30" y="174.60" width="9.50" height="9.60" fill="#cd5252"/><text x="642.0" y="170.8" font-size="6.2" fill="#222">Neg</text><text x="642.0" y="181.8" font-size="6.2" fill="#222">Pos</text>
</svg></body></html>
